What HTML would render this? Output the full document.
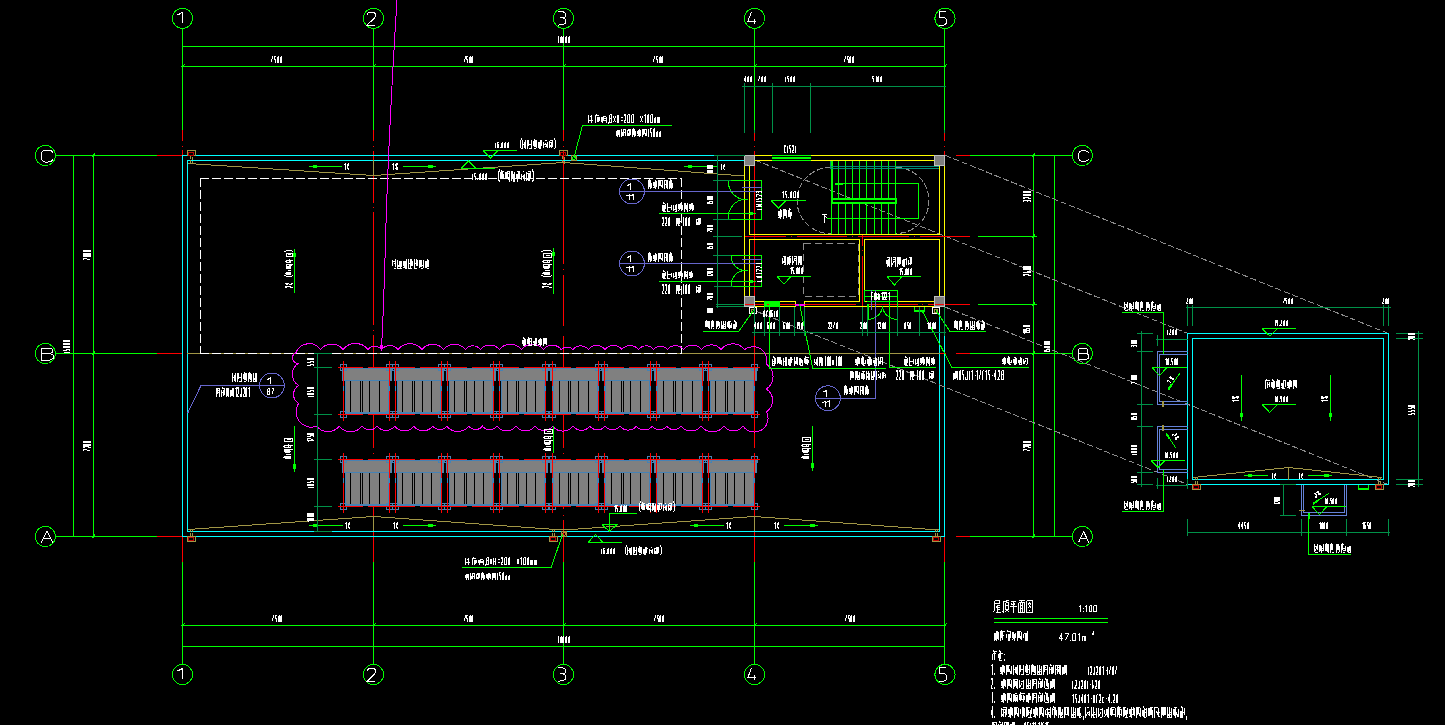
<!DOCTYPE html>
<html><head><meta charset="utf-8"><title>Roof plan</title>
<style>html,body{margin:0;padding:0;background:#000;overflow:hidden}body{width:1445px;height:725px;font-family:"Liberation Sans",sans-serif}svg{display:block}</style>
</head><body>
<svg width="1445" height="725" viewBox="0 0 1445 725" shape-rendering="crispEdges" role="img" aria-label="Roof plan CAD drawing">
<title>Roof plan 1:100</title>
<desc>屋顶平面图 1:100; 本层建筑面积 47.01m2; 轴线 1-5 / A-C; 7500 7500 7500 7500 30000; 7800 7200 15000; 太阳能光伏区域; 上人平屋面; 不上人平屋面; 电梯机房 15.000; 无机设备间 15.000; 屋面二 15.000; 女儿墙泛水; 出屋面详图 1/11; 砖砌踏步两步 220宽300高; 混凝土水簸箕; 钢筋混凝土雨篷 18.500; 溢流孔 BxH=200x100mm 孔底高出屋面150mm; 说明: 1.屋面女儿墙泛水做法详见12J201-1/B7 2.屋面外落水做法参见12J201-A20 3.屋面检修梯做法参见15J401-WT2c-4.28 4.高屋面向低屋面有组织排水时,在水落管下的低屋面上应加设水簸箕</desc>
<circle cx="182.5" cy="18.4" r="10.1" fill="none" stroke="#00ff00" stroke-width="1"/>
<circle cx="182.5" cy="674.5" r="10.1" fill="none" stroke="#00ff00" stroke-width="1"/>
<line x1="182.5" y1="29" x2="182.5" y2="130" stroke="#00ff00" stroke-width="1"/>
<line x1="182.5" y1="562" x2="182.5" y2="664.4" stroke="#00ff00" stroke-width="1"/>
<circle cx="373.5" cy="18.4" r="10.1" fill="none" stroke="#00ff00" stroke-width="1"/>
<circle cx="373.5" cy="674.5" r="10.1" fill="none" stroke="#00ff00" stroke-width="1"/>
<line x1="373.5" y1="29" x2="373.5" y2="130" stroke="#00ff00" stroke-width="1"/>
<line x1="373.5" y1="562" x2="373.5" y2="664.4" stroke="#00ff00" stroke-width="1"/>
<circle cx="563.5" cy="18.4" r="10.1" fill="none" stroke="#00ff00" stroke-width="1"/>
<circle cx="563.5" cy="674.5" r="10.1" fill="none" stroke="#00ff00" stroke-width="1"/>
<line x1="563.5" y1="29" x2="563.5" y2="130" stroke="#00ff00" stroke-width="1"/>
<line x1="563.5" y1="562" x2="563.5" y2="664.4" stroke="#00ff00" stroke-width="1"/>
<circle cx="754.5" cy="18.4" r="10.1" fill="none" stroke="#00ff00" stroke-width="1"/>
<circle cx="754.5" cy="674.5" r="10.1" fill="none" stroke="#00ff00" stroke-width="1"/>
<line x1="754.5" y1="29" x2="754.5" y2="130" stroke="#00ff00" stroke-width="1"/>
<line x1="754.5" y1="562" x2="754.5" y2="664.4" stroke="#00ff00" stroke-width="1"/>
<circle cx="945" cy="18.4" r="10.1" fill="none" stroke="#00ff00" stroke-width="1"/>
<circle cx="945" cy="674.5" r="10.1" fill="none" stroke="#00ff00" stroke-width="1"/>
<line x1="944.5" y1="29" x2="944.5" y2="130" stroke="#00ff00" stroke-width="1"/>
<line x1="944.5" y1="562" x2="944.5" y2="664.4" stroke="#00ff00" stroke-width="1"/>
<line x1="182" y1="46.5" x2="945" y2="46.5" stroke="#00ff00" stroke-width="1"/>
<line x1="181" y1="66.5" x2="946" y2="66.5" stroke="#00ff00" stroke-width="1"/>
<line x1="181" y1="625.5" x2="946" y2="625.5" stroke="#00ff00" stroke-width="1"/>
<line x1="182" y1="646.5" x2="945" y2="646.5" stroke="#00ff00" stroke-width="1"/>
<circle cx="45.4" cy="155.5" r="10.1" fill="none" stroke="#00ff00" stroke-width="1"/>
<circle cx="1082.4" cy="155.5" r="10.1" fill="none" stroke="#00ff00" stroke-width="1"/>
<line x1="56" y1="155.5" x2="157" y2="155.5" stroke="#00ff00" stroke-width="1"/>
<line x1="157" y1="155.5" x2="182" y2="155.5" stroke="#ff0000" stroke-width="1"/>
<line x1="970" y1="155.5" x2="1072" y2="155.5" stroke="#00ff00" stroke-width="1"/>
<line x1="956" y1="155.5" x2="970" y2="155.5" stroke="#ff0000" stroke-width="1"/>
<circle cx="45.4" cy="353.5" r="10.1" fill="none" stroke="#00ff00" stroke-width="1"/>
<circle cx="1082.4" cy="353.5" r="10.1" fill="none" stroke="#00ff00" stroke-width="1"/>
<line x1="56" y1="353.5" x2="157" y2="353.5" stroke="#00ff00" stroke-width="1"/>
<line x1="157" y1="353.5" x2="182" y2="353.5" stroke="#ff0000" stroke-width="1"/>
<line x1="970" y1="353.5" x2="1072" y2="353.5" stroke="#00ff00" stroke-width="1"/>
<line x1="956" y1="353.5" x2="970" y2="353.5" stroke="#ff0000" stroke-width="1"/>
<circle cx="45.4" cy="536.5" r="10.1" fill="none" stroke="#00ff00" stroke-width="1"/>
<circle cx="1082.4" cy="536.5" r="10.1" fill="none" stroke="#00ff00" stroke-width="1"/>
<line x1="56" y1="536.5" x2="157" y2="536.5" stroke="#00ff00" stroke-width="1"/>
<line x1="157" y1="536.5" x2="182" y2="536.5" stroke="#ff0000" stroke-width="1"/>
<line x1="970" y1="536.5" x2="1072" y2="536.5" stroke="#00ff00" stroke-width="1"/>
<line x1="956" y1="536.5" x2="970" y2="536.5" stroke="#ff0000" stroke-width="1"/>
<line x1="73.5" y1="155" x2="73.5" y2="537" stroke="#00ff00" stroke-width="1"/>
<line x1="93.5" y1="154" x2="93.5" y2="538" stroke="#00ff00" stroke-width="1"/>
<line x1="1033.5" y1="154" x2="1033.5" y2="538" stroke="#00ff00" stroke-width="1"/>
<line x1="1054.5" y1="155" x2="1054.5" y2="537" stroke="#00ff00" stroke-width="1"/>
<line x1="978" y1="236.5" x2="1037" y2="236.5" stroke="#00ff00" stroke-width="1"/>
<line x1="978" y1="304.5" x2="1037" y2="304.5" stroke="#00ff00" stroke-width="1"/>
<line x1="182.5" y1="130" x2="182.5" y2="140.5" stroke="#ff0000" stroke-width="1"/>
<line x1="182.5" y1="150" x2="182.5" y2="155" stroke="#ff0000" stroke-width="1"/>
<line x1="182.5" y1="537" x2="182.5" y2="562" stroke="#ff0000" stroke-width="1"/>
<line x1="182.5" y1="145.55" x2="182.5" y2="147.05" stroke="#ff0000" stroke-width="1"/>
<line x1="373.5" y1="130" x2="373.5" y2="140.5" stroke="#ff0000" stroke-width="1"/>
<line x1="373.5" y1="150.5" x2="373.5" y2="202.8" stroke="#ff0000" stroke-width="1"/>
<line x1="373.5" y1="212" x2="373.5" y2="325.3" stroke="#ff0000" stroke-width="1"/>
<line x1="373.5" y1="335.2" x2="373.5" y2="448" stroke="#ff0000" stroke-width="1"/>
<line x1="373.5" y1="459" x2="373.5" y2="562" stroke="#ff0000" stroke-width="1"/>
<line x1="373.5" y1="145.55" x2="373.5" y2="147.05" stroke="#ff0000" stroke-width="1"/>
<line x1="373.5" y1="206.55" x2="373.5" y2="208.05" stroke="#ff0000" stroke-width="1"/>
<line x1="373.5" y1="329.55" x2="373.5" y2="331.05" stroke="#ff0000" stroke-width="1"/>
<line x1="373.5" y1="452.85" x2="373.5" y2="454.35" stroke="#ff0000" stroke-width="1"/>
<line x1="563.5" y1="130" x2="563.5" y2="140.5" stroke="#ff0000" stroke-width="1"/>
<line x1="563.5" y1="150.5" x2="563.5" y2="263.5" stroke="#ff0000" stroke-width="1"/>
<line x1="563.5" y1="274.8" x2="563.5" y2="326" stroke="#ff0000" stroke-width="1"/>
<line x1="563.5" y1="335.7" x2="563.5" y2="448" stroke="#ff0000" stroke-width="1"/>
<line x1="563.5" y1="459" x2="563.5" y2="509" stroke="#ff0000" stroke-width="1"/>
<line x1="563.5" y1="520" x2="563.5" y2="562" stroke="#ff0000" stroke-width="1"/>
<line x1="563.5" y1="145.55" x2="563.5" y2="147.05" stroke="#ff0000" stroke-width="1"/>
<line x1="563.5" y1="268.75" x2="563.5" y2="270.25" stroke="#ff0000" stroke-width="1"/>
<line x1="563.5" y1="452.85" x2="563.5" y2="454.35" stroke="#ff0000" stroke-width="1"/>
<line x1="563.5" y1="514.65" x2="563.5" y2="516.15" stroke="#ff0000" stroke-width="1"/>
<line x1="754.5" y1="130" x2="754.5" y2="140.5" stroke="#ff0000" stroke-width="1"/>
<line x1="754.5" y1="150.5" x2="754.5" y2="306" stroke="#ff0000" stroke-width="1"/>
<line x1="754.5" y1="335.5" x2="754.5" y2="448" stroke="#ff0000" stroke-width="1"/>
<line x1="754.5" y1="459" x2="754.5" y2="562" stroke="#ff0000" stroke-width="1"/>
<line x1="754.5" y1="145.55" x2="754.5" y2="147.05" stroke="#ff0000" stroke-width="1"/>
<line x1="754.5" y1="452.85" x2="754.5" y2="454.35" stroke="#ff0000" stroke-width="1"/>
<line x1="944.5" y1="130" x2="944.5" y2="140.5" stroke="#ff0000" stroke-width="1"/>
<line x1="944.5" y1="151" x2="944.5" y2="155" stroke="#ff0000" stroke-width="1"/>
<line x1="944.5" y1="537" x2="944.5" y2="562" stroke="#ff0000" stroke-width="1"/>
<line x1="944.5" y1="145.55" x2="944.5" y2="147.05" stroke="#ff0000" stroke-width="1"/>
<line x1="182" y1="155.5" x2="744" y2="155.5" stroke="#00ffff" stroke-width="1"/>
<line x1="182.5" y1="155" x2="182.5" y2="537" stroke="#00ffff" stroke-width="1"/>
<line x1="182" y1="536.5" x2="945" y2="536.5" stroke="#00ffff" stroke-width="1"/>
<line x1="944.5" y1="307" x2="944.5" y2="537" stroke="#00ffff" stroke-width="1"/>
<line x1="187" y1="160.5" x2="744" y2="160.5" stroke="#00ffff" stroke-width="1"/>
<line x1="187.5" y1="160" x2="187.5" y2="532" stroke="#00ffff" stroke-width="1"/>
<line x1="187" y1="531.5" x2="940" y2="531.5" stroke="#00ffff" stroke-width="1"/>
<line x1="939.5" y1="307" x2="939.5" y2="532" stroke="#00ffff" stroke-width="1"/>
<path d="M188,163.5 L373.5,175.5 L563.5,162.5 L744.5,176" fill="none" stroke="#a09646" stroke-width="1"/>
<path d="M188,529.5 L373.5,516.5 L563.5,530 L754.5,516.5 L939,530" fill="none" stroke="#a09646" stroke-width="1"/>
<line x1="373.5" y1="516" x2="373.5" y2="531" stroke="#a09646" stroke-width="1"/>
<line x1="754.5" y1="516" x2="754.5" y2="531" stroke="#a09646" stroke-width="1"/>
<line x1="373.5" y1="160" x2="373.5" y2="176" stroke="#a09646" stroke-width="1"/>
<line x1="187" y1="353.5" x2="940" y2="353.5" stroke="#a09646" stroke-width="1"/>
<line x1="940" y1="353.5" x2="946" y2="353.5" stroke="#ff0000" stroke-width="1"/>
<line x1="200" y1="178.5" x2="682" y2="178.5" stroke="#ffffff" stroke-width="1" stroke-dasharray="9 3"/>
<line x1="200.5" y1="178" x2="200.5" y2="354" stroke="#ffffff" stroke-width="1" stroke-dasharray="9 3"/>
<line x1="681.5" y1="178" x2="681.5" y2="354" stroke="#ffffff" stroke-width="1" stroke-dasharray="9 3"/>
<line x1="200" y1="353.5" x2="682" y2="353.5" stroke="#ffffff" stroke-width="1" stroke-dasharray="9 3"/>
<rect x="344" y="368" width="47.5" height="12.5" fill="#808080" stroke="none" stroke-width="1"/>
<rect x="344.5" y="380.5" width="44.5" height="33" fill="#808080" stroke="none" stroke-width="1"/>
<rect x="342" y="368.5" width="49" height="12" fill="none" stroke="#4682b4" stroke-width="1"/>
<rect x="345" y="380.5" width="43.5" height="32" fill="none" stroke="#4682b4" stroke-width="1"/>
<line x1="350.5" y1="381" x2="350.5" y2="412" stroke="#000" stroke-width="1"/>
<line x1="360.5" y1="381" x2="360.5" y2="412" stroke="#000" stroke-width="1"/>
<line x1="362.5" y1="381" x2="362.5" y2="412" stroke="#000" stroke-width="1"/>
<line x1="369.5" y1="381" x2="369.5" y2="412" stroke="#000" stroke-width="1"/>
<line x1="379.5" y1="381" x2="379.5" y2="412" stroke="#000" stroke-width="1"/>
<rect x="393.64" y="368" width="50" height="12.5" fill="#808080" stroke="none" stroke-width="1"/>
<rect x="396.64" y="380.5" width="44.5" height="33" fill="#808080" stroke="none" stroke-width="1"/>
<rect x="394.14" y="368.5" width="49" height="12" fill="none" stroke="#4682b4" stroke-width="1"/>
<rect x="397.14" y="380.5" width="43.5" height="32" fill="none" stroke="#4682b4" stroke-width="1"/>
<line x1="402.5" y1="381" x2="402.5" y2="412" stroke="#000" stroke-width="1"/>
<line x1="412.5" y1="381" x2="412.5" y2="412" stroke="#000" stroke-width="1"/>
<line x1="414.5" y1="381" x2="414.5" y2="412" stroke="#000" stroke-width="1"/>
<line x1="422.5" y1="381" x2="422.5" y2="412" stroke="#000" stroke-width="1"/>
<line x1="431.5" y1="381" x2="431.5" y2="412" stroke="#000" stroke-width="1"/>
<rect x="445.79" y="368" width="50" height="12.5" fill="#808080" stroke="none" stroke-width="1"/>
<rect x="448.79" y="380.5" width="44.5" height="33" fill="#808080" stroke="none" stroke-width="1"/>
<rect x="446.29" y="368.5" width="49" height="12" fill="none" stroke="#4682b4" stroke-width="1"/>
<rect x="449.29" y="380.5" width="43.5" height="32" fill="none" stroke="#4682b4" stroke-width="1"/>
<line x1="454.5" y1="381" x2="454.5" y2="412" stroke="#000" stroke-width="1"/>
<line x1="464.5" y1="381" x2="464.5" y2="412" stroke="#000" stroke-width="1"/>
<line x1="466.5" y1="381" x2="466.5" y2="412" stroke="#000" stroke-width="1"/>
<line x1="474.5" y1="381" x2="474.5" y2="412" stroke="#000" stroke-width="1"/>
<line x1="483.5" y1="381" x2="483.5" y2="412" stroke="#000" stroke-width="1"/>
<rect x="497.93" y="368" width="50" height="12.5" fill="#808080" stroke="none" stroke-width="1"/>
<rect x="500.93" y="380.5" width="44.5" height="33" fill="#808080" stroke="none" stroke-width="1"/>
<rect x="498.43" y="368.5" width="49" height="12" fill="none" stroke="#4682b4" stroke-width="1"/>
<rect x="501.43" y="380.5" width="43.5" height="32" fill="none" stroke="#4682b4" stroke-width="1"/>
<line x1="507.5" y1="381" x2="507.5" y2="412" stroke="#000" stroke-width="1"/>
<line x1="516.5" y1="381" x2="516.5" y2="412" stroke="#000" stroke-width="1"/>
<line x1="518.5" y1="381" x2="518.5" y2="412" stroke="#000" stroke-width="1"/>
<line x1="526.5" y1="381" x2="526.5" y2="412" stroke="#000" stroke-width="1"/>
<line x1="535.5" y1="381" x2="535.5" y2="412" stroke="#000" stroke-width="1"/>
<rect x="550.07" y="368" width="50" height="12.5" fill="#808080" stroke="none" stroke-width="1"/>
<rect x="553.07" y="380.5" width="44.5" height="33" fill="#808080" stroke="none" stroke-width="1"/>
<rect x="550.57" y="368.5" width="49" height="12" fill="none" stroke="#4682b4" stroke-width="1"/>
<rect x="553.57" y="380.5" width="43.5" height="32" fill="none" stroke="#4682b4" stroke-width="1"/>
<line x1="559.5" y1="381" x2="559.5" y2="412" stroke="#000" stroke-width="1"/>
<line x1="568.5" y1="381" x2="568.5" y2="412" stroke="#000" stroke-width="1"/>
<line x1="570.5" y1="381" x2="570.5" y2="412" stroke="#000" stroke-width="1"/>
<line x1="578.5" y1="381" x2="578.5" y2="412" stroke="#000" stroke-width="1"/>
<line x1="588.5" y1="381" x2="588.5" y2="412" stroke="#000" stroke-width="1"/>
<rect x="602.21" y="368" width="50" height="12.5" fill="#808080" stroke="none" stroke-width="1"/>
<rect x="605.21" y="380.5" width="44.5" height="33" fill="#808080" stroke="none" stroke-width="1"/>
<rect x="602.71" y="368.5" width="49" height="12" fill="none" stroke="#4682b4" stroke-width="1"/>
<rect x="605.71" y="380.5" width="43.5" height="32" fill="none" stroke="#4682b4" stroke-width="1"/>
<line x1="611.5" y1="381" x2="611.5" y2="412" stroke="#000" stroke-width="1"/>
<line x1="621.5" y1="381" x2="621.5" y2="412" stroke="#000" stroke-width="1"/>
<line x1="623.5" y1="381" x2="623.5" y2="412" stroke="#000" stroke-width="1"/>
<line x1="630.5" y1="381" x2="630.5" y2="412" stroke="#000" stroke-width="1"/>
<line x1="640.5" y1="381" x2="640.5" y2="412" stroke="#000" stroke-width="1"/>
<rect x="654.36" y="368" width="50" height="12.5" fill="#808080" stroke="none" stroke-width="1"/>
<rect x="657.36" y="380.5" width="44.5" height="33" fill="#808080" stroke="none" stroke-width="1"/>
<rect x="654.86" y="368.5" width="49" height="12" fill="none" stroke="#4682b4" stroke-width="1"/>
<rect x="657.86" y="380.5" width="43.5" height="32" fill="none" stroke="#4682b4" stroke-width="1"/>
<line x1="663.5" y1="381" x2="663.5" y2="412" stroke="#000" stroke-width="1"/>
<line x1="673.5" y1="381" x2="673.5" y2="412" stroke="#000" stroke-width="1"/>
<line x1="675.5" y1="381" x2="675.5" y2="412" stroke="#000" stroke-width="1"/>
<line x1="682.5" y1="381" x2="682.5" y2="412" stroke="#000" stroke-width="1"/>
<line x1="692.5" y1="381" x2="692.5" y2="412" stroke="#000" stroke-width="1"/>
<rect x="706.5" y="368" width="50" height="12.5" fill="#808080" stroke="none" stroke-width="1"/>
<rect x="709.5" y="380.5" width="44.5" height="33" fill="#808080" stroke="none" stroke-width="1"/>
<rect x="707" y="368.5" width="49" height="12" fill="none" stroke="#4682b4" stroke-width="1"/>
<rect x="710" y="380.5" width="43.5" height="32" fill="none" stroke="#4682b4" stroke-width="1"/>
<line x1="715.5" y1="381" x2="715.5" y2="412" stroke="#000" stroke-width="1"/>
<line x1="725.5" y1="381" x2="725.5" y2="412" stroke="#000" stroke-width="1"/>
<line x1="727.5" y1="381" x2="727.5" y2="412" stroke="#000" stroke-width="1"/>
<line x1="734.5" y1="381" x2="734.5" y2="412" stroke="#000" stroke-width="1"/>
<line x1="744.5" y1="381" x2="744.5" y2="412" stroke="#000" stroke-width="1"/>
<rect x="340.5" y="364.5" width="6" height="6" fill="none" stroke="#4682b4" stroke-width="1"/>
<rect x="340.5" y="411.5" width="6" height="6" fill="none" stroke="#4682b4" stroke-width="1"/>
<rect x="386.5" y="364.5" width="6" height="6" fill="none" stroke="#4682b4" stroke-width="1"/>
<rect x="386.5" y="411.5" width="6" height="6" fill="none" stroke="#4682b4" stroke-width="1"/>
<rect x="392.5" y="364.5" width="6" height="6" fill="none" stroke="#4682b4" stroke-width="1"/>
<rect x="392.5" y="411.5" width="6" height="6" fill="none" stroke="#4682b4" stroke-width="1"/>
<rect x="438.5" y="364.5" width="6" height="6" fill="none" stroke="#4682b4" stroke-width="1"/>
<rect x="438.5" y="411.5" width="6" height="6" fill="none" stroke="#4682b4" stroke-width="1"/>
<rect x="444.5" y="364.5" width="6" height="6" fill="none" stroke="#4682b4" stroke-width="1"/>
<rect x="444.5" y="411.5" width="6" height="6" fill="none" stroke="#4682b4" stroke-width="1"/>
<rect x="490.5" y="364.5" width="6" height="6" fill="none" stroke="#4682b4" stroke-width="1"/>
<rect x="490.5" y="411.5" width="6" height="6" fill="none" stroke="#4682b4" stroke-width="1"/>
<rect x="496.5" y="364.5" width="6" height="6" fill="none" stroke="#4682b4" stroke-width="1"/>
<rect x="496.5" y="411.5" width="6" height="6" fill="none" stroke="#4682b4" stroke-width="1"/>
<rect x="542.5" y="364.5" width="6" height="6" fill="none" stroke="#4682b4" stroke-width="1"/>
<rect x="542.5" y="411.5" width="6" height="6" fill="none" stroke="#4682b4" stroke-width="1"/>
<rect x="549.5" y="364.5" width="6" height="6" fill="none" stroke="#4682b4" stroke-width="1"/>
<rect x="549.5" y="411.5" width="6" height="6" fill="none" stroke="#4682b4" stroke-width="1"/>
<rect x="595.5" y="364.5" width="6" height="6" fill="none" stroke="#4682b4" stroke-width="1"/>
<rect x="595.5" y="411.5" width="6" height="6" fill="none" stroke="#4682b4" stroke-width="1"/>
<rect x="601.5" y="364.5" width="6" height="6" fill="none" stroke="#4682b4" stroke-width="1"/>
<rect x="601.5" y="411.5" width="6" height="6" fill="none" stroke="#4682b4" stroke-width="1"/>
<rect x="647.5" y="364.5" width="6" height="6" fill="none" stroke="#4682b4" stroke-width="1"/>
<rect x="647.5" y="411.5" width="6" height="6" fill="none" stroke="#4682b4" stroke-width="1"/>
<rect x="653.5" y="364.5" width="6" height="6" fill="none" stroke="#4682b4" stroke-width="1"/>
<rect x="653.5" y="411.5" width="6" height="6" fill="none" stroke="#4682b4" stroke-width="1"/>
<rect x="699.5" y="364.5" width="6" height="6" fill="none" stroke="#4682b4" stroke-width="1"/>
<rect x="699.5" y="411.5" width="6" height="6" fill="none" stroke="#4682b4" stroke-width="1"/>
<rect x="705.5" y="364.5" width="6" height="6" fill="none" stroke="#4682b4" stroke-width="1"/>
<rect x="705.5" y="411.5" width="6" height="6" fill="none" stroke="#4682b4" stroke-width="1"/>
<rect x="751.5" y="364.5" width="6" height="6" fill="none" stroke="#4682b4" stroke-width="1"/>
<rect x="751.5" y="411.5" width="6" height="6" fill="none" stroke="#4682b4" stroke-width="1"/>
<line x1="345" y1="368.5" x2="754" y2="368.5" stroke="#4682b4" stroke-width="1"/>
<line x1="345" y1="413.5" x2="754" y2="413.5" stroke="#4682b4" stroke-width="1"/>
<line x1="338" y1="367.5" x2="760" y2="367.5" stroke="#ff0000" stroke-width="1" stroke-dasharray="47.14 5" stroke-dashoffset="22.3"/>
<line x1="338" y1="414.5" x2="760" y2="414.5" stroke="#ff0000" stroke-width="1" stroke-dasharray="47.14 5" stroke-dashoffset="22.3"/>
<line x1="343.5" y1="360.5" x2="343.5" y2="386" stroke="#ff0000" stroke-width="1"/>
<line x1="343.5" y1="391" x2="343.5" y2="420.5" stroke="#ff0000" stroke-width="1"/>
<line x1="343.5" y1="386" x2="343.5" y2="391" stroke="#4682b4" stroke-width="1"/>
<line x1="389.5" y1="360.5" x2="389.5" y2="386" stroke="#ff0000" stroke-width="1"/>
<line x1="389.5" y1="391" x2="389.5" y2="420.5" stroke="#ff0000" stroke-width="1"/>
<line x1="389.5" y1="386" x2="389.5" y2="391" stroke="#4682b4" stroke-width="1"/>
<line x1="395.5" y1="360.5" x2="395.5" y2="386" stroke="#ff0000" stroke-width="1"/>
<line x1="395.5" y1="391" x2="395.5" y2="420.5" stroke="#ff0000" stroke-width="1"/>
<line x1="395.5" y1="386" x2="395.5" y2="391" stroke="#4682b4" stroke-width="1"/>
<line x1="441.5" y1="360.5" x2="441.5" y2="386" stroke="#ff0000" stroke-width="1"/>
<line x1="441.5" y1="391" x2="441.5" y2="420.5" stroke="#ff0000" stroke-width="1"/>
<line x1="441.5" y1="386" x2="441.5" y2="391" stroke="#4682b4" stroke-width="1"/>
<line x1="447.5" y1="360.5" x2="447.5" y2="386" stroke="#ff0000" stroke-width="1"/>
<line x1="447.5" y1="391" x2="447.5" y2="420.5" stroke="#ff0000" stroke-width="1"/>
<line x1="447.5" y1="386" x2="447.5" y2="391" stroke="#4682b4" stroke-width="1"/>
<line x1="493.5" y1="360.5" x2="493.5" y2="386" stroke="#ff0000" stroke-width="1"/>
<line x1="493.5" y1="391" x2="493.5" y2="420.5" stroke="#ff0000" stroke-width="1"/>
<line x1="493.5" y1="386" x2="493.5" y2="391" stroke="#4682b4" stroke-width="1"/>
<line x1="499.5" y1="360.5" x2="499.5" y2="386" stroke="#ff0000" stroke-width="1"/>
<line x1="499.5" y1="391" x2="499.5" y2="420.5" stroke="#ff0000" stroke-width="1"/>
<line x1="499.5" y1="386" x2="499.5" y2="391" stroke="#4682b4" stroke-width="1"/>
<line x1="545.5" y1="360.5" x2="545.5" y2="386" stroke="#ff0000" stroke-width="1"/>
<line x1="545.5" y1="391" x2="545.5" y2="420.5" stroke="#ff0000" stroke-width="1"/>
<line x1="545.5" y1="386" x2="545.5" y2="391" stroke="#4682b4" stroke-width="1"/>
<line x1="552.5" y1="360.5" x2="552.5" y2="386" stroke="#ff0000" stroke-width="1"/>
<line x1="552.5" y1="391" x2="552.5" y2="420.5" stroke="#ff0000" stroke-width="1"/>
<line x1="552.5" y1="386" x2="552.5" y2="391" stroke="#4682b4" stroke-width="1"/>
<line x1="598.5" y1="360.5" x2="598.5" y2="386" stroke="#ff0000" stroke-width="1"/>
<line x1="598.5" y1="391" x2="598.5" y2="420.5" stroke="#ff0000" stroke-width="1"/>
<line x1="598.5" y1="386" x2="598.5" y2="391" stroke="#4682b4" stroke-width="1"/>
<line x1="604.5" y1="360.5" x2="604.5" y2="386" stroke="#ff0000" stroke-width="1"/>
<line x1="604.5" y1="391" x2="604.5" y2="420.5" stroke="#ff0000" stroke-width="1"/>
<line x1="604.5" y1="386" x2="604.5" y2="391" stroke="#4682b4" stroke-width="1"/>
<line x1="650.5" y1="360.5" x2="650.5" y2="386" stroke="#ff0000" stroke-width="1"/>
<line x1="650.5" y1="391" x2="650.5" y2="420.5" stroke="#ff0000" stroke-width="1"/>
<line x1="650.5" y1="386" x2="650.5" y2="391" stroke="#4682b4" stroke-width="1"/>
<line x1="656.5" y1="360.5" x2="656.5" y2="386" stroke="#ff0000" stroke-width="1"/>
<line x1="656.5" y1="391" x2="656.5" y2="420.5" stroke="#ff0000" stroke-width="1"/>
<line x1="656.5" y1="386" x2="656.5" y2="391" stroke="#4682b4" stroke-width="1"/>
<line x1="702.5" y1="360.5" x2="702.5" y2="386" stroke="#ff0000" stroke-width="1"/>
<line x1="702.5" y1="391" x2="702.5" y2="420.5" stroke="#ff0000" stroke-width="1"/>
<line x1="702.5" y1="386" x2="702.5" y2="391" stroke="#4682b4" stroke-width="1"/>
<line x1="708.5" y1="360.5" x2="708.5" y2="386" stroke="#ff0000" stroke-width="1"/>
<line x1="708.5" y1="391" x2="708.5" y2="420.5" stroke="#ff0000" stroke-width="1"/>
<line x1="708.5" y1="386" x2="708.5" y2="391" stroke="#4682b4" stroke-width="1"/>
<line x1="754.5" y1="360.5" x2="754.5" y2="386" stroke="#ff0000" stroke-width="1"/>
<line x1="754.5" y1="391" x2="754.5" y2="420.5" stroke="#ff0000" stroke-width="1"/>
<line x1="754.5" y1="386" x2="754.5" y2="391" stroke="#4682b4" stroke-width="1"/>
<rect x="344" y="460" width="47.5" height="12.5" fill="#808080" stroke="none" stroke-width="1"/>
<rect x="344.5" y="472.5" width="44.5" height="33" fill="#808080" stroke="none" stroke-width="1"/>
<rect x="342" y="460.5" width="49" height="12" fill="none" stroke="#4682b4" stroke-width="1"/>
<rect x="345" y="472.5" width="43.5" height="32" fill="none" stroke="#4682b4" stroke-width="1"/>
<line x1="350.5" y1="473" x2="350.5" y2="504" stroke="#000" stroke-width="1"/>
<line x1="360.5" y1="473" x2="360.5" y2="504" stroke="#000" stroke-width="1"/>
<line x1="362.5" y1="473" x2="362.5" y2="504" stroke="#000" stroke-width="1"/>
<line x1="369.5" y1="473" x2="369.5" y2="504" stroke="#000" stroke-width="1"/>
<line x1="379.5" y1="473" x2="379.5" y2="504" stroke="#000" stroke-width="1"/>
<rect x="393.64" y="460" width="50" height="12.5" fill="#808080" stroke="none" stroke-width="1"/>
<rect x="396.64" y="472.5" width="44.5" height="33" fill="#808080" stroke="none" stroke-width="1"/>
<rect x="394.14" y="460.5" width="49" height="12" fill="none" stroke="#4682b4" stroke-width="1"/>
<rect x="397.14" y="472.5" width="43.5" height="32" fill="none" stroke="#4682b4" stroke-width="1"/>
<line x1="402.5" y1="473" x2="402.5" y2="504" stroke="#000" stroke-width="1"/>
<line x1="412.5" y1="473" x2="412.5" y2="504" stroke="#000" stroke-width="1"/>
<line x1="414.5" y1="473" x2="414.5" y2="504" stroke="#000" stroke-width="1"/>
<line x1="422.5" y1="473" x2="422.5" y2="504" stroke="#000" stroke-width="1"/>
<line x1="431.5" y1="473" x2="431.5" y2="504" stroke="#000" stroke-width="1"/>
<rect x="445.79" y="460" width="50" height="12.5" fill="#808080" stroke="none" stroke-width="1"/>
<rect x="448.79" y="472.5" width="44.5" height="33" fill="#808080" stroke="none" stroke-width="1"/>
<rect x="446.29" y="460.5" width="49" height="12" fill="none" stroke="#4682b4" stroke-width="1"/>
<rect x="449.29" y="472.5" width="43.5" height="32" fill="none" stroke="#4682b4" stroke-width="1"/>
<line x1="454.5" y1="473" x2="454.5" y2="504" stroke="#000" stroke-width="1"/>
<line x1="464.5" y1="473" x2="464.5" y2="504" stroke="#000" stroke-width="1"/>
<line x1="466.5" y1="473" x2="466.5" y2="504" stroke="#000" stroke-width="1"/>
<line x1="474.5" y1="473" x2="474.5" y2="504" stroke="#000" stroke-width="1"/>
<line x1="483.5" y1="473" x2="483.5" y2="504" stroke="#000" stroke-width="1"/>
<rect x="497.93" y="460" width="50" height="12.5" fill="#808080" stroke="none" stroke-width="1"/>
<rect x="500.93" y="472.5" width="44.5" height="33" fill="#808080" stroke="none" stroke-width="1"/>
<rect x="498.43" y="460.5" width="49" height="12" fill="none" stroke="#4682b4" stroke-width="1"/>
<rect x="501.43" y="472.5" width="43.5" height="32" fill="none" stroke="#4682b4" stroke-width="1"/>
<line x1="507.5" y1="473" x2="507.5" y2="504" stroke="#000" stroke-width="1"/>
<line x1="516.5" y1="473" x2="516.5" y2="504" stroke="#000" stroke-width="1"/>
<line x1="518.5" y1="473" x2="518.5" y2="504" stroke="#000" stroke-width="1"/>
<line x1="526.5" y1="473" x2="526.5" y2="504" stroke="#000" stroke-width="1"/>
<line x1="535.5" y1="473" x2="535.5" y2="504" stroke="#000" stroke-width="1"/>
<rect x="550.07" y="460" width="50" height="12.5" fill="#808080" stroke="none" stroke-width="1"/>
<rect x="553.07" y="472.5" width="44.5" height="33" fill="#808080" stroke="none" stroke-width="1"/>
<rect x="550.57" y="460.5" width="49" height="12" fill="none" stroke="#4682b4" stroke-width="1"/>
<rect x="553.57" y="472.5" width="43.5" height="32" fill="none" stroke="#4682b4" stroke-width="1"/>
<line x1="559.5" y1="473" x2="559.5" y2="504" stroke="#000" stroke-width="1"/>
<line x1="568.5" y1="473" x2="568.5" y2="504" stroke="#000" stroke-width="1"/>
<line x1="570.5" y1="473" x2="570.5" y2="504" stroke="#000" stroke-width="1"/>
<line x1="578.5" y1="473" x2="578.5" y2="504" stroke="#000" stroke-width="1"/>
<line x1="588.5" y1="473" x2="588.5" y2="504" stroke="#000" stroke-width="1"/>
<rect x="602.21" y="460" width="50" height="12.5" fill="#808080" stroke="none" stroke-width="1"/>
<rect x="605.21" y="472.5" width="44.5" height="33" fill="#808080" stroke="none" stroke-width="1"/>
<rect x="602.71" y="460.5" width="49" height="12" fill="none" stroke="#4682b4" stroke-width="1"/>
<rect x="605.71" y="472.5" width="43.5" height="32" fill="none" stroke="#4682b4" stroke-width="1"/>
<line x1="611.5" y1="473" x2="611.5" y2="504" stroke="#000" stroke-width="1"/>
<line x1="621.5" y1="473" x2="621.5" y2="504" stroke="#000" stroke-width="1"/>
<line x1="623.5" y1="473" x2="623.5" y2="504" stroke="#000" stroke-width="1"/>
<line x1="630.5" y1="473" x2="630.5" y2="504" stroke="#000" stroke-width="1"/>
<line x1="640.5" y1="473" x2="640.5" y2="504" stroke="#000" stroke-width="1"/>
<rect x="654.36" y="460" width="50" height="12.5" fill="#808080" stroke="none" stroke-width="1"/>
<rect x="657.36" y="472.5" width="44.5" height="33" fill="#808080" stroke="none" stroke-width="1"/>
<rect x="654.86" y="460.5" width="49" height="12" fill="none" stroke="#4682b4" stroke-width="1"/>
<rect x="657.86" y="472.5" width="43.5" height="32" fill="none" stroke="#4682b4" stroke-width="1"/>
<line x1="663.5" y1="473" x2="663.5" y2="504" stroke="#000" stroke-width="1"/>
<line x1="673.5" y1="473" x2="673.5" y2="504" stroke="#000" stroke-width="1"/>
<line x1="675.5" y1="473" x2="675.5" y2="504" stroke="#000" stroke-width="1"/>
<line x1="682.5" y1="473" x2="682.5" y2="504" stroke="#000" stroke-width="1"/>
<line x1="692.5" y1="473" x2="692.5" y2="504" stroke="#000" stroke-width="1"/>
<rect x="706.5" y="460" width="50" height="12.5" fill="#808080" stroke="none" stroke-width="1"/>
<rect x="709.5" y="472.5" width="44.5" height="33" fill="#808080" stroke="none" stroke-width="1"/>
<rect x="707" y="460.5" width="49" height="12" fill="none" stroke="#4682b4" stroke-width="1"/>
<rect x="710" y="472.5" width="43.5" height="32" fill="none" stroke="#4682b4" stroke-width="1"/>
<line x1="715.5" y1="473" x2="715.5" y2="504" stroke="#000" stroke-width="1"/>
<line x1="725.5" y1="473" x2="725.5" y2="504" stroke="#000" stroke-width="1"/>
<line x1="727.5" y1="473" x2="727.5" y2="504" stroke="#000" stroke-width="1"/>
<line x1="734.5" y1="473" x2="734.5" y2="504" stroke="#000" stroke-width="1"/>
<line x1="744.5" y1="473" x2="744.5" y2="504" stroke="#000" stroke-width="1"/>
<rect x="340.5" y="456.5" width="6" height="6" fill="none" stroke="#4682b4" stroke-width="1"/>
<rect x="340.5" y="503.5" width="6" height="6" fill="none" stroke="#4682b4" stroke-width="1"/>
<rect x="386.5" y="456.5" width="6" height="6" fill="none" stroke="#4682b4" stroke-width="1"/>
<rect x="386.5" y="503.5" width="6" height="6" fill="none" stroke="#4682b4" stroke-width="1"/>
<rect x="392.5" y="456.5" width="6" height="6" fill="none" stroke="#4682b4" stroke-width="1"/>
<rect x="392.5" y="503.5" width="6" height="6" fill="none" stroke="#4682b4" stroke-width="1"/>
<rect x="438.5" y="456.5" width="6" height="6" fill="none" stroke="#4682b4" stroke-width="1"/>
<rect x="438.5" y="503.5" width="6" height="6" fill="none" stroke="#4682b4" stroke-width="1"/>
<rect x="444.5" y="456.5" width="6" height="6" fill="none" stroke="#4682b4" stroke-width="1"/>
<rect x="444.5" y="503.5" width="6" height="6" fill="none" stroke="#4682b4" stroke-width="1"/>
<rect x="490.5" y="456.5" width="6" height="6" fill="none" stroke="#4682b4" stroke-width="1"/>
<rect x="490.5" y="503.5" width="6" height="6" fill="none" stroke="#4682b4" stroke-width="1"/>
<rect x="496.5" y="456.5" width="6" height="6" fill="none" stroke="#4682b4" stroke-width="1"/>
<rect x="496.5" y="503.5" width="6" height="6" fill="none" stroke="#4682b4" stroke-width="1"/>
<rect x="542.5" y="456.5" width="6" height="6" fill="none" stroke="#4682b4" stroke-width="1"/>
<rect x="542.5" y="503.5" width="6" height="6" fill="none" stroke="#4682b4" stroke-width="1"/>
<rect x="549.5" y="456.5" width="6" height="6" fill="none" stroke="#4682b4" stroke-width="1"/>
<rect x="549.5" y="503.5" width="6" height="6" fill="none" stroke="#4682b4" stroke-width="1"/>
<rect x="595.5" y="456.5" width="6" height="6" fill="none" stroke="#4682b4" stroke-width="1"/>
<rect x="595.5" y="503.5" width="6" height="6" fill="none" stroke="#4682b4" stroke-width="1"/>
<rect x="601.5" y="456.5" width="6" height="6" fill="none" stroke="#4682b4" stroke-width="1"/>
<rect x="601.5" y="503.5" width="6" height="6" fill="none" stroke="#4682b4" stroke-width="1"/>
<rect x="647.5" y="456.5" width="6" height="6" fill="none" stroke="#4682b4" stroke-width="1"/>
<rect x="647.5" y="503.5" width="6" height="6" fill="none" stroke="#4682b4" stroke-width="1"/>
<rect x="653.5" y="456.5" width="6" height="6" fill="none" stroke="#4682b4" stroke-width="1"/>
<rect x="653.5" y="503.5" width="6" height="6" fill="none" stroke="#4682b4" stroke-width="1"/>
<rect x="699.5" y="456.5" width="6" height="6" fill="none" stroke="#4682b4" stroke-width="1"/>
<rect x="699.5" y="503.5" width="6" height="6" fill="none" stroke="#4682b4" stroke-width="1"/>
<rect x="705.5" y="456.5" width="6" height="6" fill="none" stroke="#4682b4" stroke-width="1"/>
<rect x="705.5" y="503.5" width="6" height="6" fill="none" stroke="#4682b4" stroke-width="1"/>
<rect x="751.5" y="456.5" width="6" height="6" fill="none" stroke="#4682b4" stroke-width="1"/>
<rect x="751.5" y="503.5" width="6" height="6" fill="none" stroke="#4682b4" stroke-width="1"/>
<line x1="345" y1="460.5" x2="754" y2="460.5" stroke="#4682b4" stroke-width="1"/>
<line x1="345" y1="505.5" x2="754" y2="505.5" stroke="#4682b4" stroke-width="1"/>
<line x1="338" y1="459.5" x2="760" y2="459.5" stroke="#ff0000" stroke-width="1" stroke-dasharray="47.14 5" stroke-dashoffset="22.3"/>
<line x1="338" y1="506.5" x2="760" y2="506.5" stroke="#ff0000" stroke-width="1" stroke-dasharray="47.14 5" stroke-dashoffset="22.3"/>
<line x1="343.5" y1="452.5" x2="343.5" y2="478" stroke="#ff0000" stroke-width="1"/>
<line x1="343.5" y1="483" x2="343.5" y2="512.5" stroke="#ff0000" stroke-width="1"/>
<line x1="343.5" y1="478" x2="343.5" y2="483" stroke="#4682b4" stroke-width="1"/>
<line x1="389.5" y1="452.5" x2="389.5" y2="478" stroke="#ff0000" stroke-width="1"/>
<line x1="389.5" y1="483" x2="389.5" y2="512.5" stroke="#ff0000" stroke-width="1"/>
<line x1="389.5" y1="478" x2="389.5" y2="483" stroke="#4682b4" stroke-width="1"/>
<line x1="395.5" y1="452.5" x2="395.5" y2="478" stroke="#ff0000" stroke-width="1"/>
<line x1="395.5" y1="483" x2="395.5" y2="512.5" stroke="#ff0000" stroke-width="1"/>
<line x1="395.5" y1="478" x2="395.5" y2="483" stroke="#4682b4" stroke-width="1"/>
<line x1="441.5" y1="452.5" x2="441.5" y2="478" stroke="#ff0000" stroke-width="1"/>
<line x1="441.5" y1="483" x2="441.5" y2="512.5" stroke="#ff0000" stroke-width="1"/>
<line x1="441.5" y1="478" x2="441.5" y2="483" stroke="#4682b4" stroke-width="1"/>
<line x1="447.5" y1="452.5" x2="447.5" y2="478" stroke="#ff0000" stroke-width="1"/>
<line x1="447.5" y1="483" x2="447.5" y2="512.5" stroke="#ff0000" stroke-width="1"/>
<line x1="447.5" y1="478" x2="447.5" y2="483" stroke="#4682b4" stroke-width="1"/>
<line x1="493.5" y1="452.5" x2="493.5" y2="478" stroke="#ff0000" stroke-width="1"/>
<line x1="493.5" y1="483" x2="493.5" y2="512.5" stroke="#ff0000" stroke-width="1"/>
<line x1="493.5" y1="478" x2="493.5" y2="483" stroke="#4682b4" stroke-width="1"/>
<line x1="499.5" y1="452.5" x2="499.5" y2="478" stroke="#ff0000" stroke-width="1"/>
<line x1="499.5" y1="483" x2="499.5" y2="512.5" stroke="#ff0000" stroke-width="1"/>
<line x1="499.5" y1="478" x2="499.5" y2="483" stroke="#4682b4" stroke-width="1"/>
<line x1="545.5" y1="452.5" x2="545.5" y2="478" stroke="#ff0000" stroke-width="1"/>
<line x1="545.5" y1="483" x2="545.5" y2="512.5" stroke="#ff0000" stroke-width="1"/>
<line x1="545.5" y1="478" x2="545.5" y2="483" stroke="#4682b4" stroke-width="1"/>
<line x1="552.5" y1="452.5" x2="552.5" y2="478" stroke="#ff0000" stroke-width="1"/>
<line x1="552.5" y1="483" x2="552.5" y2="512.5" stroke="#ff0000" stroke-width="1"/>
<line x1="552.5" y1="478" x2="552.5" y2="483" stroke="#4682b4" stroke-width="1"/>
<line x1="598.5" y1="452.5" x2="598.5" y2="478" stroke="#ff0000" stroke-width="1"/>
<line x1="598.5" y1="483" x2="598.5" y2="512.5" stroke="#ff0000" stroke-width="1"/>
<line x1="598.5" y1="478" x2="598.5" y2="483" stroke="#4682b4" stroke-width="1"/>
<line x1="604.5" y1="452.5" x2="604.5" y2="478" stroke="#ff0000" stroke-width="1"/>
<line x1="604.5" y1="483" x2="604.5" y2="512.5" stroke="#ff0000" stroke-width="1"/>
<line x1="604.5" y1="478" x2="604.5" y2="483" stroke="#4682b4" stroke-width="1"/>
<line x1="650.5" y1="452.5" x2="650.5" y2="478" stroke="#ff0000" stroke-width="1"/>
<line x1="650.5" y1="483" x2="650.5" y2="512.5" stroke="#ff0000" stroke-width="1"/>
<line x1="650.5" y1="478" x2="650.5" y2="483" stroke="#4682b4" stroke-width="1"/>
<line x1="656.5" y1="452.5" x2="656.5" y2="478" stroke="#ff0000" stroke-width="1"/>
<line x1="656.5" y1="483" x2="656.5" y2="512.5" stroke="#ff0000" stroke-width="1"/>
<line x1="656.5" y1="478" x2="656.5" y2="483" stroke="#4682b4" stroke-width="1"/>
<line x1="702.5" y1="452.5" x2="702.5" y2="478" stroke="#ff0000" stroke-width="1"/>
<line x1="702.5" y1="483" x2="702.5" y2="512.5" stroke="#ff0000" stroke-width="1"/>
<line x1="702.5" y1="478" x2="702.5" y2="483" stroke="#4682b4" stroke-width="1"/>
<line x1="708.5" y1="452.5" x2="708.5" y2="478" stroke="#ff0000" stroke-width="1"/>
<line x1="708.5" y1="483" x2="708.5" y2="512.5" stroke="#ff0000" stroke-width="1"/>
<line x1="708.5" y1="478" x2="708.5" y2="483" stroke="#4682b4" stroke-width="1"/>
<line x1="754.5" y1="452.5" x2="754.5" y2="478" stroke="#ff0000" stroke-width="1"/>
<line x1="754.5" y1="483" x2="754.5" y2="512.5" stroke="#ff0000" stroke-width="1"/>
<line x1="754.5" y1="478" x2="754.5" y2="483" stroke="#4682b4" stroke-width="1"/>
<line x1="755" y1="160" x2="1187.8" y2="333.4" stroke="#8c8c8c" stroke-width="1" stroke-dasharray="6.4 2.5"/>
<line x1="945" y1="155.3" x2="1388.3" y2="333.4" stroke="#8c8c8c" stroke-width="1" stroke-dasharray="6.4 2.5"/>
<line x1="757" y1="311.6" x2="1187.8" y2="484.5" stroke="#8c8c8c" stroke-width="1" stroke-dasharray="6.4 2.5"/>
<line x1="945" y1="307" x2="1388.3" y2="484.6" stroke="#8c8c8c" stroke-width="1" stroke-dasharray="6.4 2.5"/>
<path d="M831,167.5 L830,167.5 A33,33 0 0 0 830,233.5 L831,233.5" fill="none" stroke="#8c8c8c" stroke-width="1" stroke-dasharray="6 2.5"/>
<path d="M896,167.5 A33,33 0 0 1 896,233.5" fill="none" stroke="#8c8c8c" stroke-width="1" stroke-dasharray="6 2.5"/>
<line x1="831.5" y1="161" x2="831.5" y2="234" stroke="#00ff00" stroke-width="1"/>
<line x1="838.5" y1="161" x2="838.5" y2="234" stroke="#00ff00" stroke-width="1"/>
<line x1="845.5" y1="161" x2="845.5" y2="234" stroke="#00ff00" stroke-width="1"/>
<line x1="852.5" y1="161" x2="852.5" y2="234" stroke="#00ff00" stroke-width="1"/>
<line x1="859.5" y1="161" x2="859.5" y2="234" stroke="#00ff00" stroke-width="1"/>
<line x1="866.5" y1="161" x2="866.5" y2="234" stroke="#00ff00" stroke-width="1"/>
<line x1="874.5" y1="161" x2="874.5" y2="234" stroke="#00ff00" stroke-width="1"/>
<line x1="881.5" y1="161" x2="881.5" y2="234" stroke="#00ff00" stroke-width="1"/>
<line x1="888.5" y1="161" x2="888.5" y2="234" stroke="#00ff00" stroke-width="1"/>
<line x1="895.5" y1="161" x2="895.5" y2="234" stroke="#00ff00" stroke-width="1"/>
<line x1="832.5" y1="161" x2="832.5" y2="204" stroke="#00ff00" stroke-width="1"/>
<line x1="831" y1="166.5" x2="939" y2="166.5" stroke="#008c78" stroke-width="1"/>
<line x1="831" y1="168.5" x2="939" y2="168.5" stroke="#008c78" stroke-width="1"/>
<line x1="830.5" y1="161" x2="830.5" y2="169" stroke="#008c78" stroke-width="1"/>
<rect x="831.5" y="198.5" width="64.5" height="4.5" fill="#000" stroke="#00ff00" stroke-width="2"/>
<path d="M835.5,183 L918,183 L918,218.5 L827,218.5" fill="none" stroke="#00ff00" stroke-width="1"/>
<line x1="835" y1="183.5" x2="843" y2="183.5" stroke="#00ff00" stroke-width="2"/>
<line x1="755" y1="155.5" x2="934" y2="155.5" stroke="#ffff00" stroke-width="1"/>
<line x1="744.5" y1="166" x2="744.5" y2="296" stroke="#ffff00" stroke-width="1"/>
<line x1="944.5" y1="166" x2="944.5" y2="296" stroke="#ffff00" stroke-width="1"/>
<line x1="755" y1="306.5" x2="796" y2="306.5" stroke="#ffff00" stroke-width="1"/>
<line x1="804" y1="306.5" x2="934" y2="306.5" stroke="#ffff00" stroke-width="1"/>
<line x1="755" y1="160.5" x2="934" y2="160.5" stroke="#ffff00" stroke-width="1"/>
<line x1="749.5" y1="166" x2="749.5" y2="235" stroke="#ffff00" stroke-width="1"/>
<line x1="939.5" y1="166" x2="939.5" y2="235" stroke="#ffff00" stroke-width="1"/>
<line x1="749" y1="234.5" x2="940" y2="234.5" stroke="#ffff00" stroke-width="1"/>
<line x1="749" y1="239.5" x2="860" y2="239.5" stroke="#ffff00" stroke-width="1"/>
<line x1="749.5" y1="239" x2="749.5" y2="296" stroke="#ffff00" stroke-width="1"/>
<line x1="859.5" y1="239" x2="859.5" y2="302" stroke="#ffff00" stroke-width="1"/>
<line x1="755" y1="301.5" x2="796" y2="301.5" stroke="#ffff00" stroke-width="1"/>
<line x1="804" y1="301.5" x2="860" y2="301.5" stroke="#ffff00" stroke-width="1"/>
<line x1="795.5" y1="301" x2="795.5" y2="307" stroke="#ffff00" stroke-width="1"/>
<line x1="804.5" y1="301" x2="804.5" y2="307" stroke="#ffff00" stroke-width="1"/>
<line x1="864" y1="239.5" x2="940" y2="239.5" stroke="#ffff00" stroke-width="1"/>
<line x1="864.5" y1="239" x2="864.5" y2="302" stroke="#ffff00" stroke-width="1"/>
<line x1="939.5" y1="239" x2="939.5" y2="296" stroke="#ffff00" stroke-width="1"/>
<line x1="864" y1="301.5" x2="934" y2="301.5" stroke="#ffff00" stroke-width="1"/>
<line x1="744.8" y1="236.5" x2="785.9" y2="236.5" stroke="#ff0000" stroke-width="1"/>
<line x1="797" y1="236.5" x2="847" y2="236.5" stroke="#ff0000" stroke-width="1"/>
<line x1="858" y1="236.5" x2="909" y2="236.5" stroke="#ff0000" stroke-width="1"/>
<line x1="920.2" y1="236.5" x2="969.8" y2="236.5" stroke="#ff0000" stroke-width="1"/>
<line x1="790.75" y1="236.5" x2="792.25" y2="236.5" stroke="#ff0000" stroke-width="1"/>
<line x1="851.75" y1="236.5" x2="853.25" y2="236.5" stroke="#ff0000" stroke-width="1"/>
<line x1="913.65" y1="236.5" x2="915.15" y2="236.5" stroke="#ff0000" stroke-width="1"/>
<line x1="755" y1="304.5" x2="855.8" y2="304.5" stroke="#ff0000" stroke-width="1"/>
<line x1="867.3" y1="304.5" x2="917.7" y2="304.5" stroke="#ff0000" stroke-width="1"/>
<line x1="927.7" y1="304.5" x2="969.8" y2="304.5" stroke="#ff0000" stroke-width="1"/>
<line x1="921.95" y1="304.5" x2="923.45" y2="304.5" stroke="#ff0000" stroke-width="1"/>
<line x1="862.5" y1="235" x2="862.5" y2="245.5" stroke="#ff0000" stroke-width="1"/>
<line x1="862.5" y1="256" x2="862.5" y2="306" stroke="#ff0000" stroke-width="1"/>
<line x1="862.5" y1="249.95" x2="862.5" y2="251.45" stroke="#ff0000" stroke-width="1"/>
<rect x="744.5" y="155.5" width="10" height="10" fill="#808080" stroke="#c0c0c0" stroke-width="1"/>
<rect x="934.5" y="155.5" width="10" height="10" fill="#808080" stroke="#c0c0c0" stroke-width="1"/>
<rect x="744.5" y="296.5" width="10" height="10" fill="#808080" stroke="#c0c0c0" stroke-width="1"/>
<rect x="934.5" y="296.5" width="10" height="10" fill="#808080" stroke="#c0c0c0" stroke-width="1"/>
<line x1="745" y1="304.5" x2="754" y2="304.5" stroke="#ff0000" stroke-width="1"/>
<line x1="935" y1="304.5" x2="944" y2="304.5" stroke="#ff0000" stroke-width="1"/>
<line x1="772" y1="155.5" x2="811" y2="155.5" stroke="#00ff00" stroke-width="1"/>
<line x1="772" y1="157.5" x2="811" y2="157.5" stroke="#00ff00" stroke-width="1"/>
<line x1="772" y1="158.5" x2="811" y2="158.5" stroke="#00ff00" stroke-width="1"/>
<line x1="772" y1="160.5" x2="811" y2="160.5" stroke="#00ff00" stroke-width="1"/>
<rect x="764" y="301" width="16" height="6" fill="#00ff00" stroke="none" stroke-width="1"/>
<line x1="767.25" y1="304.5" x2="768.75" y2="304.5" stroke="#ff0000" stroke-width="1"/>
<line x1="795" y1="304.5" x2="805" y2="304.5" stroke="#ff00ff" stroke-width="2"/>
<rect x="803.5" y="243.5" width="54.5" height="53" fill="none" stroke="#8c8c8c" stroke-width="1" stroke-dasharray="7 4"/>
<line x1="728" y1="180.5" x2="762" y2="180.5" stroke="#00ff00" stroke-width="1"/>
<line x1="728" y1="219.5" x2="762" y2="219.5" stroke="#00ff00" stroke-width="1"/>
<line x1="761.5" y1="180" x2="761.5" y2="220" stroke="#00ff00" stroke-width="1"/>
<path d="M728,180.5 A17,19.5 0 0 0 745,199.5" fill="none" stroke="#00ff00" stroke-width="1"/>
<path d="M728,219.5 A17,19.5 0 0 1 745,199.5" fill="none" stroke="#00ff00" stroke-width="1"/>
<line x1="742" y1="199.5" x2="748" y2="199.5" stroke="#00ff00" stroke-width="1"/>
<line x1="731" y1="255.5" x2="762" y2="255.5" stroke="#00ff00" stroke-width="1"/>
<line x1="731" y1="286.5" x2="762" y2="286.5" stroke="#00ff00" stroke-width="1"/>
<line x1="761.5" y1="255" x2="761.5" y2="287" stroke="#00ff00" stroke-width="1"/>
<path d="M731,255.5 A14,15.5 0 0 0 745,270.5" fill="none" stroke="#00ff00" stroke-width="1"/>
<path d="M731,286.5 A14,15.5 0 0 1 745,270.5" fill="none" stroke="#00ff00" stroke-width="1"/>
<line x1="742" y1="270.5" x2="748" y2="270.5" stroke="#00ff00" stroke-width="1"/>
<line x1="865" y1="290.5" x2="898" y2="290.5" stroke="#00ff00" stroke-width="1"/>
<line x1="865" y1="296.5" x2="898" y2="296.5" stroke="#00ff00" stroke-width="1"/>
<line x1="864.5" y1="290" x2="864.5" y2="302" stroke="#00ff00" stroke-width="1"/>
<line x1="897.5" y1="290" x2="897.5" y2="320" stroke="#00ff00" stroke-width="1"/>
<line x1="867" y1="301.5" x2="898" y2="301.5" stroke="#00ff00" stroke-width="1"/>
<line x1="867.5" y1="304" x2="867.5" y2="320" stroke="#00ff00" stroke-width="2"/>
<path d="M867.5,319.5 A15,14 0 0 0 882.5,305.5" fill="none" stroke="#00ff00" stroke-width="1"/>
<path d="M882.5,305.5 A15,14 0 0 0 897.5,319.5" fill="none" stroke="#00ff00" stroke-width="1"/>
<line x1="889.5" y1="296" x2="889.5" y2="368" stroke="#00ff00" stroke-width="1"/>
<path d="M914.5,307 L914.5,311 L924.5,311 L924.5,307" fill="none" stroke="#00ff00" stroke-width="1"/>
<line x1="914" y1="311" x2="925" y2="311" stroke="#00ff00" stroke-width="2"/>
<rect x="749.5" y="307.5" width="7" height="6" fill="none" stroke="#ffffff" stroke-width="1"/>
<rect x="751.5" y="309.5" width="3" height="3" fill="none" stroke="#a09646" stroke-width="1"/>
<rect x="932.5" y="307.5" width="7" height="6" fill="none" stroke="#ffffff" stroke-width="1"/>
<rect x="934.5" y="309.5" width="3" height="3" fill="none" stroke="#a09646" stroke-width="1"/>
<line x1="1187" y1="333.5" x2="1389" y2="333.5" stroke="#00ffff" stroke-width="1"/>
<line x1="1187.5" y1="333" x2="1187.5" y2="479" stroke="#00ffff" stroke-width="1"/>
<line x1="1388.5" y1="333" x2="1388.5" y2="485" stroke="#00ffff" stroke-width="1"/>
<line x1="1188" y1="484.5" x2="1389" y2="484.5" stroke="#00ffff" stroke-width="1"/>
<line x1="1192" y1="338.5" x2="1384" y2="338.5" stroke="#00ffff" stroke-width="1"/>
<line x1="1192.5" y1="338" x2="1192.5" y2="480" stroke="#00ffff" stroke-width="1"/>
<line x1="1383.5" y1="338" x2="1383.5" y2="480" stroke="#00ffff" stroke-width="1"/>
<line x1="1192" y1="479.5" x2="1384" y2="479.5" stroke="#00ffff" stroke-width="1"/>
<path d="M1193,477.5 L1288.5,467.5 L1382,477.5" fill="none" stroke="#a09646" stroke-width="1"/>
<line x1="1288.5" y1="467" x2="1288.5" y2="480" stroke="#a09646" stroke-width="1"/>
<path d="M1187.5,351.5 L1157.5,351.5 L1157.5,404.5 L1187.5,404.5" fill="none" stroke="#6482d8" stroke-width="1"/>
<path d="M1187.5,354.5 L1159.5,354.5 L1159.5,401.5 L1187.5,401.5" fill="none" stroke="#6482d8" stroke-width="1"/>
<path d="M1187.5,426.5 L1157.5,426.5 L1157.5,472.5 L1187.5,472.5" fill="none" stroke="#6482d8" stroke-width="1"/>
<path d="M1187.5,429.5 L1159.5,429.5 L1159.5,469.5 L1187.5,469.5" fill="none" stroke="#6482d8" stroke-width="1"/>
<path d="M1301.5,485 L1301.5,515.5 L1346.5,515.5 L1346.5,485" fill="none" stroke="#6482d8" stroke-width="1"/>
<path d="M1303.5,485 L1303.5,512.5 L1344.5,512.5 L1344.5,485" fill="none" stroke="#6482d8" stroke-width="1"/>
<rect x="1162" y="401" width="2" height="6" fill="#a09646" stroke="none" stroke-width="1"/>
<rect x="1162" y="425" width="2" height="6" fill="#a09646" stroke="none" stroke-width="1"/>
<rect x="1299" y="509.5" width="6" height="1.5" fill="#a09646" stroke="none" stroke-width="1"/>
<line x1="1186" y1="307.5" x2="1391" y2="307.5" stroke="#009148" stroke-width="1"/>
<line x1="1187.5" y1="305" x2="1187.5" y2="326" stroke="#009148" stroke-width="1"/>
<line x1="1192.5" y1="305" x2="1192.5" y2="326" stroke="#009148" stroke-width="1"/>
<line x1="1383.5" y1="305" x2="1383.5" y2="326" stroke="#009148" stroke-width="1"/>
<line x1="1388.5" y1="305" x2="1388.5" y2="326" stroke="#009148" stroke-width="1"/>
<line x1="1141.5" y1="331" x2="1141.5" y2="487" stroke="#009148" stroke-width="1"/>
<line x1="1137" y1="333.5" x2="1153" y2="333.5" stroke="#009148" stroke-width="1"/>
<line x1="1137" y1="351.5" x2="1153" y2="351.5" stroke="#009148" stroke-width="1"/>
<line x1="1137" y1="404.5" x2="1153" y2="404.5" stroke="#009148" stroke-width="1"/>
<line x1="1137" y1="426.5" x2="1153" y2="426.5" stroke="#009148" stroke-width="1"/>
<line x1="1137" y1="472.5" x2="1153" y2="472.5" stroke="#009148" stroke-width="1"/>
<line x1="1137" y1="484.5" x2="1153" y2="484.5" stroke="#009148" stroke-width="1"/>
<line x1="1156" y1="339.5" x2="1188" y2="339.5" stroke="#009148" stroke-width="1"/>
<line x1="1157.5" y1="335" x2="1157.5" y2="346" stroke="#009148" stroke-width="1"/>
<line x1="1156" y1="485.5" x2="1188" y2="485.5" stroke="#009148" stroke-width="1"/>
<line x1="1157.5" y1="478" x2="1157.5" y2="489" stroke="#009148" stroke-width="1"/>
<line x1="1187.5" y1="479" x2="1187.5" y2="489" stroke="#009148" stroke-width="1"/>
<line x1="1418.5" y1="331" x2="1418.5" y2="487" stroke="#009148" stroke-width="1"/>
<line x1="1396" y1="333.5" x2="1423" y2="333.5" stroke="#009148" stroke-width="1"/>
<line x1="1396" y1="338.5" x2="1423" y2="338.5" stroke="#009148" stroke-width="1"/>
<line x1="1396" y1="479.5" x2="1423" y2="479.5" stroke="#009148" stroke-width="1"/>
<line x1="1396" y1="484.5" x2="1423" y2="484.5" stroke="#009148" stroke-width="1"/>
<line x1="1187" y1="532.5" x2="1390" y2="532.5" stroke="#009148" stroke-width="1"/>
<line x1="1187.5" y1="519" x2="1187.5" y2="536" stroke="#009148" stroke-width="1"/>
<line x1="1301.5" y1="519" x2="1301.5" y2="536" stroke="#009148" stroke-width="1"/>
<line x1="1346.5" y1="519" x2="1346.5" y2="536" stroke="#009148" stroke-width="1"/>
<line x1="1388.5" y1="519" x2="1388.5" y2="536" stroke="#009148" stroke-width="1"/>
<line x1="1283.5" y1="485" x2="1283.5" y2="516" stroke="#009148" stroke-width="1"/>
<line x1="1280" y1="484.5" x2="1296" y2="484.5" stroke="#009148" stroke-width="1"/>
<line x1="1280" y1="515.5" x2="1296" y2="515.5" stroke="#009148" stroke-width="1"/>
<path d="M1122,312.5 L1163.5,312.5 L1163.5,354" fill="none" stroke="#00ff00" stroke-width="1"/>
<path d="M1122,511.5 L1163.5,511.5 L1163.5,470" fill="none" stroke="#00ff00" stroke-width="1"/>
<path d="M1308.5,513.5 L1308.5,554.5 L1351,554.5" fill="none" stroke="#00ff00" stroke-width="1"/>
<line x1="1308.5" y1="513" x2="1308.5" y2="519" stroke="#00ff00" stroke-width="2"/>
<line x1="1262" y1="328.5" x2="1296" y2="328.5" stroke="#00ff00" stroke-width="1"/>
<path d="M1262,328.5 L1269.75,336 L1277.5,328.5" fill="none" stroke="#00ff00" stroke-width="1"/>
<line x1="1262" y1="404.5" x2="1296" y2="404.5" stroke="#00ff00" stroke-width="1"/>
<path d="M1262,404.5 L1269.75,412.5 L1277.5,404.5" fill="none" stroke="#00ff00" stroke-width="1"/>
<line x1="1152" y1="367.5" x2="1187" y2="367.5" stroke="#00ff00" stroke-width="1"/>
<path d="M1152,367.5 L1159.5,375.5 L1167,367.5" fill="none" stroke="#00ff00" stroke-width="1"/>
<line x1="1151" y1="460.5" x2="1185" y2="460.5" stroke="#00ff00" stroke-width="1"/>
<path d="M1151,460.5 L1158,467.5 L1165,460.5" fill="none" stroke="#00ff00" stroke-width="1"/>
<line x1="1312" y1="506.5" x2="1346" y2="506.5" stroke="#00ff00" stroke-width="1"/>
<path d="M1312,506.5 L1319.5,514.5 L1327,506.5" fill="none" stroke="#00ff00" stroke-width="1"/>
<line x1="1241.5" y1="375" x2="1241.5" y2="420.5" stroke="#00ff00" stroke-width="1"/>
<rect x="1240" y="412.5" width="3" height="4.5" fill="#00ff00" stroke="none" stroke-width="1"/>
<line x1="1330.5" y1="375" x2="1330.5" y2="420.5" stroke="#00ff00" stroke-width="1"/>
<rect x="1329" y="412.5" width="3" height="4.5" fill="#00ff00" stroke="none" stroke-width="1"/>
<line x1="1244" y1="475.5" x2="1267.5" y2="475.5" stroke="#00ff00" stroke-width="1"/>
<rect x="1247.5" y="474" width="4.5" height="3" fill="#00ff00" stroke="none" stroke-width="1"/>
<line x1="1308" y1="475.5" x2="1332" y2="475.5" stroke="#00ff00" stroke-width="1"/>
<rect x="1324" y="474" width="4.5" height="3" fill="#00ff00" stroke="none" stroke-width="1"/>
<line x1="1179.7" y1="373.5" x2="1168.2" y2="389.7" stroke="#00ff00" stroke-width="1"/>
<line x1="1172" y1="384" x2="1168.2" y2="389.7" stroke="#00ff00" stroke-width="2"/>
<line x1="1175.7" y1="447.8" x2="1166" y2="433.3" stroke="#00ff00" stroke-width="1"/>
<line x1="1169.5" y1="438.5" x2="1166" y2="433.3" stroke="#00ff00" stroke-width="2"/>
<line x1="1328.9" y1="493.3" x2="1313" y2="503.8" stroke="#00ff00" stroke-width="1"/>
<line x1="1319" y1="499.8" x2="1313" y2="503.8" stroke="#00ff00" stroke-width="2"/>
<path d="M1358.5,485 L1358.5,489.5 L1368.5,489.5 L1368.5,485" fill="none" stroke="#00ff00" stroke-width="1"/>
<line x1="1358" y1="489" x2="1369" y2="489" stroke="#00ff00" stroke-width="2"/>
<path d="M298.4,363.3A5.39,5.39 0 0 1 295.8,353A14.14,14.14 0 0 1 320.5,349.5A14.42,14.42 0 0 1 343,349.5A16.02,16.02 0 0 1 368,349.5A8.65,8.65 0 0 1 381.5,349.5A10.57,10.57 0 0 1 398,349.5A15.38,15.38 0 0 1 422,349.5A13.91,13.91 0 0 1 443.7,349.5A13.84,13.84 0 0 1 465.3,349.5A9.74,9.74 0 0 1 480.5,349.5A12.05,12.05 0 0 1 499.3,349.5A14.16,14.16 0 0 1 521.4,349.5A14.1,14.1 0 0 1 543.4,349.5A11.41,11.41 0 0 1 561.2,349.5A8.63,8.63 0 0 1 573.1,349.5A9.74,9.74 0 0 1 588.3,349.5A10.77,10.77 0 0 1 605.1,349.5A10.7,10.7 0 0 1 621.8,349.5A10.7,10.7 0 0 1 638.5,349.5A9.74,9.74 0 0 1 653.7,349.5A8.78,8.78 0 0 1 667.4,349.5A10.32,10.32 0 0 1 683.5,349.5A11.6,11.6 0 0 1 701.6,349.5A12.43,12.43 0 0 1 721,349.5A15.12,15.12 0 0 1 744.6,349.5A13.86,13.86 0 0 1 766.4,364.2A14.83,14.83 0 0 1 766.4,389A13.63,13.63 0 0 1 766.4,411.8A13.72,13.72 0 0 1 743.1,426.2A12.24,12.24 0 0 1 724,426.2A14.74,14.74 0 0 1 701,426.2A12.82,12.82 0 0 1 681,426.2A9.16,9.16 0 0 1 666.7,426.2A9.29,9.29 0 0 1 652.2,426.2A10.19,10.19 0 0 1 636.3,426.2A10.45,10.45 0 0 1 620,426.2A9.55,9.55 0 0 1 605.1,426.2A9.74,9.74 0 0 1 589.9,426.2A10.77,10.77 0 0 1 573.1,426.2A13.14,13.14 0 0 1 552.6,426.2A11.28,11.28 0 0 1 535,426.2A12.18,12.18 0 0 1 516,426.2A12.18,12.18 0 0 1 497,426.2A9.29,9.29 0 0 1 482.5,426.2A8.78,8.78 0 0 1 468.8,426.2A14.03,14.03 0 0 1 446.9,426.2A8.97,8.97 0 0 1 432.9,426.2A12.18,12.18 0 0 1 413.9,426.2A12.37,12.37 0 0 1 394.6,426.2A11.21,11.21 0 0 1 377.1,426.2A9.68,9.68 0 0 1 362,426.2A14.61,14.61 0 0 1 339.2,426.2A14.42,14.42 0 0 1 316.7,426.2A15.34,15.34 0 0 1 298.5,403.5A10.76,10.76 0 0 1 298.5,385.5A13.27,13.27 0 0 1 298.4,363.3" fill="none" stroke="#ff00ff" stroke-width="1"/>
<path d="M397,0 C392,80 388,150 385.5,240 C384,300 382.5,330 381.5,349" fill="none" stroke="#ff00ff" stroke-width="1"/>
<path d="M381.5,349.5 L380,345 L383,345 Z" fill="#ff00ff" stroke="#ff00ff" stroke-width="1"/>
<rect x="187.5" y="150.5" width="8" height="5" fill="none" stroke="#a09646" stroke-width="1"/>
<rect x="188.5" y="152.5" width="5" height="3" fill="none" stroke="#c00000" stroke-width="1"/>
<line x1="190.5" y1="156" x2="190.5" y2="164" stroke="#a09646" stroke-width="1" stroke-dasharray="3 1"/>
<line x1="192.5" y1="157" x2="192.5" y2="164" stroke="#a09646" stroke-width="1" stroke-dasharray="3 1"/>
<rect x="559.5" y="150.5" width="8" height="5" fill="none" stroke="#a09646" stroke-width="1"/>
<rect x="560.5" y="152.5" width="5" height="3" fill="none" stroke="#c00000" stroke-width="1"/>
<line x1="562.5" y1="156" x2="562.5" y2="164" stroke="#a09646" stroke-width="1" stroke-dasharray="3 1"/>
<line x1="564.5" y1="157" x2="564.5" y2="164" stroke="#a09646" stroke-width="1" stroke-dasharray="3 1"/>
<rect x="187.5" y="536.5" width="8" height="5" fill="none" stroke="#a09646" stroke-width="1"/>
<rect x="188.5" y="537.5" width="5" height="3" fill="none" stroke="#c00000" stroke-width="1"/>
<line x1="190.5" y1="529" x2="190.5" y2="536" stroke="#a09646" stroke-width="1" stroke-dasharray="3 1"/>
<line x1="192.5" y1="529" x2="192.5" y2="536" stroke="#a09646" stroke-width="1" stroke-dasharray="3 1"/>
<rect x="549.5" y="536.5" width="8" height="5" fill="none" stroke="#a09646" stroke-width="1"/>
<rect x="550.5" y="537.5" width="5" height="3" fill="none" stroke="#c00000" stroke-width="1"/>
<line x1="552.5" y1="529" x2="552.5" y2="536" stroke="#a09646" stroke-width="1" stroke-dasharray="3 1"/>
<line x1="554.5" y1="529" x2="554.5" y2="536" stroke="#a09646" stroke-width="1" stroke-dasharray="3 1"/>
<rect x="932.5" y="536.5" width="8" height="5" fill="none" stroke="#a09646" stroke-width="1"/>
<rect x="933.5" y="537.5" width="5" height="3" fill="none" stroke="#c00000" stroke-width="1"/>
<line x1="935.5" y1="529" x2="935.5" y2="536" stroke="#a09646" stroke-width="1" stroke-dasharray="3 1"/>
<line x1="937.5" y1="529" x2="937.5" y2="536" stroke="#a09646" stroke-width="1" stroke-dasharray="3 1"/>
<rect x="1192.5" y="484.5" width="8" height="5" fill="none" stroke="#a09646" stroke-width="1"/>
<rect x="1193.5" y="485.5" width="5" height="3" fill="none" stroke="#c00000" stroke-width="1"/>
<line x1="1195.5" y1="477" x2="1195.5" y2="484" stroke="#a09646" stroke-width="1" stroke-dasharray="3 1"/>
<line x1="1197.5" y1="477" x2="1197.5" y2="484" stroke="#a09646" stroke-width="1" stroke-dasharray="3 1"/>
<rect x="1375.5" y="484.5" width="8" height="5" fill="none" stroke="#a09646" stroke-width="1"/>
<rect x="1376.5" y="485.5" width="5" height="3" fill="none" stroke="#c00000" stroke-width="1"/>
<line x1="1378.5" y1="477" x2="1378.5" y2="484" stroke="#a09646" stroke-width="1" stroke-dasharray="3 1"/>
<line x1="1380.5" y1="477" x2="1380.5" y2="484" stroke="#a09646" stroke-width="1" stroke-dasharray="3 1"/>
<rect x="571.5" y="155.5" width="5" height="5" fill="none" stroke="#a09646" stroke-width="1"/>
<circle cx="574" cy="158" r="1.5" fill="none" stroke="#00ff00" stroke-width="1"/>
<rect x="561.5" y="531.5" width="5" height="5" fill="none" stroke="#a09646" stroke-width="1"/>
<circle cx="564" cy="534" r="1.5" fill="none" stroke="#c87830" stroke-width="1"/>
<path d="M574,157.5 L582.5,125.5 L672,125.5" fill="none" stroke="#00ff00" stroke-width="1"/>
<path d="M562.8,534 L551,567.5 L461.5,567.5" fill="none" stroke="#00ff00" stroke-width="1"/>
<line x1="309" y1="166.5" x2="342" y2="166.5" stroke="#00ff00" stroke-width="1"/>
<rect x="312.5" y="165" width="4.5" height="3" fill="#00ff00" stroke="none" stroke-width="1"/>
<line x1="403" y1="166.5" x2="436" y2="166.5" stroke="#00ff00" stroke-width="1"/>
<rect x="428" y="165" width="4.5" height="3" fill="#00ff00" stroke="none" stroke-width="1"/>
<line x1="309" y1="525.5" x2="343" y2="525.5" stroke="#00ff00" stroke-width="1"/>
<rect x="312.5" y="524" width="4.5" height="3" fill="#00ff00" stroke="none" stroke-width="1"/>
<line x1="403" y1="525.5" x2="436" y2="525.5" stroke="#00ff00" stroke-width="1"/>
<rect x="428" y="524" width="4.5" height="3" fill="#00ff00" stroke="none" stroke-width="1"/>
<line x1="690" y1="525.5" x2="724" y2="525.5" stroke="#00ff00" stroke-width="1"/>
<rect x="693.5" y="524" width="4.5" height="3" fill="#00ff00" stroke="none" stroke-width="1"/>
<line x1="784" y1="525.5" x2="818" y2="525.5" stroke="#00ff00" stroke-width="1"/>
<rect x="810" y="524" width="4.5" height="3" fill="#00ff00" stroke="none" stroke-width="1"/>
<line x1="684" y1="166.5" x2="717" y2="166.5" stroke="#00ff00" stroke-width="1"/>
<rect x="687.5" y="165" width="4.5" height="3" fill="#00ff00" stroke="none" stroke-width="1"/>
<line x1="294.5" y1="249" x2="294.5" y2="293" stroke="#00ff00" stroke-width="1"/>
<rect x="293" y="252.5" width="3" height="4.5" fill="#00ff00" stroke="none" stroke-width="1"/>
<line x1="553.5" y1="248" x2="553.5" y2="294" stroke="#00ff00" stroke-width="1"/>
<rect x="552" y="251.5" width="3" height="4.5" fill="#00ff00" stroke="none" stroke-width="1"/>
<line x1="294.5" y1="426" x2="294.5" y2="472" stroke="#00ff00" stroke-width="1"/>
<rect x="293" y="464" width="3" height="4.5" fill="#00ff00" stroke="none" stroke-width="1"/>
<line x1="812.5" y1="426" x2="812.5" y2="471" stroke="#00ff00" stroke-width="1"/>
<rect x="811" y="463" width="3" height="4.5" fill="#00ff00" stroke="none" stroke-width="1"/>
<line x1="553.5" y1="426" x2="553.5" y2="453" stroke="#00ff00" stroke-width="1"/>
<line x1="483" y1="150.5" x2="517" y2="150.5" stroke="#00ff00" stroke-width="1"/>
<path d="M483,150.5 L490.5,158 L498,150.5" fill="none" stroke="#00ff00" stroke-width="1"/>
<line x1="461" y1="168.5" x2="495" y2="168.5" stroke="#00ff00" stroke-width="1"/>
<path d="M461,168.5 L468.5,161 L476,168.5" fill="none" stroke="#00ff00" stroke-width="1"/>
<line x1="588" y1="542.5" x2="621.5" y2="542.5" stroke="#00ff00" stroke-width="1"/>
<path d="M588,542.5 L595.5,534.5 L603,542.5" fill="none" stroke="#00ff00" stroke-width="1"/>
<line x1="609" y1="513.5" x2="637" y2="513.5" stroke="#00ff00" stroke-width="1"/>
<line x1="609.5" y1="513" x2="609.5" y2="531" stroke="#00ff00" stroke-width="1"/>
<path d="M601.7,524.5 L609.5,531.5 L617,524.5 L601.7,524.5" fill="none" stroke="#00ff00" stroke-width="1"/>
<line x1="771" y1="200.5" x2="806" y2="200.5" stroke="#00ff00" stroke-width="1"/>
<path d="M771,200.5 L778.5,208 L786,200.5" fill="none" stroke="#00ff00" stroke-width="1"/>
<line x1="777" y1="276.5" x2="811" y2="276.5" stroke="#00ff00" stroke-width="1"/>
<path d="M777,276.5 L784,284 L791,276.5" fill="none" stroke="#00ff00" stroke-width="1"/>
<line x1="887" y1="276.5" x2="921" y2="276.5" stroke="#00ff00" stroke-width="1"/>
<path d="M887,276.5 L894.5,285 L902,276.5" fill="none" stroke="#00ff00" stroke-width="1"/>
<circle cx="632" cy="191.5" r="12.4" fill="none" stroke="#6666cc" stroke-width="1"/>
<line x1="619" y1="191.5" x2="762" y2="191.5" stroke="#6666cc" stroke-width="1"/>
<line x1="742" y1="187.5" x2="762" y2="187.5" stroke="#6666cc" stroke-width="1"/>
<circle cx="632" cy="263.5" r="12.4" fill="none" stroke="#6666cc" stroke-width="1"/>
<line x1="619" y1="263.5" x2="762" y2="263.5" stroke="#6666cc" stroke-width="1"/>
<line x1="742" y1="259.5" x2="762" y2="259.5" stroke="#6666cc" stroke-width="1"/>
<circle cx="271.9" cy="385.5" r="12.4" fill="none" stroke="#6666cc" stroke-width="1"/>
<path d="M284.5,385.5 L201,385.5 L187.5,413.5" fill="none" stroke="#6666cc" stroke-width="1"/>
<circle cx="827.9" cy="398.2" r="12.4" fill="none" stroke="#6666cc" stroke-width="1"/>
<path d="M815.5,398.5 L875.5,398.5 L875.5,290" fill="none" stroke="#6666cc" stroke-width="1"/>
<line x1="871.5" y1="290" x2="871.5" y2="310" stroke="#6666cc" stroke-width="1"/>
<line x1="659" y1="213.5" x2="756" y2="213.5" stroke="#00ff00" stroke-width="1"/>
<line x1="659" y1="281.5" x2="756" y2="281.5" stroke="#00ff00" stroke-width="1"/>
<path d="M754,213.5 L750,212 L750,215 Z" fill="#00ff00" stroke="#00ff00" stroke-width="1"/>
<path d="M754,281.5 L750,280 L750,283 Z" fill="#00ff00" stroke="#00ff00" stroke-width="1"/>
<path d="M703,331.5 L738.6,331.5 L753.5,310.5" fill="none" stroke="#00ff00" stroke-width="1"/>
<path d="M769.5,304 L769.5,368.5 L809,368.5" fill="none" stroke="#00ff00" stroke-width="1"/>
<path d="M799.6,304 L812.7,368.5 L886,368.5" fill="none" stroke="#00ff00" stroke-width="1"/>
<path d="M889.5,367.5 L936,367.5" fill="none" stroke="#00ff00" stroke-width="1"/>
<path d="M922.7,311.8 L952,367.5 L1029,367.5" fill="none" stroke="#00ff00" stroke-width="1"/>
<path d="M935.8,310 L950,331.5 L986,331.5" fill="none" stroke="#00ff00" stroke-width="1"/>
<line x1="742" y1="86.5" x2="946" y2="86.5" stroke="#009148" stroke-width="1"/>
<line x1="744.5" y1="83" x2="744.5" y2="133" stroke="#009148" stroke-width="1"/>
<line x1="772.5" y1="83" x2="772.5" y2="133" stroke="#009148" stroke-width="1"/>
<line x1="810.5" y1="83" x2="810.5" y2="133" stroke="#009148" stroke-width="1"/>
<line x1="754.5" y1="130" x2="754.5" y2="133" stroke="#009148" stroke-width="1"/>
<line x1="944.5" y1="130" x2="944.5" y2="133" stroke="#009148" stroke-width="1"/>
<line x1="717.5" y1="155" x2="717.5" y2="308" stroke="#009148" stroke-width="1"/>
<line x1="714" y1="155.5" x2="745" y2="155.5" stroke="#009148" stroke-width="1"/>
<line x1="713" y1="180.5" x2="731" y2="180.5" stroke="#009148" stroke-width="1"/>
<line x1="713" y1="219.5" x2="731" y2="219.5" stroke="#009148" stroke-width="1"/>
<line x1="713" y1="236.5" x2="742" y2="236.5" stroke="#009148" stroke-width="1"/>
<line x1="713" y1="255.5" x2="731" y2="255.5" stroke="#009148" stroke-width="1"/>
<line x1="714" y1="286.5" x2="733" y2="286.5" stroke="#009148" stroke-width="1"/>
<line x1="716" y1="304.5" x2="744" y2="304.5" stroke="#009148" stroke-width="1"/>
<line x1="716" y1="306.5" x2="744" y2="306.5" stroke="#009148" stroke-width="1"/>
<line x1="752" y1="332.5" x2="946" y2="332.5" stroke="#009148" stroke-width="1"/>
<line x1="764.5" y1="307" x2="764.5" y2="336" stroke="#009148" stroke-width="1"/>
<line x1="779.5" y1="307" x2="779.5" y2="336" stroke="#009148" stroke-width="1"/>
<line x1="794.5" y1="307" x2="794.5" y2="336" stroke="#009148" stroke-width="1"/>
<line x1="804.5" y1="307" x2="804.5" y2="336" stroke="#009148" stroke-width="1"/>
<line x1="862.5" y1="307" x2="862.5" y2="336" stroke="#009148" stroke-width="1"/>
<line x1="867.5" y1="307" x2="867.5" y2="336" stroke="#009148" stroke-width="1"/>
<line x1="897.5" y1="307" x2="897.5" y2="336" stroke="#009148" stroke-width="1"/>
<line x1="919.5" y1="307" x2="919.5" y2="336" stroke="#009148" stroke-width="1"/>
<line x1="944.5" y1="307" x2="944.5" y2="336" stroke="#009148" stroke-width="1"/>
<line x1="754.5" y1="307" x2="754.5" y2="336" stroke="#009148" stroke-width="1"/>
<line x1="317.5" y1="353" x2="317.5" y2="532" stroke="#009148" stroke-width="1"/>
<line x1="314" y1="353.5" x2="332" y2="353.5" stroke="#009148" stroke-width="1"/>
<line x1="314" y1="367.5" x2="332" y2="367.5" stroke="#009148" stroke-width="1"/>
<line x1="314" y1="414.5" x2="332" y2="414.5" stroke="#009148" stroke-width="1"/>
<line x1="314" y1="459.5" x2="332" y2="459.5" stroke="#009148" stroke-width="1"/>
<line x1="314" y1="506.5" x2="332" y2="506.5" stroke="#009148" stroke-width="1"/>
<line x1="314" y1="531.5" x2="332" y2="531.5" stroke="#009148" stroke-width="1"/>
<line x1="994" y1="618.5" x2="1108" y2="618.5" stroke="#00ff00" stroke-width="1"/>
<line x1="994" y1="622.5" x2="1108" y2="622.5" stroke="#00ff00" stroke-width="1"/>
<path d="M181.5,67.5 L184.5,64.5" fill="none" stroke="#00ff00" stroke-width="1"/>
<path d="M181.5,626.5 L184.5,623.5" fill="none" stroke="#00ff00" stroke-width="1"/>
<path d="M372.5,67.5 L375.5,64.5" fill="none" stroke="#00ff00" stroke-width="1"/>
<path d="M372.5,626.5 L375.5,623.5" fill="none" stroke="#00ff00" stroke-width="1"/>
<path d="M562.5,67.5 L565.5,64.5" fill="none" stroke="#00ff00" stroke-width="1"/>
<path d="M562.5,626.5 L565.5,623.5" fill="none" stroke="#00ff00" stroke-width="1"/>
<path d="M753.5,67.5 L756.5,64.5" fill="none" stroke="#00ff00" stroke-width="1"/>
<path d="M753.5,626.5 L756.5,623.5" fill="none" stroke="#00ff00" stroke-width="1"/>
<path d="M943.5,67.5 L946.5,64.5" fill="none" stroke="#00ff00" stroke-width="1"/>
<path d="M943.5,626.5 L946.5,623.5" fill="none" stroke="#00ff00" stroke-width="1"/>
<path d="M92,156.5 L95,153.5" fill="none" stroke="#00ff00" stroke-width="1"/>
<path d="M1032,156.5 L1035,153.5" fill="none" stroke="#00ff00" stroke-width="1"/>
<path d="M92,354.5 L95,351.5" fill="none" stroke="#00ff00" stroke-width="1"/>
<path d="M1032,354.5 L1035,351.5" fill="none" stroke="#00ff00" stroke-width="1"/>
<path d="M92,537.5 L95,534.5" fill="none" stroke="#00ff00" stroke-width="1"/>
<path d="M1032,537.5 L1035,534.5" fill="none" stroke="#00ff00" stroke-width="1"/>
<path d="M1032,237.5 L1035,234.5" fill="none" stroke="#00ff00" stroke-width="1"/>
<path d="M1032,305.5 L1035,302.5" fill="none" stroke="#00ff00" stroke-width="1"/>
<path d="M176.8,14.49L178.94,14.26L181.07,13.13L182.9,12L182.9,23.3" fill="none" stroke="#ffffff" stroke-width="1" shape-rendering="crispEdges"/>
<path d="M176.8,670.59L178.94,670.36L181.07,669.23L182.9,668.1L182.9,679.4" fill="none" stroke="#ffffff" stroke-width="1" shape-rendering="crispEdges"/>
<path d="M367.2,14.6L368.43,12.65L370.48,12L373.35,12L374.99,13.3L375.4,15.9L374.58,17.85L367.2,25L375.4,25" fill="none" stroke="#ffffff" stroke-width="1" shape-rendering="crispEdges"/>
<path d="M367.2,670.7L368.43,668.75L370.48,668.1L373.35,668.1L374.99,669.4L375.4,672L374.58,673.95L367.2,681.1L375.4,681.1" fill="none" stroke="#ffffff" stroke-width="1" shape-rendering="crispEdges"/>
<path d="M557.9,11.8L563.16,11.8L565.19,13.13L566,15.12L565.19,16.85L563.16,17.78L560.33,17.78M563.16,17.78L565.6,19.38L566,21.77L564.78,23.77L561.95,24.7L557.9,25.1" fill="none" stroke="#ffffff" stroke-width="1" shape-rendering="crispEdges"/>
<path d="M557.9,667.9L563.16,667.9L565.19,669.23L566,671.23L565.19,672.95L563.16,673.88L560.33,673.88M563.16,673.88L565.6,675.48L566,677.88L564.78,679.87L561.95,680.8L557.9,681.2" fill="none" stroke="#ffffff" stroke-width="1" shape-rendering="crispEdges"/>
<path d="M751.54,11.8L747.9,21.27L756,21.27M754.38,18.93L754.38,24.1" fill="none" stroke="#ffffff" stroke-width="1" shape-rendering="crispEdges"/>
<path d="M751.54,667.9L747.9,677.37L756,677.37M754.38,675.03L754.38,680.2" fill="none" stroke="#ffffff" stroke-width="1" shape-rendering="crispEdges"/>
<path d="M946.37,11.8L939.31,11.8L939.31,17.52L944.3,17.52L946.37,19.11L946.95,21.11L946.95,23.1L944.88,24.43L943.47,25.1L938.9,25.1" fill="none" stroke="#ffffff" stroke-width="1" shape-rendering="crispEdges"/>
<path d="M946.37,667.9L939.31,667.9L939.31,673.62L944.3,673.62L946.37,675.22L946.95,677.21L946.95,679.21L944.88,680.54L943.47,681.2L938.9,681.2" fill="none" stroke="#ffffff" stroke-width="1" shape-rendering="crispEdges"/>
<path d="M53,152.64L51.2,150.84L48.2,150L45.2,150L42.44,151.44L41,154.2L41,157.8L42.44,160.56L45.2,162L48.2,162L51.2,161.16L53,159.36" fill="none" stroke="#ffffff" stroke-width="1" shape-rendering="crispEdges"/>
<path d="M1088.8,152.92L1087.25,151.27L1084.68,150.5L1082.11,150.5L1079.74,151.82L1078.5,154.35L1078.5,157.65L1079.74,160.18L1082.11,161.5L1084.68,161.5L1087.25,160.73L1088.8,159.08" fill="none" stroke="#ffffff" stroke-width="1" shape-rendering="crispEdges"/>
<path d="M41,348L41,360L50,360L53,358.56L53,355.2L50.6,353.64L41,353.64M41,348L49.4,348L52.04,349.2L52.04,352.32L50.6,353.64" fill="none" stroke="#ffffff" stroke-width="1" shape-rendering="crispEdges"/>
<path d="M1078.5,348.5L1078.5,359.5L1086.22,359.5L1088.8,358.18L1088.8,355.1L1086.74,353.67L1078.5,353.67M1078.5,348.5L1085.71,348.5L1087.98,349.6L1087.98,352.46L1086.74,353.67" fill="none" stroke="#ffffff" stroke-width="1" shape-rendering="crispEdges"/>
<path d="M41,543L47,531L53,543M43.16,538.8L50.84,538.8" fill="none" stroke="#ffffff" stroke-width="1" shape-rendering="crispEdges"/>
<path d="M1078.5,542.5L1083.65,531.5L1088.8,542.5M1080.35,538.65L1086.95,538.65" fill="none" stroke="#ffffff" stroke-width="1" shape-rendering="crispEdges"/>
<path transform="translate(557,36)" d="M0.5,0.5L1.5,0.5L1.5,6.5L0.5,6.5M0.5,3.5L1.5,3.5M3.5,0.5L4.5,0.5L4.5,6.5L3.5,6.5L3.5,0.5M5.5,0.5L6.5,0.5L6.5,6.5L5.5,6.5L5.5,0.5M8.5,0.5L9.5,0.5L9.5,6.5L8.5,6.5L8.5,0.5M11.5,0.5L12.5,0.5L12.5,6.5L11.5,6.5L11.5,0.5" fill="none" stroke="#ffffff" stroke-width="1" stroke-linecap="butt"/>
<path transform="translate(271,56)" d="M0.5,0.5L1.5,0.5L0.5,6.5M4.5,0.5L3.5,0.5L3.5,3.5L4.5,3.5L4.5,6.5L3.5,6.5M6.5,0.5L7.5,0.5L7.5,6.5L6.5,6.5L6.5,0.5M9.5,0.5L10.5,0.5L10.5,6.5L9.5,6.5L9.5,0.5" fill="none" stroke="#ffffff" stroke-width="1" stroke-linecap="butt"/>
<path transform="translate(272,615)" d="M0.5,0.5L1.5,0.5L0.5,6.5M4.5,0.5L3.5,0.5L3.5,3.5L4.5,3.5L4.5,6.5L3.5,6.5M6.5,0.5L7.5,0.5L7.5,6.5L6.5,6.5L6.5,0.5M8.5,0.5L9.5,0.5L9.5,6.5L8.5,6.5L8.5,0.5" fill="none" stroke="#ffffff" stroke-width="1" stroke-linecap="butt"/>
<path transform="translate(464,56)" d="M0.5,0.5L1.5,0.5L0.5,6.5M3.5,0.5L2.5,0.5L2.5,3.5L3.5,3.5L3.5,6.5L2.5,6.5M5.5,0.5L6.5,0.5L6.5,6.5L5.5,6.5L5.5,0.5M7.5,0.5L8.5,0.5L8.5,6.5L7.5,6.5L7.5,0.5" fill="none" stroke="#ffffff" stroke-width="1" stroke-linecap="butt"/>
<path transform="translate(464,615)" d="M0.5,0.5L1.5,0.5L0.5,6.5M3.5,0.5L2.5,0.5L2.5,3.5L3.5,3.5L3.5,6.5L2.5,6.5M5.5,0.5L6.5,0.5L6.5,6.5L5.5,6.5L5.5,0.5M7.5,0.5L8.5,0.5L8.5,6.5L7.5,6.5L7.5,0.5" fill="none" stroke="#ffffff" stroke-width="1" stroke-linecap="butt"/>
<path transform="translate(653,56)" d="M0.5,0.5L1.5,0.5L0.5,6.5M4.5,0.5L3.5,0.5L3.5,3.5L4.5,3.5L4.5,6.5L3.5,6.5M6.5,0.5L7.5,0.5L7.5,6.5L6.5,6.5L6.5,0.5M8.5,0.5L9.5,0.5L9.5,6.5L8.5,6.5L8.5,0.5" fill="none" stroke="#ffffff" stroke-width="1" stroke-linecap="butt"/>
<path transform="translate(654,615)" d="M0.5,0.5L1.5,0.5L0.5,6.5M4.5,0.5L3.5,0.5L3.5,3.5L4.5,3.5L4.5,6.5L3.5,6.5M5.5,0.5L6.5,0.5L6.5,6.5L5.5,6.5L5.5,0.5M8.5,0.5L9.5,0.5L9.5,6.5L8.5,6.5L8.5,0.5" fill="none" stroke="#ffffff" stroke-width="1" stroke-linecap="butt"/>
<path transform="translate(844,56)" d="M0.5,0.5L1.5,0.5L0.5,6.5M4.5,0.5L3.5,0.5L3.5,3.5L4.5,3.5L4.5,6.5L3.5,6.5M5.5,0.5L6.5,0.5L6.5,6.5L5.5,6.5L5.5,0.5M8.5,0.5L9.5,0.5L9.5,6.5L8.5,6.5L8.5,0.5" fill="none" stroke="#ffffff" stroke-width="1" stroke-linecap="butt"/>
<path transform="translate(845,615)" d="M0.5,0.5L1.5,0.5L0.5,6.5M4.5,0.5L3.5,0.5L3.5,3.5L4.5,3.5L4.5,6.5L3.5,6.5M5.5,0.5L6.5,0.5L6.5,6.5L5.5,6.5L5.5,0.5M8.5,0.5L9.5,0.5L9.5,6.5L8.5,6.5L8.5,0.5" fill="none" stroke="#ffffff" stroke-width="1" stroke-linecap="butt"/>
<path transform="translate(557,636)" d="M0.5,0.5L1.5,0.5L1.5,6.5L0.5,6.5M0.5,3.5L1.5,3.5M3.5,0.5L4.5,0.5L4.5,6.5L3.5,6.5L3.5,0.5M5.5,0.5L6.5,0.5L6.5,6.5L5.5,6.5L5.5,0.5M8.5,0.5L9.5,0.5L9.5,6.5L8.5,6.5L8.5,0.5M11.5,0.5L12.5,0.5L12.5,6.5L11.5,6.5L11.5,0.5" fill="none" stroke="#ffffff" stroke-width="1" stroke-linecap="butt"/>
<path transform="translate(744,76)" d="M1.5,5.5L1.5,0.5L0.5,4.5L1.5,4.5M3.5,0.5L4.5,0.5L4.5,5.5L3.5,5.5L3.5,0.5M6.5,0.5L7.5,0.5L7.5,5.5L6.5,5.5L6.5,0.5" fill="none" stroke="#ffffff" stroke-width="1" stroke-linecap="butt"/>
<path transform="translate(758,76)" d="M0.5,0.5L1.5,0.5L0.5,5.5M3.5,0.5L4.5,0.5L4.5,5.5L3.5,5.5L3.5,0.5M6.5,0.5L7.5,0.5L7.5,5.5L6.5,5.5L6.5,0.5" fill="none" stroke="#ffffff" stroke-width="1" stroke-linecap="butt"/>
<path transform="translate(785,76)" d="M0.5,0.5L0.5,5.5M0.5,1.5L0.5,0.5M3.5,0.5L2.5,0.5L2.5,2.5L3.5,2.5L3.5,5.5L2.5,5.5M5.5,0.5L6.5,0.5L6.5,5.5L5.5,5.5L5.5,0.5M8.5,0.5L9.5,0.5L9.5,5.5L8.5,5.5L8.5,0.5" fill="none" stroke="#ffffff" stroke-width="1" stroke-linecap="butt"/>
<path transform="translate(872,76)" d="M1.5,0.5L0.5,0.5L0.5,2.5L1.5,2.5L1.5,5.5L0.5,5.5M3.5,0.5L4.5,0.5L4.5,5.5L3.5,5.5M3.5,2.5L4.5,2.5M5.5,0.5L6.5,0.5L6.5,5.5L5.5,5.5L5.5,0.5M8.5,0.5L9.5,0.5L9.5,5.5L8.5,5.5L8.5,0.5" fill="none" stroke="#ffffff" stroke-width="1" stroke-linecap="butt"/>
<path transform="translate(83,260) rotate(-90)" d="M0.5,0.5L1.5,0.5L0.5,7.5M3.5,0.5L4.5,0.5L4.5,7.5L3.5,7.5L3.5,0.5M3.5,4.5L4.5,4.5M5.5,0.5L6.5,0.5L6.5,7.5L5.5,7.5L5.5,0.5M8.5,0.5L9.5,0.5L9.5,7.5L8.5,7.5L8.5,0.5" fill="none" stroke="#ffffff" stroke-width="1" stroke-linecap="butt"/>
<path transform="translate(63,353) rotate(-90)" d="M0.5,0.5L0.5,6.5M0.5,2.5L0.5,0.5M3.5,0.5L2.5,0.5L2.5,3.5L3.5,3.5L3.5,6.5L2.5,6.5M5.5,0.5L6.5,0.5L6.5,6.5L5.5,6.5L5.5,0.5M8.5,0.5L9.5,0.5L9.5,6.5L8.5,6.5L8.5,0.5M11.5,0.5L12.5,0.5L12.5,6.5L11.5,6.5L11.5,0.5" fill="none" stroke="#ffffff" stroke-width="1" stroke-linecap="butt"/>
<path transform="translate(83,451) rotate(-90)" d="M0.5,0.5L1.5,0.5L0.5,7.5M3.5,1.5L3.5,0.5L4.5,0.5L4.5,3.5L3.5,7.5L4.5,7.5M5.5,0.5L6.5,0.5L6.5,7.5L5.5,7.5L5.5,0.5M8.5,0.5L9.5,0.5L9.5,7.5L8.5,7.5L8.5,0.5" fill="none" stroke="#ffffff" stroke-width="1" stroke-linecap="butt"/>
<path transform="translate(1023,202) rotate(-90)" d="M0.5,0.5L1.5,0.5L1.5,7.5L0.5,7.5M0.5,4.5L1.5,4.5M3.5,1.5L3.5,0.5L4.5,0.5L4.5,3.5L3.5,7.5L4.5,7.5M6.5,0.5L7.5,0.5L7.5,7.5L6.5,7.5L6.5,0.5M9.5,0.5L10.5,0.5L10.5,7.5L9.5,7.5L9.5,0.5" fill="none" stroke="#ffffff" stroke-width="1" stroke-linecap="butt"/>
<path transform="translate(1023,276) rotate(-90)" d="M0.5,1.5L0.5,0.5L1.5,0.5L1.5,3.5L0.5,7.5L1.5,7.5M4.5,0.5L3.5,0.5L3.5,7.5L4.5,7.5L4.5,4.5L3.5,4.5M6.5,0.5L7.5,0.5L7.5,7.5L6.5,7.5L6.5,0.5M8.5,0.5L9.5,0.5L9.5,7.5L8.5,7.5L8.5,0.5" fill="none" stroke="#ffffff" stroke-width="1" stroke-linecap="butt"/>
<path transform="translate(1023,334) rotate(-90)" d="M1.5,0.5L1.5,6.5M0.5,2.5L1.5,0.5M3.5,3.5L2.5,3.5L2.5,0.5L3.5,0.5L3.5,6.5L2.5,6.5M5.5,0.5L4.5,0.5L4.5,3.5L5.5,3.5L5.5,6.5L4.5,6.5M7.5,0.5L8.5,0.5L8.5,6.5L7.5,6.5L7.5,0.5" fill="none" stroke="#ffffff" stroke-width="1" stroke-linecap="butt"/>
<path transform="translate(1023,451) rotate(-90)" d="M0.5,0.5L1.5,0.5L0.5,7.5M3.5,1.5L3.5,0.5L4.5,0.5L4.5,3.5L3.5,7.5L4.5,7.5M5.5,0.5L6.5,0.5L6.5,7.5L5.5,7.5L5.5,0.5M8.5,0.5L9.5,0.5L9.5,7.5L8.5,7.5L8.5,0.5" fill="none" stroke="#ffffff" stroke-width="1" stroke-linecap="butt"/>
<path transform="translate(1044,353) rotate(-90)" d="M1.5,0.5L1.5,5.5M0.5,1.5L1.5,0.5M3.5,0.5L2.5,0.5L2.5,2.5L3.5,2.5L3.5,5.5L2.5,5.5M5.5,0.5L6.5,0.5L6.5,5.5L5.5,5.5L5.5,0.5M8.5,0.5L9.5,0.5L9.5,5.5L8.5,5.5L8.5,0.5M10.5,0.5L11.5,0.5L11.5,5.5L10.5,5.5L10.5,0.5" fill="none" stroke="#ffffff" stroke-width="1" stroke-linecap="butt"/>
<path transform="translate(707,174) rotate(-90)" d="M1.5,0.5L1.5,5.5M0.5,1.5L1.5,0.5M2.5,0.5L3.5,0.5L3.5,5.5L2.5,5.5L2.5,0.5M5.5,0.5L6.5,0.5L6.5,5.5L5.5,5.5L5.5,0.5M7.5,0.5L8.5,0.5L8.5,5.5L7.5,5.5L7.5,0.5" fill="none" stroke="#ffffff" stroke-width="1" stroke-linecap="butt"/>
<path transform="translate(707,205) rotate(-90)" d="M1.5,0.5L1.5,5.5M0.5,1.5L1.5,0.5M3.5,0.5L2.5,0.5L2.5,2.5L3.5,2.5L3.5,5.5L2.5,5.5M5.5,0.5L6.5,0.5L6.5,5.5L5.5,5.5L5.5,0.5M7.5,0.5L8.5,0.5L8.5,5.5L7.5,5.5L7.5,0.5" fill="none" stroke="#ffffff" stroke-width="1" stroke-linecap="butt"/>
<path transform="translate(707,232) rotate(-90)" d="M0.5,0.5L1.5,0.5L0.5,5.5M2.5,0.5L3.5,0.5L3.5,5.5L2.5,5.5L2.5,0.5M5.5,0.5L6.5,0.5L6.5,5.5L5.5,5.5L5.5,0.5" fill="none" stroke="#ffffff" stroke-width="1" stroke-linecap="butt"/>
<path transform="translate(707,250) rotate(-90)" d="M1.5,0.5L1.5,5.5M0.5,1.5L1.5,0.5M3.5,0.5L2.5,0.5L2.5,2.5L3.5,2.5L3.5,5.5L2.5,5.5M5.5,0.5L6.5,0.5L6.5,5.5L5.5,5.5L5.5,0.5" fill="none" stroke="#ffffff" stroke-width="1" stroke-linecap="butt"/>
<path transform="translate(707,277) rotate(-90)" d="M1.5,0.5L1.5,5.5M0.5,1.5L1.5,0.5M2.5,0.5L3.5,0.5L3.5,2.5L2.5,5.5L3.5,5.5M4.5,0.5L5.5,0.5L5.5,5.5L4.5,5.5L4.5,0.5M7.5,0.5L8.5,0.5L8.5,5.5L7.5,5.5L7.5,0.5" fill="none" stroke="#ffffff" stroke-width="1" stroke-linecap="butt"/>
<path transform="translate(707,300) rotate(-90)" d="M0.5,0.5L1.5,0.5L0.5,5.5M2.5,0.5L3.5,0.5L3.5,5.5L2.5,5.5L2.5,0.5M5.5,0.5L6.5,0.5L6.5,5.5L5.5,5.5L5.5,0.5" fill="none" stroke="#ffffff" stroke-width="1" stroke-linecap="butt"/>
<path transform="translate(707,314) rotate(-90)" d="M1.5,0.5L1.5,5.5M0.5,1.5L1.5,0.5M2.5,0.5L3.5,0.5L3.5,5.5L2.5,5.5L2.5,0.5M4.5,0.5L5.5,0.5L5.5,5.5L4.5,5.5L4.5,0.5" fill="none" stroke="#ffffff" stroke-width="1" stroke-linecap="butt"/>
<path transform="translate(754,322)" d="M1.5,6.5L1.5,0.5L0.5,4.5L1.5,4.5M3.5,0.5L4.5,0.5L4.5,6.5L3.5,6.5L3.5,0.5M6.5,0.5L7.5,0.5L7.5,6.5L6.5,6.5L6.5,0.5" fill="none" stroke="#ffffff" stroke-width="1" stroke-linecap="butt"/>
<path transform="translate(767,322)" d="M1.5,0.5L0.5,0.5L0.5,6.5L1.5,6.5L1.5,3.5L0.5,3.5M3.5,0.5L4.5,0.5L4.5,6.5L3.5,6.5L3.5,0.5M6.5,0.5L7.5,0.5L7.5,6.5L6.5,6.5L6.5,0.5" fill="none" stroke="#ffffff" stroke-width="1" stroke-linecap="butt"/>
<path transform="translate(783,322)" d="M1.5,0.5L0.5,0.5L0.5,6.5L1.5,6.5L1.5,3.5L0.5,3.5M3.5,0.5L4.5,0.5L4.5,6.5L3.5,6.5L3.5,0.5M5.5,0.5L6.5,0.5L6.5,6.5L5.5,6.5L5.5,0.5" fill="none" stroke="#ffffff" stroke-width="1" stroke-linecap="butt"/>
<path transform="translate(796,322)" d="M0.5,0.5L1.5,0.5L1.5,6.5L0.5,6.5M0.5,3.5L1.5,3.5M3.5,3.5L2.5,3.5L2.5,0.5L3.5,0.5L3.5,6.5L2.5,6.5M5.5,0.5L6.5,0.5L6.5,6.5L5.5,6.5L5.5,0.5" fill="none" stroke="#ffffff" stroke-width="1" stroke-linecap="butt"/>
<path transform="translate(828,322)" d="M0.5,1.5L0.5,0.5L1.5,0.5L1.5,3.5L0.5,6.5L1.5,6.5M2.5,1.5L2.5,0.5L3.5,0.5L3.5,3.5L2.5,6.5L3.5,6.5M5.5,0.5L6.5,0.5L5.5,6.5M8.5,0.5L9.5,0.5L9.5,6.5L8.5,6.5L8.5,0.5" fill="none" stroke="#ffffff" stroke-width="1" stroke-linecap="butt"/>
<path transform="translate(860,322)" d="M0.5,1.5L0.5,0.5L1.5,0.5L1.5,3.5L0.5,6.5L1.5,6.5M3.5,0.5L4.5,0.5L4.5,6.5L3.5,6.5L3.5,0.5M5.5,0.5L6.5,0.5L6.5,6.5L5.5,6.5L5.5,0.5" fill="none" stroke="#ffffff" stroke-width="1" stroke-linecap="butt"/>
<path transform="translate(877,322)" d="M1.5,0.5L1.5,6.5M0.5,2.5L1.5,0.5M2.5,1.5L2.5,0.5L3.5,0.5L3.5,3.5L2.5,6.5L3.5,6.5M5.5,0.5L6.5,0.5L6.5,6.5L5.5,6.5L5.5,0.5M7.5,0.5L8.5,0.5L8.5,6.5L7.5,6.5L7.5,0.5" fill="none" stroke="#ffffff" stroke-width="1" stroke-linecap="butt"/>
<path transform="translate(904,322)" d="M0.5,0.5L1.5,0.5L1.5,6.5L0.5,6.5L0.5,0.5M0.5,3.5L1.5,3.5M4.5,0.5L3.5,0.5L3.5,3.5L4.5,3.5L4.5,6.5L3.5,6.5M5.5,0.5L6.5,0.5L6.5,6.5L5.5,6.5L5.5,0.5" fill="none" stroke="#ffffff" stroke-width="1" stroke-linecap="butt"/>
<path transform="translate(927,322)" d="M1.5,0.5L1.5,6.5M0.5,2.5L1.5,0.5M2.5,0.5L3.5,0.5L3.5,6.5L2.5,6.5L2.5,0.5M5.5,0.5L6.5,0.5L6.5,6.5L5.5,6.5L5.5,0.5M7.5,0.5L8.5,0.5L8.5,6.5L7.5,6.5L7.5,0.5" fill="none" stroke="#ffffff" stroke-width="1" stroke-linecap="butt"/>
<path transform="translate(307,366) rotate(-90)" d="M1.5,0.5L0.5,0.5L0.5,3.5L1.5,3.5L1.5,6.5L0.5,6.5M4.5,0.5L3.5,0.5L3.5,3.5L4.5,3.5L4.5,6.5L3.5,6.5M6.5,0.5L7.5,0.5L7.5,6.5L6.5,6.5L6.5,0.5" fill="none" stroke="#ffffff" stroke-width="1" stroke-linecap="butt"/>
<path transform="translate(307,397) rotate(-90)" d="M0.5,0.5L0.5,6.5M0.5,2.5L0.5,0.5M2.5,0.5L3.5,0.5L3.5,6.5L2.5,6.5L2.5,0.5M2.5,3.5L3.5,3.5M6.5,0.5L5.5,0.5L5.5,3.5L6.5,3.5L6.5,6.5L5.5,6.5M8.5,0.5L9.5,0.5L9.5,6.5L8.5,6.5L8.5,0.5" fill="none" stroke="#ffffff" stroke-width="1" stroke-linecap="butt"/>
<path transform="translate(307,442) rotate(-90)" d="M1.5,0.5L1.5,6.5M0.5,2.5L1.5,0.5M2.5,0.5L3.5,0.5L2.5,6.5M6.5,0.5L5.5,0.5L5.5,3.5L6.5,3.5L6.5,6.5L5.5,6.5M7.5,0.5L8.5,0.5L8.5,6.5L7.5,6.5L7.5,0.5" fill="none" stroke="#ffffff" stroke-width="1" stroke-linecap="butt"/>
<path transform="translate(307,488) rotate(-90)" d="M0.5,0.5L0.5,6.5M0.5,2.5L0.5,0.5M2.5,0.5L3.5,0.5L3.5,6.5L2.5,6.5L2.5,0.5M2.5,3.5L3.5,3.5M6.5,0.5L5.5,0.5L5.5,3.5L6.5,3.5L6.5,6.5L5.5,6.5M8.5,0.5L9.5,0.5L9.5,6.5L8.5,6.5L8.5,0.5" fill="none" stroke="#ffffff" stroke-width="1" stroke-linecap="butt"/>
<path transform="translate(307,522) rotate(-90)" d="M1.5,0.5L1.5,6.5M0.5,2.5L1.5,0.5M2.5,0.5L3.5,0.5L3.5,6.5L2.5,6.5L2.5,0.5M5.5,0.5L6.5,0.5L6.5,6.5L5.5,6.5L5.5,0.5M7.5,0.5L8.5,0.5L8.5,6.5L7.5,6.5L7.5,0.5" fill="none" stroke="#ffffff" stroke-width="1" stroke-linecap="butt"/>
<path transform="translate(1186,298)" d="M0.5,0.5L1.5,0.5L1.5,2.5L0.5,5.5L1.5,5.5M3.5,0.5L4.5,0.5L4.5,5.5L3.5,5.5L3.5,0.5M5.5,0.5L6.5,0.5L6.5,5.5L5.5,5.5L5.5,0.5" fill="none" stroke="#ffffff" stroke-width="1" stroke-linecap="butt"/>
<path transform="translate(1283,298)" d="M0.5,0.5L1.5,0.5L0.5,5.5M3.5,0.5L2.5,0.5L2.5,2.5L3.5,2.5L3.5,5.5L2.5,5.5M5.5,0.5L6.5,0.5L6.5,5.5L5.5,5.5L5.5,0.5M8.5,0.5L9.5,0.5L9.5,5.5L8.5,5.5L8.5,0.5" fill="none" stroke="#ffffff" stroke-width="1" stroke-linecap="butt"/>
<path transform="translate(1382,298)" d="M0.5,0.5L1.5,0.5L1.5,2.5L0.5,5.5L1.5,5.5M3.5,0.5L4.5,0.5L4.5,5.5L3.5,5.5L3.5,0.5M5.5,0.5L6.5,0.5L6.5,5.5L5.5,5.5L5.5,0.5" fill="none" stroke="#ffffff" stroke-width="1" stroke-linecap="butt"/>
<path transform="translate(1167,329)" d="M0.5,0.5L0.5,5.5M0.5,1.5L0.5,0.5M2.5,0.5L3.5,0.5L3.5,2.5L2.5,5.5L3.5,5.5M5.5,0.5L6.5,0.5L6.5,5.5L5.5,5.5L5.5,0.5M8.5,0.5L9.5,0.5L9.5,5.5L8.5,5.5L8.5,0.5" fill="none" stroke="#ffffff" stroke-width="1" stroke-linecap="butt"/>
<path transform="translate(1167,476)" d="M0.5,0.5L0.5,5.5M0.5,1.5L0.5,0.5M2.5,0.5L3.5,0.5L3.5,2.5L2.5,5.5L3.5,5.5M5.5,0.5L6.5,0.5L6.5,5.5L5.5,5.5L5.5,0.5M8.5,0.5L9.5,0.5L9.5,5.5L8.5,5.5L8.5,0.5" fill="none" stroke="#ffffff" stroke-width="1" stroke-linecap="butt"/>
<path transform="translate(1131,347) rotate(-90)" d="M0.5,0.5L1.5,0.5L1.5,5.5L0.5,5.5M0.5,2.5L1.5,2.5M3.5,0.5L4.5,0.5L4.5,5.5L3.5,5.5L3.5,0.5M5.5,0.5L6.5,0.5L6.5,5.5L5.5,5.5L5.5,0.5" fill="none" stroke="#ffffff" stroke-width="1" stroke-linecap="butt"/>
<path transform="translate(1131,384) rotate(-90)" d="M0.5,0.5L1.5,0.5L1.5,2.5L0.5,5.5L1.5,5.5M4.5,0.5L4.5,5.5M3.5,1.5L4.5,0.5M5.5,0.5L6.5,0.5L6.5,5.5L5.5,5.5L5.5,0.5M7.5,0.5L8.5,0.5L8.5,5.5L7.5,5.5L7.5,0.5" fill="none" stroke="#ffffff" stroke-width="1" stroke-linecap="butt"/>
<path transform="translate(1131,420) rotate(-90)" d="M0.5,0.5L1.5,0.5L1.5,5.5L0.5,5.5L0.5,0.5M0.5,2.5L1.5,2.5M3.5,0.5L2.5,0.5L2.5,2.5L3.5,2.5L3.5,5.5L2.5,5.5M5.5,0.5L6.5,0.5L6.5,5.5L5.5,5.5L5.5,0.5" fill="none" stroke="#ffffff" stroke-width="1" stroke-linecap="butt"/>
<path transform="translate(1131,455) rotate(-90)" d="M0.5,0.5L0.5,5.5M0.5,1.5L0.5,0.5M2.5,0.5L3.5,0.5L3.5,5.5L2.5,5.5L2.5,0.5M2.5,2.5L3.5,2.5M5.5,0.5L6.5,0.5L6.5,5.5L5.5,5.5L5.5,0.5M8.5,0.5L9.5,0.5L9.5,5.5L8.5,5.5L8.5,0.5" fill="none" stroke="#ffffff" stroke-width="1" stroke-linecap="butt"/>
<path transform="translate(1131,483) rotate(-90)" d="M1.5,0.5L0.5,0.5L0.5,2.5L1.5,2.5L1.5,5.5L0.5,5.5M2.5,0.5L3.5,0.5L3.5,5.5L2.5,5.5L2.5,0.5M5.5,0.5L6.5,0.5L6.5,5.5L5.5,5.5L5.5,0.5" fill="none" stroke="#ffffff" stroke-width="1" stroke-linecap="butt"/>
<path transform="translate(1408,340) rotate(-90)" d="M0.5,1.5L0.5,0.5L1.5,0.5L1.5,3.5L0.5,6.5L1.5,6.5M2.5,0.5L3.5,0.5L3.5,6.5L2.5,6.5L2.5,0.5M5.5,0.5L6.5,0.5L6.5,6.5L5.5,6.5L5.5,0.5" fill="none" stroke="#ffffff" stroke-width="1" stroke-linecap="butt"/>
<path transform="translate(1408,487) rotate(-90)" d="M0.5,1.5L0.5,0.5L1.5,0.5L1.5,3.5L0.5,6.5L1.5,6.5M2.5,0.5L3.5,0.5L3.5,6.5L2.5,6.5L2.5,0.5M5.5,0.5L6.5,0.5L6.5,6.5L5.5,6.5L5.5,0.5" fill="none" stroke="#ffffff" stroke-width="1" stroke-linecap="butt"/>
<path transform="translate(1408,415) rotate(-90)" d="M1.5,0.5L0.5,0.5L0.5,3.5L1.5,3.5L1.5,6.5L0.5,6.5M4.5,0.5L3.5,0.5L3.5,3.5L4.5,3.5L4.5,6.5L3.5,6.5M7.5,0.5L6.5,0.5L6.5,3.5L7.5,3.5L7.5,6.5L6.5,6.5M8.5,0.5L9.5,0.5L9.5,6.5L8.5,6.5L8.5,0.5" fill="none" stroke="#ffffff" stroke-width="1" stroke-linecap="butt"/>
<path transform="translate(1274,505) rotate(-90)" d="M1.5,0.5L1.5,5.5M0.5,1.5L1.5,0.5M2.5,0.5L3.5,0.5L3.5,2.5L2.5,5.5L3.5,5.5M4.5,0.5L5.5,0.5L5.5,5.5L4.5,5.5L4.5,0.5M6.5,0.5L7.5,0.5L7.5,5.5L6.5,5.5L6.5,0.5" fill="none" stroke="#ffffff" stroke-width="1" stroke-linecap="butt"/>
<path transform="translate(1238,522)" d="M1.5,6.5L1.5,0.5L0.5,4.5L1.5,4.5M4.5,6.5L4.5,0.5L3.5,4.5L4.5,4.5M7.5,0.5L6.5,0.5L6.5,3.5L7.5,3.5L7.5,6.5L6.5,6.5M9.5,0.5L10.5,0.5L10.5,6.5L9.5,6.5L9.5,0.5" fill="none" stroke="#ffffff" stroke-width="1" stroke-linecap="butt"/>
<path transform="translate(1319,522)" d="M1.5,0.5L1.5,6.5M0.5,2.5L1.5,0.5M2.5,0.5L3.5,0.5L3.5,6.5L2.5,6.5L2.5,0.5M2.5,3.5L3.5,3.5M4.5,0.5L5.5,0.5L5.5,6.5L4.5,6.5L4.5,0.5M7.5,0.5L8.5,0.5L8.5,6.5L7.5,6.5L7.5,0.5" fill="none" stroke="#ffffff" stroke-width="1" stroke-linecap="butt"/>
<path transform="translate(1362,522)" d="M1.5,0.5L1.5,6.5M0.5,2.5L1.5,0.5M3.5,0.5L2.5,0.5L2.5,6.5L3.5,6.5L3.5,3.5L2.5,3.5M6.5,0.5L5.5,0.5L5.5,3.5L6.5,3.5L6.5,6.5L5.5,6.5M7.5,0.5L8.5,0.5L8.5,6.5L7.5,6.5L7.5,0.5" fill="none" stroke="#ffffff" stroke-width="1" stroke-linecap="butt"/>
<path transform="translate(495,142)" d="M0.5,0.5L0.5,5.5M0.5,1.5L0.5,0.5M3.5,0.5L2.5,0.5L2.5,5.5L3.5,5.5L3.5,2.5L2.5,2.5M5.5,4.5L5.5,5.5M6.5,0.5L7.5,0.5L7.5,5.5L6.5,5.5L6.5,0.5M9.5,0.5L10.5,0.5L10.5,5.5L9.5,5.5L9.5,0.5M12.5,0.5L13.5,0.5L13.5,5.5L12.5,5.5L12.5,0.5" fill="none" stroke="#ffffff" stroke-width="1" stroke-linecap="butt"/>
<path transform="translate(472,173)" d="M0.5,0.5L0.5,6.5M0.5,2.5L0.5,0.5M3.5,0.5L2.5,0.5L2.5,3.5L3.5,3.5L3.5,6.5L2.5,6.5M5.5,5.5L5.5,6.5M7.5,0.5L8.5,0.5L8.5,6.5L7.5,6.5L7.5,0.5M10.5,0.5L11.5,0.5L11.5,6.5L10.5,6.5L10.5,0.5M13.5,0.5L14.5,0.5L14.5,6.5L13.5,6.5L13.5,0.5" fill="none" stroke="#ffffff" stroke-width="1" stroke-linecap="butt"/>
<path transform="translate(614,505)" d="M1.5,0.5L1.5,6.5M0.5,2.5L1.5,0.5M3.5,0.5L2.5,0.5L2.5,3.5L3.5,3.5L3.5,6.5L2.5,6.5M5.5,5.5L5.5,6.5M6.5,0.5L7.5,0.5L7.5,6.5L6.5,6.5L6.5,0.5M9.5,0.5L10.5,0.5L10.5,6.5L9.5,6.5L9.5,0.5M11.5,0.5L12.5,0.5L12.5,6.5L11.5,6.5L11.5,0.5" fill="none" stroke="#ffffff" stroke-width="1" stroke-linecap="butt"/>
<path transform="translate(601,548)" d="M0.5,0.5L0.5,5.5M0.5,1.5L0.5,0.5M3.5,0.5L2.5,0.5L2.5,5.5L3.5,5.5L3.5,2.5L2.5,2.5M5.5,4.5L5.5,5.5M6.5,0.5L7.5,0.5L7.5,5.5L6.5,5.5L6.5,0.5M9.5,0.5L10.5,0.5L10.5,5.5L9.5,5.5L9.5,0.5M12.5,0.5L13.5,0.5L13.5,5.5L12.5,5.5L12.5,0.5" fill="none" stroke="#ffffff" stroke-width="1" stroke-linecap="butt"/>
<path transform="translate(782,191)" d="M1.5,0.5L1.5,6.5M0.5,2.5L1.5,0.5M4.5,0.5L3.5,0.5L3.5,3.5L4.5,3.5L4.5,6.5L3.5,6.5M6.5,5.5L6.5,6.5M8.5,0.5L9.5,0.5L9.5,6.5L8.5,6.5L8.5,0.5M11.5,0.5L13.5,0.5L13.5,6.5L11.5,6.5L11.5,0.5M15.5,0.5L16.5,0.5L16.5,6.5L15.5,6.5L15.5,0.5" fill="none" stroke="#ffffff" stroke-width="1" stroke-linecap="butt"/>
<path transform="translate(790,267)" d="M1.5,0.5L1.5,6.5M0.5,2.5L1.5,0.5M3.5,0.5L2.5,0.5L2.5,3.5L3.5,3.5L3.5,6.5L2.5,6.5M4.5,5.5L4.5,6.5M6.5,0.5L7.5,0.5L7.5,6.5L6.5,6.5L6.5,0.5M8.5,0.5L9.5,0.5L9.5,6.5L8.5,6.5L8.5,0.5M11.5,0.5L12.5,0.5L12.5,6.5L11.5,6.5L11.5,0.5" fill="none" stroke="#ffffff" stroke-width="1" stroke-linecap="butt"/>
<path transform="translate(899,268)" d="M1.5,0.5L1.5,6.5M0.5,2.5L1.5,0.5M3.5,0.5L2.5,0.5L2.5,3.5L3.5,3.5L3.5,6.5L2.5,6.5M5.5,5.5L5.5,6.5M6.5,0.5L7.5,0.5L7.5,6.5L6.5,6.5L6.5,0.5M8.5,0.5L9.5,0.5L9.5,6.5L8.5,6.5L8.5,0.5M11.5,0.5L12.5,0.5L12.5,6.5L11.5,6.5L11.5,0.5" fill="none" stroke="#ffffff" stroke-width="1" stroke-linecap="butt"/>
<path transform="translate(1274,320)" d="M1.5,0.5L1.5,5.5M0.5,1.5L1.5,0.5M3.5,2.5L2.5,2.5L2.5,0.5L3.5,0.5L3.5,5.5L2.5,5.5M5.5,4.5L5.5,5.5M6.5,0.5L7.5,0.5L7.5,2.5L6.5,5.5L7.5,5.5M9.5,0.5L10.5,0.5L10.5,5.5L9.5,5.5L9.5,0.5M12.5,0.5L13.5,0.5L13.5,5.5L12.5,5.5L12.5,0.5" fill="none" stroke="#ffffff" stroke-width="1" stroke-linecap="butt"/>
<path transform="translate(1274,396)" d="M1.5,0.5L1.5,5.5M0.5,1.5L1.5,0.5M2.5,0.5L3.5,0.5L3.5,5.5L2.5,5.5L2.5,0.5M2.5,2.5L3.5,2.5M5.5,4.5L5.5,5.5M7.5,2.5L6.5,2.5L6.5,0.5L7.5,0.5L7.5,5.5L6.5,5.5M9.5,0.5L10.5,0.5L10.5,5.5L9.5,5.5L9.5,0.5M12.5,0.5L13.5,0.5L13.5,5.5L12.5,5.5L12.5,0.5" fill="none" stroke="#ffffff" stroke-width="1" stroke-linecap="butt"/>
<path transform="translate(1165,358)" d="M1.5,0.5L1.5,6.5M0.5,2.5L1.5,0.5M2.5,0.5L3.5,0.5L3.5,6.5L2.5,6.5L2.5,0.5M2.5,3.5L3.5,3.5M5.5,5.5L5.5,6.5M7.5,0.5L6.5,0.5L6.5,3.5L7.5,3.5L7.5,6.5L6.5,6.5M9.5,0.5L10.5,0.5L10.5,6.5L9.5,6.5L9.5,0.5M11.5,0.5L12.5,0.5L12.5,6.5L11.5,6.5L11.5,0.5" fill="none" stroke="#ffffff" stroke-width="1" stroke-linecap="butt"/>
<path transform="translate(1164,452)" d="M1.5,0.5L1.5,5.5M0.5,1.5L1.5,0.5M2.5,0.5L3.5,0.5L3.5,5.5L2.5,5.5L2.5,0.5M2.5,2.5L3.5,2.5M5.5,4.5L5.5,5.5M7.5,0.5L6.5,0.5L6.5,2.5L7.5,2.5L7.5,5.5L6.5,5.5M9.5,0.5L10.5,0.5L10.5,5.5L9.5,5.5L9.5,0.5M12.5,0.5L13.5,0.5L13.5,5.5L12.5,5.5L12.5,0.5" fill="none" stroke="#ffffff" stroke-width="1" stroke-linecap="butt"/>
<path transform="translate(1324,498)" d="M1.5,0.5L1.5,5.5M0.5,1.5L1.5,0.5M2.5,0.5L3.5,0.5L3.5,5.5L2.5,5.5L2.5,0.5M2.5,2.5L3.5,2.5M5.5,4.5L5.5,5.5M7.5,0.5L6.5,0.5L6.5,2.5L7.5,2.5L7.5,5.5L6.5,5.5M8.5,0.5L9.5,0.5L9.5,5.5L8.5,5.5L8.5,0.5M11.5,0.5L12.5,0.5L12.5,5.5L11.5,5.5L11.5,0.5" fill="none" stroke="#ffffff" stroke-width="1" stroke-linecap="butt"/>
<path transform="translate(344,163)" d="M1.5,0.5L1.5,6.5M0.5,2.5L1.5,0.5M4.5,0.5L3.5,6.5M3.5,0.5L3.5,2.5L3.5,0.5M4.5,4.5L4.5,6.5L4.5,4.5" fill="none" stroke="#ffffff" stroke-width="1" stroke-linecap="butt"/>
<path transform="translate(392,163)" d="M1.5,0.5L1.5,6.5M0.5,2.5L1.5,0.5M5.5,0.5L3.5,6.5M3.5,0.5L4.5,0.5L4.5,2.5L3.5,2.5L3.5,0.5M4.5,4.5L5.5,4.5L5.5,6.5L4.5,6.5L4.5,4.5" fill="none" stroke="#ffffff" stroke-width="1" stroke-linecap="butt"/>
<path transform="translate(720,164)" d="M1.5,0.5L1.5,5.5M0.5,1.5L1.5,0.5M4.5,0.5L3.5,5.5M3.5,0.5L3.5,2.5L3.5,0.5M4.5,4.5L4.5,5.5L4.5,4.5" fill="none" stroke="#ffffff" stroke-width="1" stroke-linecap="butt"/>
<path transform="translate(345,522)" d="M1.5,0.5L1.5,6.5M0.5,2.5L1.5,0.5M4.5,0.5L3.5,6.5M3.5,0.5L3.5,2.5L3.5,0.5M4.5,4.5L4.5,6.5L4.5,4.5" fill="none" stroke="#ffffff" stroke-width="1" stroke-linecap="butt"/>
<path transform="translate(393,522)" d="M1.5,0.5L1.5,6.5M0.5,2.5L1.5,0.5M4.5,0.5L3.5,6.5M3.5,0.5L3.5,2.5L3.5,0.5M4.5,4.5L4.5,6.5L4.5,4.5" fill="none" stroke="#ffffff" stroke-width="1" stroke-linecap="butt"/>
<path transform="translate(726,522)" d="M1.5,0.5L1.5,6.5M0.5,2.5L1.5,0.5M4.5,0.5L3.5,6.5M3.5,0.5L3.5,2.5L3.5,0.5M4.5,4.5L4.5,6.5L4.5,4.5" fill="none" stroke="#ffffff" stroke-width="1" stroke-linecap="butt"/>
<path transform="translate(774,522)" d="M1.5,0.5L1.5,6.5M0.5,2.5L1.5,0.5M4.5,0.5L3.5,6.5M3.5,0.5L3.5,2.5L3.5,0.5M4.5,4.5L4.5,6.5L4.5,4.5" fill="none" stroke="#ffffff" stroke-width="1" stroke-linecap="butt"/>
<path transform="translate(1271,473)" d="M1.5,0.5L1.5,5.5M0.5,1.5L1.5,0.5M4.5,0.5L3.5,5.5M3.5,0.5L3.5,2.5L3.5,0.5M4.5,4.5L4.5,5.5L4.5,4.5" fill="none" stroke="#ffffff" stroke-width="1" stroke-linecap="butt"/>
<path transform="translate(1298,473)" d="M1.5,0.5L1.5,5.5M0.5,1.5L1.5,0.5M4.5,0.5L3.5,5.5M3.5,0.5L3.5,2.5L3.5,0.5M4.5,4.5L4.5,5.5L4.5,4.5" fill="none" stroke="#ffffff" stroke-width="1" stroke-linecap="butt"/>
<path transform="translate(1232,402) rotate(-90)" d="M1.5,0.5L1.5,6.5M0.5,2.5L1.5,0.5M5.5,0.5L3.5,6.5M3.5,0.5L4.5,0.5L4.5,2.5L3.5,2.5L3.5,0.5M4.5,4.5L5.5,4.5L5.5,6.5L4.5,6.5L4.5,4.5" fill="none" stroke="#ffffff" stroke-width="1" stroke-linecap="butt"/>
<path transform="translate(1321,402) rotate(-90)" d="M1.5,0.5L1.5,6.5M0.5,2.5L1.5,0.5M5.5,0.5L3.5,6.5M3.5,0.5L4.5,0.5L4.5,2.5L3.5,2.5L3.5,0.5M4.5,4.5L5.5,4.5L5.5,6.5L4.5,6.5L4.5,4.5" fill="none" stroke="#ffffff" stroke-width="1" stroke-linecap="butt"/>
<path transform="translate(520,139)" d="M1.5,-0.5L0.5,2.5L0.5,7.5L1.5,10.5M2.5,0.5L2.5,9.5M4.5,2.5L4.5,7.5M4.5,2.5L4.5,8.5M5.5,0.5L5.5,9.5M3.5,3.5L5.5,3.5M2.5,5.5L4.5,5.5M7.5,0.5L7.5,9.5M8.5,0.5L8.5,6.5M11.5,0.5L11.5,9.5M7.5,5.5L10.5,5.5M8.5,9.5L10.5,9.5M13.5,1.5L13.5,6.5M14.5,1.5L14.5,7.5M15.5,1.5L15.5,7.5M16.5,0.5L16.5,8.5M13.5,9.5L15.5,9.5M14.5,5.5L15.5,5.5M14.5,7.5L15.5,7.5M14.5,0.5L15.5,2.5M18.5,2.5L18.5,8.5M19.5,2.5L19.5,9.5M20.5,0.5L20.5,9.5M21.5,0.5L21.5,6.5M19.5,1.5L20.5,1.5M19.5,3.5L21.5,3.5M20.5,4.5L18.5,9.5M23.5,2.5L23.5,8.5M27.5,2.5L27.5,7.5M24.5,1.5L26.5,1.5M24.5,7.5L27.5,7.5M23.5,5.5L26.5,5.5M25.5,4.5L27.5,9.5M29.5,1.5L29.5,8.5M31.5,2.5L31.5,8.5M31.5,2.5L31.5,8.5M32.5,0.5L32.5,7.5M29.5,3.5L31.5,3.5M30.5,5.5L31.5,5.5M29.5,1.5L31.5,1.5M31.5,4.5L29.5,9.5M34.5,-0.5L35.5,2.5L35.5,7.5L34.5,10.5" fill="none" stroke="#ffffff" stroke-width="1" stroke-linecap="butt"/>
<path transform="translate(498,170)" d="M1.5,-0.5L0.5,3.5L0.5,8.5L1.5,12.5M2.5,1.5L2.5,8.5M3.5,1.5L3.5,8.5M4.5,2.5L4.5,8.5M5.5,3.5L5.5,8.5M2.5,8.5L4.5,8.5M3.5,1.5L5.5,1.5M3.5,0.5L4.5,3.5M7.5,1.5L7.5,7.5M8.5,1.5L8.5,8.5M9.5,1.5L9.5,7.5M11.5,0.5L11.5,11.5M8.5,3.5L10.5,3.5M8.5,8.5L10.5,8.5M8.5,1.5L11.5,1.5M9.5,5.5L11.5,11.5M13.5,0.5L13.5,10.5M14.5,0.5L14.5,8.5M15.5,3.5L15.5,9.5M15.5,3.5L15.5,11.5M16.5,1.5L16.5,11.5M13.5,6.5L16.5,6.5M14.5,11.5L15.5,11.5M13.5,8.5L15.5,8.5M15.5,5.5L16.5,11.5M18.5,3.5L18.5,8.5M19.5,3.5L19.5,11.5M20.5,1.5L20.5,8.5M21.5,0.5L21.5,8.5M19.5,1.5L20.5,1.5M18.5,8.5L20.5,8.5M18.5,1.5L21.5,1.5M23.5,3.5L23.5,9.5M26.5,3.5L26.5,9.5M24.5,1.5L25.5,1.5M24.5,8.5L26.5,8.5M23.5,6.5L25.5,6.5M25.5,5.5L26.5,11.5M28.5,1.5L28.5,9.5M30.5,2.5L30.5,10.5M31.5,2.5L31.5,10.5M32.5,0.5L32.5,8.5M28.5,3.5L31.5,3.5M29.5,6.5L31.5,6.5M29.5,1.5L31.5,1.5M30.5,6.5L28.5,11.5M34.5,-0.5L35.5,3.5L35.5,8.5L34.5,12.5" fill="none" stroke="#ffffff" stroke-width="1" stroke-linecap="butt"/>
<path transform="translate(639,502)" d="M1.5,-0.5L0.5,2.5L0.5,7.5L1.5,10.5M2.5,1.5L2.5,6.5M3.5,1.5L3.5,7.5M4.5,1.5L4.5,7.5M5.5,2.5L5.5,7.5M2.5,7.5L4.5,7.5M3.5,1.5L5.5,1.5M3.5,0.5L4.5,2.5M7.5,1.5L7.5,6.5M8.5,1.5L8.5,7.5M9.5,1.5L9.5,6.5M11.5,0.5L11.5,9.5M8.5,3.5L10.5,3.5M8.5,7.5L10.5,7.5M8.5,1.5L11.5,1.5M9.5,4.5L11.5,9.5M13.5,0.5L13.5,8.5M14.5,0.5L14.5,7.5M15.5,3.5L15.5,7.5M15.5,3.5L15.5,9.5M16.5,1.5L16.5,9.5M13.5,5.5L16.5,5.5M14.5,9.5L15.5,9.5M13.5,7.5L15.5,7.5M15.5,4.5L16.5,9.5M18.5,2.5L18.5,7.5M19.5,2.5L19.5,9.5M20.5,1.5L20.5,7.5M22.5,0.5L22.5,6.5M19.5,1.5L21.5,1.5M18.5,7.5L21.5,7.5M18.5,1.5L22.5,1.5M24.5,2.5L24.5,8.5M27.5,2.5L27.5,7.5M25.5,1.5L26.5,1.5M25.5,7.5L27.5,7.5M24.5,5.5L26.5,5.5M26.5,4.5L27.5,9.5M29.5,1.5L29.5,8.5M31.5,2.5L31.5,8.5M31.5,2.5L31.5,8.5M32.5,0.5L32.5,7.5M29.5,3.5L31.5,3.5M30.5,5.5L31.5,5.5M29.5,1.5L31.5,1.5M31.5,4.5L29.5,9.5M34.5,-0.5L35.5,2.5L35.5,7.5L34.5,10.5" fill="none" stroke="#ffffff" stroke-width="1" stroke-linecap="butt"/>
<path transform="translate(625,546)" d="M1.5,-0.5L0.5,2.5L0.5,6.5L1.5,9.5M2.5,0.5L2.5,8.5M4.5,2.5L4.5,6.5M5.5,2.5L5.5,8.5M6.5,0.5L6.5,8.5M3.5,2.5L6.5,2.5M2.5,4.5L5.5,4.5M8.5,0.5L8.5,8.5M9.5,0.5L9.5,6.5M11.5,0.5L11.5,8.5M8.5,4.5L10.5,4.5M8.5,8.5L10.5,8.5M13.5,1.5L13.5,5.5M14.5,1.5L14.5,6.5M15.5,1.5L15.5,6.5M16.5,0.5L16.5,7.5M13.5,8.5L15.5,8.5M14.5,4.5L15.5,4.5M14.5,6.5L15.5,6.5M14.5,0.5L15.5,2.5M18.5,2.5L18.5,7.5M19.5,2.5L19.5,8.5M20.5,0.5L20.5,8.5M21.5,0.5L21.5,6.5M19.5,1.5L21.5,1.5M19.5,2.5L22.5,2.5M20.5,4.5L18.5,8.5M24.5,2.5L24.5,7.5M27.5,2.5L27.5,6.5M25.5,1.5L26.5,1.5M25.5,6.5L27.5,6.5M24.5,4.5L26.5,4.5M26.5,4.5L27.5,8.5M29.5,1.5L29.5,7.5M31.5,2.5L31.5,7.5M32.5,2.5L32.5,7.5M33.5,0.5L33.5,6.5M29.5,2.5L32.5,2.5M30.5,4.5L32.5,4.5M30.5,1.5L32.5,1.5M31.5,4.5L29.5,8.5M35.5,-0.5L36.5,2.5L36.5,6.5L35.5,9.5" fill="none" stroke="#ffffff" stroke-width="1" stroke-linecap="butt"/>
<path transform="translate(588,114)" d="M0.5,0.5L0.5,8.5M3.5,0.5L3.5,8.5M1.5,2.5L3.5,2.5M0.5,6.5L4.5,6.5M7.5,0.5L7.5,8.5M9.5,2.5L9.5,7.5M10.5,2.5L10.5,7.5M11.5,2.5L11.5,6.5M8.5,1.5L10.5,1.5M8.5,4.5L11.5,4.5M8.5,4.5L11.5,4.5M8.5,0.5L9.5,2.5M13.5,2.5L13.5,6.5M14.5,2.5L14.5,8.5M15.5,1.5L15.5,6.5M18.5,2.5L18.5,8.5M14.5,6.5L17.5,6.5M15.5,4.5L18.5,4.5M14.5,2.5L17.5,2.5M15.5,4.5L13.5,8.5M20.5,7.5L20.5,9.5M21.5,0.5L21.5,8.5L23.5,8.5L23.5,7.5L23.5,5.5L23.5,4.5L21.5,4.5M21.5,0.5L23.5,0.5L23.5,1.5L23.5,3.5L23.5,4.5M25.5,2.5L27.5,8.5M27.5,2.5L25.5,8.5M29.5,0.5L29.5,8.5M30.5,0.5L30.5,8.5M29.5,4.5L30.5,4.5M32.5,3.5L34.5,3.5M32.5,6.5L34.5,6.5M36.5,1.5L36.5,0.5L37.5,0.5L37.5,4.5L36.5,8.5L37.5,8.5M39.5,0.5L41.5,0.5L41.5,8.5L39.5,8.5L39.5,0.5M43.5,0.5L45.5,0.5L45.5,8.5L43.5,8.5L43.5,0.5M52.5,2.5L54.5,8.5M54.5,2.5L52.5,8.5M57.5,0.5L57.5,8.5M56.5,2.5L57.5,0.5M59.5,0.5L60.5,0.5L60.5,8.5L59.5,8.5L59.5,0.5M62.5,0.5L64.5,0.5L64.5,8.5L62.5,8.5L62.5,0.5M66.5,8.5L66.5,3.5L66.5,8.5M66.5,3.5L67.5,3.5L67.5,8.5M69.5,8.5L69.5,3.5L70.5,3.5L70.5,8.5M70.5,3.5L71.5,3.5L71.5,8.5" fill="none" stroke="#ffffff" stroke-width="1" stroke-linecap="butt"/>
<path transform="translate(616,128)" d="M0.5,2.5L0.5,6.5M1.5,2.5L1.5,8.5M2.5,1.5L2.5,6.5M3.5,2.5L3.5,8.5M1.5,6.5L3.5,6.5M1.5,4.5L3.5,4.5M0.5,2.5L3.5,2.5M2.5,4.5L0.5,8.5M5.5,0.5L5.5,8.5M7.5,0.5L7.5,7.5M9.5,0.5L9.5,7.5M6.5,1.5L8.5,1.5M5.5,4.5L8.5,4.5M7.5,4.5L5.5,8.5M11.5,1.5L11.5,7.5M13.5,2.5L13.5,7.5M13.5,2.5L13.5,7.5M14.5,0.5L14.5,6.5M11.5,2.5L13.5,2.5M12.5,4.5L13.5,4.5M11.5,1.5L13.5,1.5M13.5,4.5L11.5,8.5M16.5,0.5L16.5,8.5M17.5,0.5L17.5,6.5M18.5,0.5L18.5,8.5M18.5,0.5L18.5,6.5M19.5,2.5L19.5,7.5M17.5,8.5L18.5,8.5M16.5,6.5L18.5,6.5M17.5,1.5L18.5,1.5M17.5,0.5L18.5,2.5M21.5,2.5L21.5,5.5M22.5,2.5L22.5,7.5M23.5,0.5L23.5,8.5M23.5,0.5L23.5,6.5M24.5,1.5L24.5,7.5M22.5,6.5L24.5,6.5M21.5,2.5L23.5,2.5M22.5,6.5L23.5,6.5M23.5,4.5L21.5,8.5M26.5,0.5L26.5,8.5M27.5,0.5L27.5,6.5M28.5,1.5L28.5,5.5M30.5,0.5L30.5,7.5M27.5,1.5L29.5,1.5M28.5,6.5L30.5,6.5M26.5,4.5L28.5,4.5M28.5,4.5L30.5,8.5M32.5,0.5L32.5,8.5M32.5,2.5L32.5,0.5M35.5,0.5L34.5,0.5L34.5,4.5L35.5,4.5L35.5,8.5L34.5,8.5M37.5,0.5L38.5,0.5L38.5,8.5L37.5,8.5L37.5,0.5M40.5,8.5L40.5,3.5L40.5,8.5M40.5,3.5L41.5,3.5L41.5,8.5M43.5,8.5L43.5,3.5L43.5,8.5M43.5,3.5L44.5,3.5L44.5,8.5" fill="none" stroke="#ffffff" stroke-width="1" stroke-linecap="butt"/>
<path transform="translate(465,557)" d="M0.5,0.5L0.5,7.5M3.5,0.5L3.5,7.5M1.5,2.5L3.5,2.5M0.5,5.5L4.5,5.5M7.5,0.5L7.5,7.5M9.5,2.5L9.5,7.5M10.5,2.5L10.5,6.5M11.5,2.5L11.5,5.5M8.5,1.5L10.5,1.5M8.5,4.5L11.5,4.5M8.5,4.5L11.5,4.5M8.5,0.5L9.5,2.5M13.5,2.5L13.5,5.5M14.5,2.5L14.5,7.5M15.5,1.5L15.5,5.5M18.5,2.5L18.5,7.5M14.5,5.5L17.5,5.5M15.5,4.5L18.5,4.5M14.5,2.5L17.5,2.5M15.5,4.5L13.5,7.5M20.5,6.5L20.5,8.5M21.5,0.5L21.5,7.5L23.5,7.5L23.5,6.5L23.5,4.5L23.5,3.5L21.5,3.5M21.5,0.5L23.5,0.5L23.5,1.5L23.5,3.5M25.5,2.5L26.5,7.5M26.5,2.5L25.5,7.5M28.5,0.5L28.5,7.5M30.5,0.5L30.5,7.5M28.5,4.5L30.5,4.5M32.5,2.5L34.5,2.5M32.5,5.5L34.5,5.5M36.5,1.5L36.5,0.5L37.5,0.5L37.5,3.5L36.5,7.5L37.5,7.5M39.5,0.5L41.5,0.5L41.5,7.5L39.5,7.5L39.5,0.5M43.5,0.5L44.5,0.5L44.5,7.5L43.5,7.5L43.5,0.5M52.5,2.5L53.5,7.5M53.5,2.5L52.5,7.5M56.5,0.5L56.5,7.5M55.5,2.5L56.5,0.5M58.5,0.5L60.5,0.5L60.5,7.5L58.5,7.5L58.5,0.5M62.5,0.5L63.5,0.5L63.5,7.5L62.5,7.5L62.5,0.5M65.5,7.5L65.5,3.5L66.5,3.5L66.5,7.5M66.5,3.5L67.5,3.5L67.5,7.5M69.5,7.5L69.5,3.5L70.5,3.5L70.5,7.5M70.5,3.5L71.5,3.5L71.5,7.5" fill="none" stroke="#ffffff" stroke-width="1" stroke-linecap="butt"/>
<path transform="translate(465,572)" d="M0.5,2.5L0.5,5.5M1.5,2.5L1.5,7.5M2.5,1.5L2.5,5.5M3.5,2.5L3.5,7.5M1.5,5.5L3.5,5.5M1.5,4.5L3.5,4.5M0.5,2.5L3.5,2.5M2.5,4.5L0.5,7.5M5.5,0.5L5.5,7.5M7.5,0.5L7.5,6.5M9.5,0.5L9.5,6.5M6.5,1.5L8.5,1.5M5.5,4.5L8.5,4.5M7.5,4.5L5.5,7.5M11.5,1.5L11.5,6.5M13.5,1.5L13.5,6.5M13.5,1.5L13.5,6.5M14.5,0.5L14.5,5.5M11.5,2.5L13.5,2.5M12.5,4.5L13.5,4.5M11.5,1.5L13.5,1.5M13.5,4.5L11.5,7.5M16.5,0.5L16.5,7.5M17.5,0.5L17.5,5.5M18.5,0.5L18.5,7.5M18.5,0.5L18.5,5.5M19.5,2.5L19.5,6.5M17.5,7.5L18.5,7.5M16.5,5.5L18.5,5.5M17.5,1.5L18.5,1.5M17.5,0.5L18.5,2.5M21.5,1.5L21.5,5.5M22.5,1.5L22.5,6.5M23.5,0.5L23.5,7.5M24.5,0.5L24.5,5.5M25.5,1.5L25.5,6.5M23.5,5.5L25.5,5.5M21.5,2.5L24.5,2.5M22.5,5.5L24.5,5.5M23.5,4.5L21.5,7.5M27.5,0.5L27.5,7.5M28.5,0.5L28.5,5.5M29.5,1.5L29.5,5.5M30.5,0.5L30.5,7.5M28.5,1.5L29.5,1.5M28.5,5.5L30.5,5.5M27.5,4.5L29.5,4.5M29.5,3.5L30.5,7.5M32.5,0.5L32.5,7.5M32.5,2.5L32.5,0.5M35.5,0.5L34.5,0.5L34.5,3.5L35.5,3.5L35.5,7.5L34.5,7.5M37.5,0.5L38.5,0.5L38.5,7.5L37.5,7.5L37.5,0.5M40.5,7.5L40.5,3.5L40.5,7.5M40.5,3.5L41.5,3.5L41.5,7.5M43.5,7.5L43.5,3.5L43.5,7.5M43.5,3.5L44.5,3.5L44.5,7.5" fill="none" stroke="#ffffff" stroke-width="1" stroke-linecap="butt"/>
<path transform="translate(392,258)" d="M0.5,1.5L0.5,7.5M3.5,0.5L3.5,8.5M1.5,10.5L3.5,10.5M1.5,5.5L2.5,5.5M0.5,3.5L3.5,3.5M5.5,1.5L5.5,10.5M7.5,2.5L7.5,8.5M8.5,2.5L8.5,9.5M9.5,2.5L9.5,8.5M6.5,5.5L8.5,5.5M5.5,10.5L9.5,10.5M7.5,5.5L5.5,10.5M11.5,2.5L11.5,7.5M12.5,2.5L12.5,9.5M13.5,2.5L13.5,10.5M13.5,2.5L13.5,9.5M14.5,0.5L14.5,10.5M12.5,3.5L14.5,3.5M11.5,7.5L14.5,7.5M13.5,5.5L11.5,10.5M16.5,0.5L16.5,10.5M18.5,0.5L18.5,10.5M19.5,0.5L19.5,7.5M20.5,2.5L20.5,7.5M17.5,7.5L19.5,7.5M16.5,10.5L19.5,10.5M16.5,5.5L18.5,5.5M22.5,0.5L22.5,10.5M24.5,0.5L24.5,7.5M25.5,1.5L25.5,7.5M22.5,5.5L24.5,5.5M22.5,10.5L24.5,10.5M23.5,3.5L24.5,3.5M27.5,1.5L27.5,9.5M28.5,1.5L28.5,8.5M29.5,1.5L29.5,8.5M31.5,1.5L31.5,9.5M28.5,7.5L30.5,7.5M28.5,10.5L30.5,10.5M29.5,5.5L27.5,10.5M33.5,2.5L33.5,8.5M34.5,2.5L34.5,9.5M35.5,1.5L35.5,8.5M36.5,1.5L36.5,8.5M34.5,7.5L35.5,7.5M34.5,1.5L35.5,1.5M34.5,10.5L36.5,10.5M35.5,5.5L33.5,10.5" fill="none" stroke="#ffffff" stroke-width="1" stroke-linecap="butt"/>
<path transform="translate(285,288) rotate(-90)" d="M0.5,1.5L0.5,0.5L1.5,0.5L1.5,3.5L0.5,7.5L1.5,7.5M4.5,0.5L3.5,7.5M3.5,0.5L3.5,2.5L3.5,0.5M4.5,5.5L4.5,7.5L4.5,5.5M12.5,-0.5L11.5,2.5L11.5,5.5L12.5,8.5M13.5,0.5L13.5,5.5M14.5,0.5L14.5,5.5M15.5,1.5L15.5,5.5M17.5,2.5L17.5,5.5M13.5,5.5L16.5,5.5M14.5,1.5L16.5,1.5M14.5,0.5L15.5,2.5M19.5,0.5L19.5,5.5M20.5,0.5L20.5,5.5M21.5,0.5L21.5,5.5M23.5,0.5L23.5,7.5M20.5,2.5L22.5,2.5M20.5,5.5L22.5,5.5M20.5,1.5L23.5,1.5M21.5,3.5L23.5,7.5M25.5,0.5L25.5,5.5M27.5,0.5L27.5,7.5M25.5,5.5L27.5,5.5M26.5,4.5L29.5,4.5M26.5,0.5L27.5,2.5M31.5,0.5L31.5,7.5M33.5,2.5L33.5,5.5M34.5,0.5L34.5,7.5M32.5,1.5L34.5,1.5M32.5,7.5L34.5,7.5M36.5,-0.5L37.5,2.5L37.5,5.5L36.5,8.5" fill="none" stroke="#ffffff" stroke-width="1" stroke-linecap="butt"/>
<path transform="translate(542,288) rotate(-90)" d="M0.5,1.5L0.5,0.5L1.5,0.5L1.5,4.5L0.5,9.5L1.5,9.5M4.5,0.5L3.5,9.5M3.5,0.5L3.5,3.5L3.5,0.5M4.5,6.5L4.5,9.5L4.5,6.5M12.5,-0.5L11.5,2.5L11.5,7.5L12.5,10.5M13.5,1.5L13.5,6.5M14.5,1.5L14.5,7.5M15.5,1.5L15.5,7.5M17.5,2.5L17.5,7.5M13.5,7.5L16.5,7.5M14.5,1.5L16.5,1.5M14.5,0.5L15.5,2.5M19.5,1.5L19.5,6.5M20.5,1.5L20.5,7.5M21.5,1.5L21.5,6.5M23.5,0.5L23.5,9.5M20.5,3.5L22.5,3.5M20.5,7.5L22.5,7.5M20.5,1.5L23.5,1.5M21.5,4.5L23.5,9.5M25.5,0.5L25.5,7.5M27.5,0.5L27.5,9.5M25.5,7.5L27.5,7.5M26.5,5.5L28.5,5.5M26.5,0.5L27.5,2.5M30.5,0.5L30.5,9.5M32.5,3.5L32.5,7.5M34.5,0.5L34.5,9.5M31.5,1.5L34.5,1.5M31.5,9.5L34.5,9.5M36.5,-0.5L37.5,2.5L37.5,7.5L36.5,10.5" fill="none" stroke="#ffffff" stroke-width="1" stroke-linecap="butt"/>
<path transform="translate(283,459) rotate(-90)" d="M0.5,1.5L0.5,6.5M1.5,1.5L1.5,7.5M2.5,1.5L2.5,7.5M4.5,2.5L4.5,7.5M0.5,7.5L3.5,7.5M1.5,1.5L3.5,1.5M1.5,0.5L2.5,2.5M6.5,1.5L6.5,6.5M7.5,1.5L7.5,7.5M8.5,1.5L8.5,6.5M9.5,0.5L9.5,9.5M7.5,3.5L8.5,3.5M7.5,7.5L8.5,7.5M7.5,1.5L9.5,1.5M8.5,4.5L9.5,9.5M11.5,0.5L11.5,7.5M13.5,0.5L13.5,9.5M11.5,7.5L13.5,7.5M12.5,5.5L15.5,5.5M12.5,0.5L13.5,2.5M17.5,0.5L17.5,9.5M19.5,3.5L19.5,7.5M20.5,0.5L20.5,9.5M18.5,1.5L20.5,1.5M18.5,9.5L20.5,9.5" fill="none" stroke="#ffffff" stroke-width="1" stroke-linecap="butt"/>
<path transform="translate(543,451) rotate(-90)" d="M0.5,1.5L0.5,6.5M1.5,1.5L1.5,7.5M2.5,1.5L2.5,7.5M4.5,2.5L4.5,7.5M0.5,7.5L3.5,7.5M1.5,1.5L3.5,1.5M1.5,0.5L2.5,2.5M6.5,1.5L6.5,6.5M7.5,1.5L7.5,7.5M8.5,1.5L8.5,6.5M10.5,0.5L10.5,9.5M7.5,3.5L9.5,3.5M7.5,7.5L9.5,7.5M7.5,1.5L10.5,1.5M8.5,4.5L10.5,9.5M12.5,0.5L12.5,7.5M14.5,0.5L14.5,9.5M12.5,7.5L14.5,7.5M13.5,5.5L15.5,5.5M13.5,0.5L14.5,2.5M17.5,0.5L17.5,9.5M19.5,3.5L19.5,7.5M21.5,0.5L21.5,9.5M18.5,1.5L21.5,1.5M18.5,9.5L21.5,9.5" fill="none" stroke="#ffffff" stroke-width="1" stroke-linecap="butt"/>
<path transform="translate(801,459) rotate(-90)" d="M0.5,1.5L0.5,6.5M1.5,1.5L1.5,7.5M2.5,1.5L2.5,7.5M4.5,2.5L4.5,7.5M0.5,7.5L3.5,7.5M1.5,1.5L3.5,1.5M1.5,0.5L2.5,2.5M6.5,1.5L6.5,6.5M7.5,1.5L7.5,7.5M8.5,1.5L8.5,6.5M10.5,0.5L10.5,9.5M7.5,3.5L9.5,3.5M7.5,7.5L9.5,7.5M7.5,1.5L10.5,1.5M8.5,4.5L10.5,9.5M12.5,0.5L12.5,7.5M14.5,0.5L14.5,9.5M12.5,7.5L14.5,7.5M13.5,5.5L15.5,5.5M13.5,0.5L14.5,2.5M17.5,0.5L17.5,9.5M19.5,3.5L19.5,7.5M21.5,0.5L21.5,9.5M18.5,1.5L21.5,1.5M18.5,9.5L21.5,9.5" fill="none" stroke="#ffffff" stroke-width="1" stroke-linecap="butt"/>
<path transform="translate(522,337)" d="M0.5,2.5L0.5,6.5M1.5,2.5L1.5,8.5M2.5,1.5L2.5,8.5M3.5,1.5L3.5,7.5M1.5,4.5L2.5,4.5M1.5,8.5L2.5,8.5M1.5,2.5L2.5,2.5M1.5,0.5L2.5,2.5M5.5,1.5L5.5,6.5M6.5,1.5L6.5,6.5M7.5,0.5L7.5,7.5M9.5,0.5L9.5,8.5M6.5,1.5L8.5,1.5M5.5,4.5L9.5,4.5M5.5,8.5L9.5,8.5M6.5,0.5L7.5,2.5M11.5,3.5L11.5,5.5M12.5,3.5L12.5,8.5M13.5,0.5L13.5,8.5M14.5,0.5L14.5,6.5M12.5,1.5L13.5,1.5M12.5,8.5L14.5,8.5M13.5,4.5L11.5,8.5M16.5,2.5L16.5,5.5M17.5,2.5L17.5,7.5M18.5,0.5L18.5,8.5M18.5,0.5L18.5,6.5M19.5,1.5L19.5,7.5M17.5,6.5L19.5,6.5M16.5,2.5L18.5,2.5M17.5,6.5L18.5,6.5M18.5,4.5L16.5,8.5M21.5,0.5L21.5,8.5M22.5,0.5L22.5,6.5M23.5,1.5L23.5,5.5M24.5,0.5L24.5,7.5M22.5,1.5L23.5,1.5M22.5,6.5L24.5,6.5M21.5,4.5L23.5,4.5M23.5,4.5L24.5,8.5" fill="none" stroke="#ffffff" stroke-width="1" stroke-linecap="butt"/>
<path transform="translate(232,372)" d="M0.5,0.5L0.5,9.5M2.5,2.5L2.5,7.5M2.5,2.5L2.5,8.5M3.5,0.5L3.5,9.5M1.5,3.5L3.5,3.5M0.5,5.5L2.5,5.5M5.5,0.5L5.5,9.5M6.5,0.5L6.5,6.5M9.5,0.5L9.5,9.5M5.5,5.5L8.5,5.5M6.5,9.5L8.5,9.5M11.5,1.5L11.5,6.5M12.5,1.5L12.5,7.5M13.5,1.5L13.5,7.5M14.5,0.5L14.5,8.5M11.5,9.5L13.5,9.5M12.5,5.5L13.5,5.5M12.5,7.5L13.5,7.5M12.5,0.5L13.5,2.5M16.5,0.5L16.5,9.5M17.5,0.5L17.5,6.5M18.5,1.5L18.5,7.5M18.5,1.5L18.5,7.5M19.5,1.5L19.5,8.5M17.5,9.5L19.5,9.5M16.5,5.5L18.5,5.5M17.5,9.5L19.5,9.5M17.5,0.5L18.5,2.5M21.5,0.5L21.5,9.5M23.5,0.5L23.5,9.5M24.5,0.5L24.5,9.5M21.5,9.5L23.5,9.5M22.5,5.5L23.5,5.5M22.5,7.5L24.5,7.5M23.5,4.5L21.5,9.5" fill="none" stroke="#ffffff" stroke-width="1" stroke-linecap="butt"/>
<path transform="translate(216,387)" d="M0.5,0.5L0.5,9.5M1.5,0.5L1.5,6.5M3.5,0.5L3.5,9.5M1.5,3.5L2.5,3.5M1.5,5.5L3.5,5.5M1.5,1.5L2.5,1.5M5.5,2.5L5.5,9.5M7.5,2.5L7.5,8.5M7.5,2.5L7.5,8.5M8.5,0.5L8.5,7.5M5.5,5.5L7.5,5.5M6.5,7.5L7.5,7.5M6.5,3.5L8.5,3.5M6.5,0.5L7.5,2.5M10.5,0.5L10.5,9.5M11.5,1.5L11.5,8.5M12.5,1.5L12.5,7.5M12.5,0.5L12.5,9.5M10.5,5.5L12.5,5.5M11.5,3.5L12.5,3.5M10.5,1.5L12.5,1.5M11.5,4.5L12.5,9.5M14.5,2.5L14.5,9.5M15.5,2.5L15.5,8.5M16.5,1.5L16.5,8.5M16.5,1.5L16.5,7.5M17.5,0.5L17.5,9.5M15.5,7.5L16.5,7.5M15.5,1.5L17.5,1.5M16.5,4.5L17.5,9.5M20.5,0.5L20.5,9.5M19.5,2.5L20.5,0.5M21.5,1.5L21.5,0.5L22.5,0.5L22.5,4.5L21.5,9.5L22.5,9.5M25.5,0.5L25.5,9.5L24.5,9.5L24.5,6.5M27.5,1.5L27.5,0.5L28.5,0.5L28.5,4.5L27.5,9.5L28.5,9.5M29.5,0.5L30.5,0.5L30.5,9.5L29.5,9.5L29.5,0.5M33.5,0.5L33.5,9.5M32.5,2.5L33.5,0.5" fill="none" stroke="#ffffff" stroke-width="1" stroke-linecap="butt"/>
<path transform="translate(648,179)" d="M0.5,0.5L0.5,9.5M1.5,0.5L1.5,6.5M2.5,0.5L2.5,9.5M2.5,0.5L2.5,6.5M3.5,3.5L3.5,8.5M1.5,9.5L2.5,9.5M0.5,7.5L2.5,7.5M1.5,1.5L2.5,1.5M1.5,0.5L2.5,2.5M5.5,2.5L5.5,6.5M6.5,2.5L6.5,8.5M7.5,0.5L7.5,9.5M7.5,0.5L7.5,6.5M8.5,1.5L8.5,7.5M6.5,7.5L8.5,7.5M5.5,3.5L7.5,3.5M6.5,7.5L7.5,7.5M7.5,4.5L5.5,9.5M10.5,0.5L10.5,9.5M11.5,0.5L11.5,6.5M12.5,1.5L12.5,6.5M14.5,0.5L14.5,8.5M11.5,1.5L13.5,1.5M12.5,7.5L14.5,7.5M10.5,5.5L12.5,5.5M12.5,4.5L14.5,9.5M16.5,0.5L16.5,9.5M18.5,1.5L18.5,8.5M18.5,1.5L18.5,7.5M19.5,0.5L19.5,9.5M16.5,5.5L19.5,5.5M17.5,3.5L19.5,3.5M16.5,1.5L18.5,1.5M18.5,4.5L19.5,9.5M21.5,1.5L21.5,9.5M22.5,1.5L22.5,8.5M23.5,0.5L23.5,9.5M23.5,0.5L23.5,6.5M24.5,3.5L24.5,8.5M21.5,7.5L23.5,7.5M21.5,1.5L23.5,1.5M22.5,5.5L23.5,5.5M22.5,0.5L23.5,2.5" fill="none" stroke="#ffffff" stroke-width="1" stroke-linecap="butt"/>
<path transform="translate(648,252)" d="M0.5,0.5L0.5,9.5M1.5,0.5L1.5,6.5M2.5,0.5L2.5,9.5M2.5,0.5L2.5,6.5M3.5,3.5L3.5,8.5M1.5,9.5L2.5,9.5M0.5,7.5L2.5,7.5M1.5,1.5L2.5,1.5M1.5,0.5L2.5,2.5M5.5,2.5L5.5,6.5M6.5,2.5L6.5,8.5M7.5,0.5L7.5,9.5M7.5,0.5L7.5,6.5M8.5,1.5L8.5,7.5M6.5,7.5L8.5,7.5M5.5,3.5L7.5,3.5M6.5,7.5L7.5,7.5M7.5,4.5L5.5,9.5M10.5,0.5L10.5,9.5M11.5,0.5L11.5,6.5M12.5,1.5L12.5,6.5M14.5,0.5L14.5,8.5M11.5,1.5L13.5,1.5M12.5,7.5L14.5,7.5M10.5,5.5L12.5,5.5M12.5,4.5L14.5,9.5M16.5,0.5L16.5,9.5M18.5,1.5L18.5,8.5M18.5,1.5L18.5,7.5M19.5,0.5L19.5,9.5M16.5,5.5L19.5,5.5M17.5,3.5L19.5,3.5M16.5,1.5L18.5,1.5M18.5,4.5L19.5,9.5M21.5,1.5L21.5,9.5M22.5,1.5L22.5,8.5M23.5,0.5L23.5,9.5M23.5,0.5L23.5,6.5M24.5,3.5L24.5,8.5M21.5,7.5L23.5,7.5M21.5,1.5L23.5,1.5M22.5,5.5L23.5,5.5M22.5,0.5L23.5,2.5" fill="none" stroke="#ffffff" stroke-width="1" stroke-linecap="butt"/>
<path transform="translate(662,202)" d="M0.5,2.5L0.5,8.5M1.5,2.5L1.5,8.5M2.5,2.5L2.5,8.5M3.5,1.5L3.5,6.5M0.5,9.5L3.5,9.5M1.5,5.5L3.5,5.5M0.5,9.5L2.5,9.5M1.5,0.5L2.5,2.5M5.5,0.5L5.5,9.5M9.5,2.5L9.5,7.5M5.5,9.5L7.5,9.5M5.5,5.5L8.5,5.5M11.5,2.5L11.5,8.5M13.5,2.5L13.5,6.5M14.5,1.5L14.5,9.5M12.5,9.5L13.5,9.5M12.5,3.5L14.5,3.5M11.5,7.5L13.5,7.5M13.5,4.5L14.5,9.5M16.5,1.5L16.5,6.5M17.5,1.5L17.5,7.5M18.5,1.5L18.5,6.5M19.5,1.5L19.5,8.5M20.5,2.5L20.5,7.5M17.5,1.5L19.5,1.5M18.5,3.5L19.5,3.5M18.5,4.5L16.5,9.5M22.5,0.5L22.5,9.5M23.5,0.5L23.5,6.5M25.5,0.5L25.5,9.5M23.5,3.5L25.5,3.5M23.5,7.5L24.5,7.5M23.5,5.5L24.5,5.5M24.5,4.5L25.5,9.5M27.5,1.5L27.5,6.5M28.5,1.5L28.5,7.5M29.5,1.5L29.5,6.5M30.5,1.5L30.5,8.5M31.5,2.5L31.5,7.5M28.5,1.5L30.5,1.5M29.5,3.5L30.5,3.5M29.5,4.5L27.5,9.5" fill="none" stroke="#ffffff" stroke-width="1" stroke-linecap="butt"/>
<path transform="translate(662,270)" d="M0.5,2.5L0.5,7.5M1.5,2.5L1.5,7.5M2.5,2.5L2.5,7.5M3.5,1.5L3.5,5.5M0.5,8.5L3.5,8.5M1.5,4.5L3.5,4.5M0.5,8.5L2.5,8.5M1.5,0.5L2.5,2.5M5.5,0.5L5.5,8.5M9.5,2.5L9.5,6.5M5.5,8.5L7.5,8.5M5.5,4.5L8.5,4.5M11.5,2.5L11.5,7.5M13.5,2.5L13.5,5.5M14.5,1.5L14.5,8.5M12.5,8.5L13.5,8.5M12.5,2.5L14.5,2.5M11.5,6.5L13.5,6.5M13.5,4.5L14.5,8.5M16.5,1.5L16.5,5.5M17.5,1.5L17.5,6.5M18.5,1.5L18.5,5.5M19.5,1.5L19.5,7.5M20.5,2.5L20.5,6.5M17.5,1.5L19.5,1.5M18.5,2.5L19.5,2.5M18.5,4.5L16.5,8.5M22.5,0.5L22.5,8.5M23.5,0.5L23.5,6.5M25.5,0.5L25.5,8.5M23.5,2.5L25.5,2.5M23.5,6.5L24.5,6.5M23.5,4.5L24.5,4.5M24.5,4.5L25.5,8.5M27.5,1.5L27.5,5.5M28.5,1.5L28.5,6.5M29.5,1.5L29.5,5.5M29.5,1.5L29.5,7.5M30.5,2.5L30.5,6.5M28.5,1.5L29.5,1.5M28.5,2.5L29.5,2.5M29.5,4.5L27.5,8.5" fill="none" stroke="#ffffff" stroke-width="1" stroke-linecap="butt"/>
<path transform="translate(662,217)" d="M0.5,1.5L0.5,0.5L1.5,0.5L1.5,4.5L0.5,8.5L1.5,8.5M3.5,1.5L3.5,0.5L4.5,0.5L4.5,4.5L3.5,8.5L4.5,8.5M6.5,0.5L7.5,0.5L7.5,8.5L6.5,8.5L6.5,0.5M14.5,0.5L14.5,8.5M15.5,0.5L15.5,6.5M16.5,0.5L16.5,8.5M17.5,0.5L17.5,6.5M15.5,8.5L17.5,8.5M14.5,2.5L17.5,2.5M15.5,4.5L18.5,4.5M20.5,0.5L21.5,0.5L21.5,8.5L20.5,8.5M20.5,4.5L21.5,4.5M23.5,0.5L24.5,0.5L24.5,8.5L23.5,8.5L23.5,0.5M26.5,0.5L27.5,0.5L27.5,8.5L26.5,8.5L26.5,0.5M34.5,1.5L34.5,7.5M36.5,2.5L36.5,7.5M37.5,2.5L37.5,7.5M38.5,0.5L38.5,6.5M34.5,2.5L37.5,2.5M35.5,4.5L37.5,4.5M35.5,1.5L37.5,1.5M36.5,4.5L34.5,8.5" fill="none" stroke="#ffffff" stroke-width="1" stroke-linecap="butt"/>
<path transform="translate(662,284)" d="M0.5,1.5L0.5,0.5L1.5,0.5L1.5,4.5L0.5,9.5L1.5,9.5M3.5,1.5L3.5,0.5L4.5,0.5L4.5,4.5L3.5,9.5L4.5,9.5M6.5,0.5L7.5,0.5L7.5,9.5L6.5,9.5L6.5,0.5M14.5,0.5L14.5,9.5M15.5,0.5L15.5,6.5M16.5,0.5L16.5,9.5M17.5,0.5L17.5,6.5M15.5,9.5L17.5,9.5M14.5,3.5L17.5,3.5M15.5,5.5L18.5,5.5M20.5,0.5L21.5,0.5L21.5,9.5L20.5,9.5M20.5,4.5L21.5,4.5M23.5,0.5L24.5,0.5L24.5,9.5L23.5,9.5L23.5,0.5M26.5,0.5L27.5,0.5L27.5,9.5L26.5,9.5L26.5,0.5M34.5,1.5L34.5,8.5M36.5,2.5L36.5,8.5M37.5,2.5L37.5,8.5M38.5,0.5L38.5,7.5M34.5,3.5L37.5,3.5M35.5,5.5L37.5,5.5M35.5,1.5L37.5,1.5M36.5,4.5L34.5,9.5" fill="none" stroke="#ffffff" stroke-width="1" stroke-linecap="butt"/>
<path transform="translate(778,208)" d="M0.5,2.5L0.5,7.5M1.5,2.5L1.5,9.5M2.5,0.5L2.5,10.5M2.5,0.5L2.5,7.5M3.5,1.5L3.5,8.5M1.5,7.5L3.5,7.5M0.5,3.5L2.5,3.5M1.5,7.5L2.5,7.5M2.5,5.5L0.5,10.5M5.5,0.5L5.5,10.5M6.5,0.5L6.5,7.5M7.5,1.5L7.5,7.5M8.5,1.5L8.5,9.5M6.5,1.5L7.5,1.5M6.5,7.5L8.5,7.5M5.5,5.5L7.5,5.5M7.5,4.5L8.5,10.5M10.5,1.5L10.5,8.5M11.5,1.5L11.5,8.5M12.5,3.5L12.5,10.5M12.5,3.5L12.5,10.5M13.5,3.5L13.5,7.5M10.5,1.5L12.5,1.5M11.5,7.5L13.5,7.5M10.5,5.5L13.5,5.5M11.5,0.5L12.5,2.5" fill="none" stroke="#ffffff" stroke-width="1" stroke-linecap="butt"/>
<path d="M821.5,214.5L827,214.5M824.5,214.5L824.5,223M825.5,216.5L827.5,218.5" fill="none" stroke="#fff" stroke-width="1"/>
<path transform="translate(782,255)" d="M0.5,2.5L0.5,7.5M2.5,0.5L2.5,7.5M3.5,0.5L3.5,9.5M1.5,5.5L3.5,5.5M0.5,1.5L3.5,1.5M1.5,9.5L3.5,9.5M2.5,4.5L0.5,9.5M5.5,1.5L5.5,9.5M6.5,1.5L6.5,8.5M7.5,0.5L7.5,9.5M7.5,0.5L7.5,6.5M8.5,2.5L8.5,6.5M5.5,7.5L8.5,7.5M6.5,1.5L8.5,1.5M10.5,0.5L10.5,9.5M14.5,0.5L14.5,9.5M11.5,1.5L13.5,1.5M11.5,3.5L14.5,3.5M11.5,5.5L14.5,5.5M12.5,4.5L10.5,9.5M16.5,0.5L16.5,9.5M17.5,0.5L17.5,6.5M18.5,0.5L18.5,9.5M19.5,0.5L19.5,9.5M16.5,3.5L18.5,3.5M17.5,9.5L18.5,9.5M18.5,4.5L16.5,9.5" fill="none" stroke="#ffffff" stroke-width="1" stroke-linecap="butt"/>
<path transform="translate(886,256)" d="M0.5,3.5L0.5,7.5M1.5,3.5L1.5,10.5M2.5,2.5L2.5,8.5M2.5,2.5L2.5,9.5M3.5,0.5L3.5,10.5M1.5,5.5L3.5,5.5M0.5,1.5L2.5,1.5M1.5,5.5L3.5,5.5M2.5,4.5L3.5,10.5M5.5,0.5L5.5,10.5M9.5,0.5L9.5,10.5M6.5,1.5L8.5,1.5M6.5,3.5L9.5,3.5M6.5,5.5L9.5,5.5M7.5,5.5L5.5,10.5M11.5,0.5L11.5,10.5M12.5,0.5L12.5,7.5M13.5,0.5L13.5,8.5M13.5,0.5L13.5,7.5M14.5,0.5L14.5,7.5M12.5,5.5L13.5,5.5M11.5,7.5L13.5,7.5M16.5,3.5L16.5,9.5M17.5,3.5L17.5,10.5M18.5,3.5L18.5,9.5M20.5,1.5L20.5,8.5M17.5,10.5L18.5,10.5M16.5,3.5L19.5,3.5M18.5,5.5L16.5,10.5M22.5,3.5L22.5,8.5M24.5,1.5L24.5,8.5M24.5,1.5L24.5,8.5M25.5,0.5L25.5,7.5M22.5,7.5L25.5,7.5M23.5,5.5L25.5,5.5M22.5,1.5L24.5,1.5" fill="none" stroke="#ffffff" stroke-width="1" stroke-linecap="butt"/>
<path transform="translate(756,210) rotate(-90)" d="M0.5,0.5L0.5,5.5L1.5,5.5M3.5,5.5L3.5,0.5L4.5,3.5L5.5,0.5L5.5,5.5M8.5,0.5L8.5,5.5M7.5,1.5L8.5,0.5M11.5,0.5L10.5,0.5L10.5,2.5L11.5,2.5L11.5,5.5L10.5,5.5M13.5,0.5L14.5,0.5L15.5,0.5L15.5,2.5L13.5,5.5L15.5,5.5M17.5,0.5L18.5,0.5L18.5,5.5L17.5,5.5M17.5,2.5L18.5,2.5" fill="none" stroke="#ffffff" stroke-width="1" stroke-linecap="butt"/>
<path transform="translate(756,282) rotate(-90)" d="M0.5,0.5L0.5,5.5L2.5,5.5M4.5,5.5L4.5,0.5L4.5,3.5L5.5,0.5L5.5,5.5M8.5,0.5L8.5,5.5M7.5,1.5L8.5,0.5M10.5,0.5L11.5,0.5L12.5,0.5L12.5,2.5L10.5,5.5L12.5,5.5M14.5,0.5L15.5,0.5L15.5,2.5L14.5,5.5L15.5,5.5M18.5,0.5L18.5,5.5M17.5,1.5L18.5,0.5" fill="none" stroke="#ffffff" stroke-width="1" stroke-linecap="butt"/>
<path transform="translate(871,292)" d="M1.5,0.5L0.5,0.5L0.5,7.5M0.5,4.5L1.5,4.5M3.5,7.5L3.5,0.5L3.5,4.5L4.5,0.5L4.5,7.5M5.5,0.5L5.5,7.5M7.5,0.5L7.5,7.5M8.5,2.5L8.5,6.5M5.5,5.5L7.5,5.5M6.5,7.5L8.5,7.5M5.5,2.5L8.5,2.5M7.5,4.5L5.5,7.5M11.5,0.5L11.5,7.5M10.5,2.5L11.5,0.5M12.5,1.5L12.5,0.5L13.5,0.5L13.5,3.5L12.5,7.5L13.5,7.5M14.5,1.5L14.5,0.5L15.5,0.5L15.5,3.5L14.5,7.5L15.5,7.5M18.5,0.5L18.5,7.5M17.5,2.5L18.5,0.5" fill="none" stroke="#ffffff" stroke-width="1" stroke-linecap="butt"/>
<path transform="translate(763,310)" d="M0.5,0.5L0.5,6.5L1.5,6.5L1.5,5.5L1.5,4.5L1.5,3.5L0.5,3.5M0.5,0.5L1.5,0.5L1.5,1.5L1.5,2.5L1.5,3.5M3.5,0.5L3.5,3.5L4.5,0.5M3.5,3.5L3.5,6.5M6.5,0.5L7.5,0.5L7.5,6.5L6.5,6.5L6.5,0.5M9.5,0.5L8.5,0.5L8.5,6.5L9.5,6.5L9.5,3.5L8.5,3.5M11.5,0.5L11.5,6.5M11.5,2.5L11.5,0.5M13.5,0.5L14.5,0.5L14.5,6.5L13.5,6.5L13.5,0.5" fill="none" stroke="#ffffff" stroke-width="1" stroke-linecap="butt"/>
<path transform="translate(784,145)" d="M1.5,1.5L1.5,0.5L0.5,0.5L0.5,2.5L0.5,5.5L0.5,7.5L1.5,7.5L1.5,6.5M3.5,0.5L3.5,7.5M3.5,2.5L3.5,0.5M6.5,0.5L5.5,0.5L5.5,3.5L6.5,3.5L6.5,7.5L5.5,7.5M8.5,1.5L8.5,0.5L9.5,0.5L9.5,3.5L8.5,7.5L9.5,7.5M11.5,0.5L11.5,7.5M11.5,2.5L11.5,0.5" fill="none" stroke="#ffffff" stroke-width="1" stroke-linecap="butt"/>
<path transform="translate(705,320)" d="M0.5,0.5L0.5,6.5M1.5,0.5L1.5,6.5M2.5,1.5L2.5,6.5M3.5,1.5L3.5,7.5M4.5,0.5L4.5,8.5M0.5,2.5L3.5,2.5M0.5,1.5L3.5,1.5M1.5,6.5L3.5,6.5M1.5,0.5L2.5,2.5M6.5,0.5L6.5,8.5M7.5,0.5L7.5,6.5M8.5,0.5L8.5,6.5M7.5,8.5L8.5,8.5M7.5,2.5L8.5,2.5M7.5,0.5L8.5,2.5M11.5,0.5L11.5,8.5M12.5,0.5L12.5,6.5M13.5,1.5L13.5,5.5M14.5,1.5L14.5,7.5M12.5,4.5L13.5,4.5M12.5,8.5L13.5,8.5M11.5,1.5L13.5,1.5M16.5,0.5L16.5,8.5M18.5,0.5L18.5,8.5M20.5,0.5L20.5,8.5M16.5,8.5L19.5,8.5M17.5,4.5L19.5,4.5M17.5,6.5L19.5,6.5M18.5,4.5L16.5,8.5M22.5,1.5L22.5,6.5M23.5,1.5L23.5,7.5M24.5,0.5L24.5,8.5M26.5,2.5L26.5,7.5M23.5,6.5L26.5,6.5M22.5,1.5L25.5,1.5M24.5,4.5L26.5,8.5M28.5,3.5L28.5,8.5M29.5,3.5L29.5,8.5M30.5,0.5L30.5,8.5M31.5,1.5L31.5,6.5M29.5,8.5L30.5,8.5M29.5,4.5L30.5,4.5M29.5,0.5L30.5,2.5" fill="none" stroke="#ffffff" stroke-width="1" stroke-linecap="butt"/>
<path transform="translate(954,320)" d="M0.5,0.5L0.5,7.5M1.5,0.5L1.5,7.5M2.5,1.5L2.5,7.5M2.5,1.5L2.5,8.5M3.5,0.5L3.5,9.5M0.5,3.5L3.5,3.5M0.5,1.5L2.5,1.5M1.5,7.5L2.5,7.5M1.5,0.5L2.5,2.5M5.5,0.5L5.5,9.5M6.5,0.5L6.5,6.5M7.5,0.5L7.5,6.5M6.5,9.5L8.5,9.5M7.5,3L7.5,4M6.5,0.5L7.5,2.5M11.5,0.5L11.5,9.5M12.5,0.5L12.5,6.5M13.5,1.5L13.5,6.5M14.5,2.5L14.5,8.5M12.5,5.5L13.5,5.5M12.5,9.5L13.5,9.5M11.5,1.5L13.5,1.5M16.5,0.5L16.5,9.5M18.5,0.5L18.5,9.5M20.5,0.5L20.5,9.5M16.5,9.5L19.5,9.5M17.5,5.5L19.5,5.5M17.5,7.5L19.5,7.5M18.5,4.5L16.5,9.5M22.5,1.5L22.5,6.5M23.5,1.5L23.5,8.5M24.5,0.5L24.5,9.5M25.5,2.5L25.5,8.5M23.5,7.5L25.5,7.5M22.5,1.5L24.5,1.5M24.5,4.5L25.5,9.5M27.5,3.5L27.5,9.5M28.5,3.5L28.5,9.5M29.5,0.5L29.5,9.5M30.5,1.5L30.5,7.5M28.5,9.5L29.5,9.5M28.5,5.5L29.5,5.5M28.5,0.5L29.5,2.5" fill="none" stroke="#ffffff" stroke-width="1" stroke-linecap="butt"/>
<path transform="translate(772,356)" d="M0.5,2.5L0.5,9.5M2.5,0.5L2.5,9.5M2.5,0.5L2.5,6.5M3.5,1.5L3.5,7.5M0.5,9.5L2.5,9.5M0.5,5.5L3.5,5.5M0.5,7.5L3.5,7.5M1.5,0.5L2.5,2.5M5.5,0.5L5.5,7.5M6.5,0.5L6.5,6.5M7.5,0.5L7.5,7.5M8.5,0.5L8.5,6.5M9.5,3.5L9.5,8.5M6.5,1.5L8.5,1.5M6.5,7.5L9.5,7.5M11.5,1.5L11.5,9.5M13.5,0.5L13.5,9.5M14.5,0.5L14.5,9.5M12.5,3.5L14.5,3.5M11.5,5.5L14.5,5.5M12.5,1.5L14.5,1.5M13.5,4.5L14.5,9.5M16.5,2.5L16.5,8.5M17.5,2.5L17.5,9.5M18.5,0.5L18.5,9.5M19.5,0.5L19.5,6.5M17.5,1.5L19.5,1.5M17.5,3.5L20.5,3.5M18.5,4.5L16.5,9.5M22.5,0.5L22.5,9.5M24.5,0.5L24.5,7.5M25.5,0.5L25.5,8.5M23.5,1.5L24.5,1.5M22.5,5.5L25.5,5.5M24.5,4.5L22.5,9.5M27.5,1.5L27.5,8.5M28.5,1.5L28.5,8.5M30.5,3.5L30.5,9.5M28.5,5.5L29.5,5.5M28.5,3.5L29.5,3.5M27.5,9.5L30.5,9.5M29.5,4.5L30.5,9.5M32.5,1.5L32.5,6.5M33.5,1.5L33.5,7.5M34.5,2.5L34.5,6.5M35.5,2.5L35.5,8.5M36.5,3.5L36.5,6.5M33.5,7.5L35.5,7.5M34.5,1.5L36.5,1.5M33.5,1.5L35.5,1.5M33.5,0.5L34.5,2.5" fill="none" stroke="#ffffff" stroke-width="1" stroke-linecap="butt"/>
<path transform="translate(814,356)" d="M0.5,2.5L0.5,6.5M2.5,2.5L2.5,6.5M2.5,2.5L2.5,8.5M3.5,0.5L3.5,9.5M1.5,3.5L2.5,3.5M0.5,7.5L2.5,7.5M2.5,4.5L0.5,9.5M5.5,0.5L5.5,9.5M6.5,0.5L6.5,6.5M7.5,0.5L7.5,9.5M7.5,0.5L7.5,6.5M8.5,1.5L8.5,8.5M5.5,5.5L7.5,5.5M6.5,1.5L7.5,1.5M6.5,9.5L8.5,9.5M10.5,0.5L11.5,0.5L11.5,9.5L10.5,9.5M10.5,4.5L11.5,4.5M13.5,0.5L14.5,0.5L14.5,9.5L13.5,9.5L13.5,0.5M15.5,0.5L16.5,0.5L16.5,9.5L15.5,9.5L15.5,0.5M18.5,4.5L19.5,9.5M19.5,4.5L18.5,9.5M21.5,0.5L22.5,0.5L22.5,9.5L21.5,9.5M21.5,4.5L22.5,4.5M24.5,0.5L25.5,0.5L25.5,9.5L24.5,9.5L24.5,0.5M26.5,0.5L27.5,0.5L27.5,9.5L26.5,9.5L26.5,0.5" fill="none" stroke="#ffffff" stroke-width="1" stroke-linecap="butt"/>
<path transform="translate(855,356)" d="M0.5,2.5L0.5,6.5M1.5,2.5L1.5,8.5M2.5,0.5L2.5,9.5M3.5,0.5L3.5,6.5M4.5,1.5L4.5,7.5M2.5,7.5L4.5,7.5M0.5,3.5L3.5,3.5M1.5,7.5L3.5,7.5M2.5,4.5L0.5,9.5M6.5,1.5L6.5,7.5M7.5,1.5L7.5,8.5M8.5,0.5L8.5,9.5M10.5,3.5L10.5,7.5M7.5,9.5L9.5,9.5M7.5,7.5L9.5,7.5M7.5,0.5L8.5,2.5M12.5,2.5L12.5,7.5M13.5,2.5L13.5,9.5M14.5,1.5L14.5,9.5M15.5,1.5L15.5,8.5M16.5,2.5L16.5,8.5M12.5,1.5L15.5,1.5M13.5,3.5L16.5,3.5M13.5,5.5L15.5,5.5M18.5,3.5L18.5,6.5M19.5,3.5L19.5,9.5M20.5,1.5L20.5,7.5M21.5,1.5L21.5,9.5M19.5,1.5L20.5,1.5M19.5,5.5L21.5,5.5M18.5,9.5L20.5,9.5M23.5,0.5L23.5,9.5M25.5,0.5L25.5,7.5M27.5,0.5L27.5,8.5M24.5,1.5L26.5,1.5M23.5,5.5L26.5,5.5M25.5,4.5L23.5,9.5" fill="none" stroke="#ffffff" stroke-width="1" stroke-linecap="butt"/>
<path transform="translate(904,356)" d="M0.5,2.5L0.5,8.5M1.5,2.5L1.5,8.5M2.5,2.5L2.5,8.5M3.5,1.5L3.5,6.5M0.5,9.5L3.5,9.5M1.5,5.5L3.5,5.5M0.5,9.5L2.5,9.5M1.5,0.5L2.5,2.5M5.5,0.5L5.5,9.5M9.5,2.5L9.5,7.5M5.5,9.5L7.5,9.5M5.5,5.5L8.5,5.5M11.5,2.5L11.5,8.5M13.5,2.5L13.5,6.5M14.5,1.5L14.5,9.5M12.5,9.5L13.5,9.5M12.5,3.5L14.5,3.5M11.5,7.5L13.5,7.5M13.5,4.5L14.5,9.5M16.5,1.5L16.5,6.5M17.5,1.5L17.5,7.5M18.5,1.5L18.5,6.5M19.5,1.5L19.5,8.5M20.5,2.5L20.5,7.5M17.5,1.5L19.5,1.5M18.5,3.5L19.5,3.5M18.5,4.5L16.5,9.5M22.5,0.5L22.5,9.5M23.5,0.5L23.5,6.5M25.5,0.5L25.5,9.5M23.5,3.5L25.5,3.5M23.5,7.5L24.5,7.5M23.5,5.5L24.5,5.5M24.5,4.5L25.5,9.5M27.5,1.5L27.5,6.5M28.5,1.5L28.5,7.5M29.5,1.5L29.5,6.5M29.5,1.5L29.5,8.5M30.5,2.5L30.5,7.5M28.5,1.5L29.5,1.5M28.5,3.5L29.5,3.5M29.5,4.5L27.5,9.5" fill="none" stroke="#ffffff" stroke-width="1" stroke-linecap="butt"/>
<path transform="translate(850,370)" d="M0.5,0.5L0.5,9.5M1.5,0.5L1.5,6.5M2.5,1.5L2.5,7.5M3.5,1.5L3.5,7.5M0.5,7.5L2.5,7.5M1.5,1.5L2.5,1.5M5.5,0.5L5.5,9.5M6.5,0.5L6.5,6.5M7.5,0.5L7.5,9.5M9.5,1.5L9.5,9.5M5.5,7.5L8.5,7.5M6.5,9.5L9.5,9.5M6.5,5.5L8.5,5.5M7.5,4.5L9.5,9.5M11.5,2.5L11.5,8.5M12.5,2.5L12.5,8.5M13.5,0.5L13.5,9.5M13.5,0.5L13.5,6.5M14.5,3.5L14.5,8.5M11.5,7.5L14.5,7.5M12.5,1.5L14.5,1.5M11.5,1.5L13.5,1.5M16.5,0.5L16.5,9.5M18.5,0.5L18.5,9.5M19.5,2.5L19.5,8.5M16.5,7.5L18.5,7.5M17.5,9.5L19.5,9.5M16.5,3.5L19.5,3.5M18.5,4.5L16.5,9.5M21.5,0.5L21.5,9.5M23.5,0.5L23.5,9.5M24.5,0.5L24.5,6.5M21.5,9.5L23.5,9.5M22.5,3.5L24.5,3.5M21.5,7.5L23.5,7.5M23.5,4.5L21.5,9.5M26.5,0.5L26.5,9.5M30.5,2.5L30.5,7.5M27.5,7.5L29.5,7.5M27.5,1.5L28.5,1.5M28.5,4.5L30.5,9.5M32.5,1.5L32.5,8.5M33.5,1.5L33.5,7.5M35.5,3.5L35.5,7.5M32.5,5.5L34.5,5.5M33.5,3.5L34.5,3.5" fill="none" stroke="#ffffff" stroke-width="1" stroke-linecap="butt"/>
<path transform="translate(896,370)" d="M0.5,1.5L0.5,0.5L1.5,0.5L1.5,4.5L0.5,9.5L1.5,9.5M3.5,1.5L3.5,0.5L4.5,0.5L4.5,4.5L3.5,9.5L4.5,9.5M6.5,0.5L7.5,0.5L7.5,9.5L6.5,9.5L6.5,0.5M14.5,0.5L14.5,9.5M15.5,0.5L15.5,6.5M16.5,0.5L16.5,9.5M17.5,0.5L17.5,6.5M15.5,9.5L17.5,9.5M14.5,3.5L17.5,3.5M15.5,5.5L18.5,5.5M20.5,0.5L21.5,0.5L21.5,9.5L20.5,9.5M20.5,4.5L21.5,4.5M23.5,0.5L24.5,0.5L24.5,9.5L23.5,9.5L23.5,0.5M26.5,0.5L27.5,0.5L27.5,9.5L26.5,9.5L26.5,0.5M33.5,1.5L33.5,8.5M35.5,2.5L35.5,8.5M36.5,2.5L36.5,8.5M37.5,0.5L37.5,7.5M33.5,3.5L36.5,3.5M34.5,5.5L36.5,5.5M34.5,1.5L36.5,1.5M35.5,4.5L33.5,9.5" fill="none" stroke="#ffffff" stroke-width="1" stroke-linecap="butt"/>
<path transform="translate(953,370)" d="M0.5,2.5L0.5,9.5M1.5,2.5L1.5,8.5M2.5,1.5L2.5,8.5M3.5,1.5L3.5,7.5M4.5,0.5L4.5,9.5M1.5,7.5L3.5,7.5M1.5,1.5L4.5,1.5M2.5,4.5L4.5,9.5M6.5,0.5L7.5,0.5L7.5,9.5L6.5,9.5L6.5,0.5M10.5,0.5L9.5,0.5L9.5,4.5L10.5,4.5L10.5,9.5L9.5,9.5M14.5,0.5L14.5,9.5L12.5,9.5L12.5,6.5M16.5,0.5L16.5,9.5M16.5,2.5L16.5,0.5M19.5,0.5L19.5,9.5M18.5,2.5L19.5,0.5M21.5,5.5L22.5,5.5M24.5,0.5L24.5,9.5M23.5,2.5L24.5,0.5M27.5,0.5L26.5,9.5M29.5,0.5L30.5,0.5M29.5,0.5L29.5,9.5M33.5,0.5L33.5,9.5M32.5,2.5L33.5,0.5M36.5,0.5L35.5,0.5L35.5,4.5L36.5,4.5L36.5,9.5L35.5,9.5M38.5,5.5L39.5,5.5M42.5,9.5L42.5,0.5L41.5,6.5L42.5,6.5M44.5,8.5L44.5,9.5M45.5,1.5L45.5,0.5L46.5,0.5L46.5,4.5L45.5,9.5L46.5,9.5M48.5,0.5L50.5,0.5L50.5,9.5L48.5,9.5L48.5,0.5M48.5,4.5L50.5,4.5" fill="none" stroke="#ffffff" stroke-width="1" stroke-linecap="butt"/>
<path transform="translate(1002,356)" d="M0.5,2.5L0.5,5.5M1.5,2.5L1.5,7.5M2.5,0.5L2.5,8.5M2.5,0.5L2.5,6.5M3.5,1.5L3.5,7.5M1.5,6.5L3.5,6.5M0.5,2.5L2.5,2.5M1.5,6.5L2.5,6.5M2.5,4.5L0.5,8.5M5.5,1.5L5.5,6.5M6.5,1.5L6.5,7.5M7.5,0.5L7.5,8.5M9.5,3.5L9.5,6.5M6.5,8.5L8.5,8.5M6.5,6.5L8.5,6.5M6.5,0.5L7.5,2.5M11.5,2.5L11.5,6.5M12.5,2.5L12.5,8.5M13.5,1.5L13.5,8.5M13.5,1.5L13.5,7.5M14.5,2.5L14.5,7.5M11.5,1.5L13.5,1.5M12.5,2.5L14.5,2.5M12.5,4.5L13.5,4.5M16.5,3.5L16.5,6.5M17.5,3.5L17.5,8.5M18.5,1.5L18.5,6.5M19.5,1.5L19.5,8.5M17.5,1.5L18.5,1.5M17.5,4.5L19.5,4.5M16.5,8.5L18.5,8.5M21.5,2.5L21.5,6.5M25.5,1.5L25.5,7.5M23.5,8.5L24.5,8.5M22.5,2.5L24.5,2.5M22.5,2.5L24.5,2.5M23.5,4.5L21.5,8.5" fill="none" stroke="#ffffff" stroke-width="1" stroke-linecap="butt"/>
<path transform="translate(844,385)" d="M0.5,0.5L0.5,9.5M1.5,0.5L1.5,6.5M2.5,0.5L2.5,9.5M2.5,0.5L2.5,6.5M3.5,3.5L3.5,8.5M1.5,9.5L2.5,9.5M0.5,7.5L2.5,7.5M1.5,1.5L2.5,1.5M1.5,0.5L2.5,2.5M5.5,2.5L5.5,6.5M6.5,2.5L6.5,8.5M7.5,0.5L7.5,9.5M7.5,0.5L7.5,6.5M8.5,1.5L8.5,7.5M6.5,7.5L8.5,7.5M5.5,3.5L7.5,3.5M6.5,7.5L7.5,7.5M7.5,4.5L5.5,9.5M10.5,0.5L10.5,9.5M11.5,0.5L11.5,6.5M12.5,1.5L12.5,6.5M14.5,0.5L14.5,8.5M11.5,1.5L13.5,1.5M12.5,7.5L14.5,7.5M10.5,5.5L12.5,5.5M12.5,4.5L14.5,9.5M16.5,0.5L16.5,9.5M18.5,1.5L18.5,8.5M18.5,1.5L18.5,7.5M19.5,0.5L19.5,9.5M16.5,5.5L19.5,5.5M17.5,3.5L19.5,3.5M16.5,1.5L18.5,1.5M18.5,4.5L19.5,9.5M21.5,1.5L21.5,9.5M22.5,1.5L22.5,8.5M23.5,0.5L23.5,9.5M23.5,0.5L23.5,6.5M24.5,3.5L24.5,8.5M21.5,7.5L23.5,7.5M21.5,1.5L23.5,1.5M22.5,5.5L23.5,5.5M22.5,0.5L23.5,2.5" fill="none" stroke="#ffffff" stroke-width="1" stroke-linecap="butt"/>
<path transform="translate(1124,301)" d="M0.5,0.5L0.5,7.5M3.5,0.5L3.5,6.5M1.5,3.5L2.5,3.5M0.5,9.5L3.5,9.5M0.5,3.5L3.5,3.5M2.5,4.5L0.5,9.5M5.5,1.5L5.5,8.5M6.5,1.5L6.5,7.5M7.5,2.5L7.5,9.5M9.5,0.5L9.5,6.5M6.5,5.5L8.5,5.5M6.5,7.5L9.5,7.5M11.5,0.5L11.5,7.5M12.5,0.5L12.5,7.5M13.5,1.5L13.5,7.5M13.5,1.5L13.5,8.5M14.5,0.5L14.5,9.5M11.5,3.5L14.5,3.5M11.5,1.5L13.5,1.5M12.5,7.5L13.5,7.5M12.5,0.5L13.5,2.5M16.5,0.5L16.5,9.5M17.5,0.5L17.5,6.5M18.5,0.5L18.5,6.5M17.5,9.5L19.5,9.5M18.5,3L18.5,4M17.5,0.5L18.5,2.5M22.5,0.5L22.5,9.5M23.5,0.5L23.5,6.5M24.5,1.5L24.5,6.5M25.5,2.5L25.5,8.5M23.5,5.5L24.5,5.5M23.5,9.5L24.5,9.5M22.5,1.5L24.5,1.5M27.5,0.5L27.5,9.5M28.5,0.5L28.5,6.5M31.5,2.5L31.5,7.5M28.5,7.5L30.5,7.5M27.5,5.5L30.5,5.5M28.5,9.5L30.5,9.5M28.5,0.5L29.5,2.5M33.5,3.5L33.5,8.5M34.5,3.5L34.5,9.5M35.5,2.5L35.5,7.5M36.5,2.5L36.5,8.5M33.5,5.5L35.5,5.5M34.5,9.5L36.5,9.5M35.5,4.5L36.5,9.5" fill="none" stroke="#ffffff" stroke-width="1" stroke-linecap="butt"/>
<path transform="translate(1124,500)" d="M0.5,0.5L0.5,7.5M3.5,0.5L3.5,6.5M1.5,3.5L2.5,3.5M0.5,9.5L3.5,9.5M0.5,3.5L3.5,3.5M2.5,4.5L0.5,9.5M5.5,1.5L5.5,8.5M6.5,1.5L6.5,7.5M7.5,2.5L7.5,9.5M9.5,0.5L9.5,6.5M6.5,5.5L8.5,5.5M6.5,7.5L9.5,7.5M11.5,0.5L11.5,7.5M12.5,0.5L12.5,7.5M13.5,1.5L13.5,7.5M13.5,1.5L13.5,8.5M14.5,0.5L14.5,9.5M11.5,3.5L14.5,3.5M11.5,1.5L13.5,1.5M12.5,7.5L13.5,7.5M12.5,0.5L13.5,2.5M16.5,0.5L16.5,9.5M17.5,0.5L17.5,6.5M18.5,0.5L18.5,6.5M17.5,9.5L19.5,9.5M18.5,3L18.5,4M17.5,0.5L18.5,2.5M22.5,0.5L22.5,9.5M23.5,0.5L23.5,6.5M24.5,1.5L24.5,6.5M25.5,2.5L25.5,8.5M23.5,5.5L24.5,5.5M23.5,9.5L24.5,9.5M22.5,1.5L24.5,1.5M27.5,0.5L27.5,9.5M28.5,0.5L28.5,6.5M31.5,2.5L31.5,7.5M28.5,7.5L30.5,7.5M27.5,5.5L30.5,5.5M28.5,9.5L30.5,9.5M28.5,0.5L29.5,2.5M33.5,3.5L33.5,8.5M34.5,3.5L34.5,9.5M35.5,2.5L35.5,7.5M36.5,2.5L36.5,8.5M33.5,5.5L35.5,5.5M34.5,9.5L36.5,9.5M35.5,4.5L36.5,9.5" fill="none" stroke="#ffffff" stroke-width="1" stroke-linecap="butt"/>
<path transform="translate(1314,543)" d="M0.5,0.5L0.5,7.5M3.5,0.5L3.5,6.5M1.5,3.5L2.5,3.5M0.5,9.5L3.5,9.5M0.5,3.5L3.5,3.5M2.5,4.5L0.5,9.5M5.5,1.5L5.5,8.5M6.5,1.5L6.5,7.5M7.5,2.5L7.5,9.5M9.5,0.5L9.5,6.5M6.5,5.5L8.5,5.5M6.5,7.5L9.5,7.5M11.5,0.5L11.5,7.5M12.5,0.5L12.5,7.5M13.5,1.5L13.5,7.5M13.5,1.5L13.5,8.5M14.5,0.5L14.5,9.5M11.5,3.5L14.5,3.5M11.5,1.5L13.5,1.5M12.5,7.5L13.5,7.5M12.5,0.5L13.5,2.5M16.5,0.5L16.5,9.5M17.5,0.5L17.5,6.5M18.5,0.5L18.5,6.5M17.5,9.5L19.5,9.5M18.5,3L18.5,4M17.5,0.5L18.5,2.5M22.5,0.5L22.5,9.5M23.5,0.5L23.5,6.5M24.5,1.5L24.5,6.5M25.5,2.5L25.5,8.5M23.5,5.5L24.5,5.5M23.5,9.5L24.5,9.5M22.5,1.5L24.5,1.5M27.5,0.5L27.5,9.5M28.5,0.5L28.5,6.5M31.5,2.5L31.5,7.5M28.5,7.5L30.5,7.5M27.5,5.5L30.5,5.5M28.5,9.5L30.5,9.5M28.5,0.5L29.5,2.5M33.5,3.5L33.5,8.5M34.5,3.5L34.5,9.5M35.5,2.5L35.5,7.5M36.5,2.5L36.5,8.5M33.5,5.5L35.5,5.5M34.5,9.5L36.5,9.5M35.5,4.5L36.5,9.5" fill="none" stroke="#ffffff" stroke-width="1" stroke-linecap="butt"/>
<path transform="translate(1265,379)" d="M0.5,0.5L0.5,9.5M2.5,2.5L2.5,8.5M4.5,2.5L4.5,7.5M1.5,1.5L4.5,1.5M1.5,5.5L3.5,5.5M1.5,0.5L2.5,2.5M6.5,2.5L6.5,7.5M7.5,2.5L7.5,8.5M8.5,1.5L8.5,9.5M9.5,1.5L9.5,8.5M7.5,5.5L8.5,5.5M7.5,9.5L8.5,9.5M7.5,3.5L8.5,3.5M7.5,0.5L8.5,2.5M11.5,1.5L11.5,7.5M12.5,1.5L12.5,7.5M13.5,0.5L13.5,7.5M14.5,0.5L14.5,9.5M12.5,1.5L13.5,1.5M11.5,5.5L14.5,5.5M11.5,9.5L14.5,9.5M12.5,0.5L13.5,2.5M16.5,3.5L16.5,6.5M17.5,3.5L17.5,9.5M18.5,0.5L18.5,9.5M20.5,0.5L20.5,7.5M17.5,1.5L19.5,1.5M17.5,9.5L19.5,9.5M18.5,4.5L16.5,9.5M22.5,2.5L22.5,6.5M23.5,2.5L23.5,8.5M24.5,0.5L24.5,9.5M25.5,0.5L25.5,6.5M26.5,1.5L26.5,7.5M24.5,7.5L26.5,7.5M22.5,3.5L25.5,3.5M23.5,7.5L25.5,7.5M24.5,4.5L22.5,9.5M28.5,0.5L28.5,9.5M29.5,0.5L29.5,6.5M30.5,1.5L30.5,6.5M31.5,0.5L31.5,8.5M29.5,1.5L30.5,1.5M29.5,7.5L31.5,7.5M28.5,5.5L30.5,5.5M30.5,4.5L31.5,9.5" fill="none" stroke="#ffffff" stroke-width="1" stroke-linecap="butt"/>
<path transform="translate(1170.4,384) rotate(-54.6)" d="M1.5,-4.5L1.5,-0.5M0.5,-3.5L1.5,-4.5M6.5,-4.5L4.5,-0.5M4.5,-4.5L5.5,-4.5L5.5,-3.5L4.5,-3.5L4.5,-4.5M5.5,-1.5L6.5,-1.5L6.5,-0.5L5.5,-0.5L5.5,-1.5" fill="none" stroke="#ffffff" stroke-width="1" stroke-linecap="butt"/>
<path transform="translate(1171.7,434.6) rotate(56.2)" d="M0.5,-4.5L1.5,-4.5L2.5,-4.5L2.5,-2.5L0.5,-0.5L2.5,-0.5M6.5,-4.5L4.5,-0.5M4.5,-4.5L5.5,-4.5L5.5,-3.5L4.5,-3.5L4.5,-4.5M5.5,-1.5L6.5,-1.5L6.5,-0.5L5.5,-0.5L5.5,-1.5" fill="none" stroke="#ffffff" stroke-width="1" stroke-linecap="butt"/>
<path transform="translate(1315.5,498.3) rotate(-33.4)" d="M0.5,-4.5L1.5,-4.5L2.5,-4.5L2.5,-2.5L0.5,-0.5L2.5,-0.5M6.5,-4.5L4.5,-0.5M4.5,-4.5L5.5,-4.5L5.5,-3.5L4.5,-3.5L4.5,-4.5M5.5,-1.5L6.5,-1.5L6.5,-0.5L5.5,-0.5L5.5,-1.5" fill="none" stroke="#ffffff" stroke-width="1" stroke-linecap="butt"/>
<path d="M627.3,185.19L628.52,185.06L629.75,184.43L630.8,183.8L630.8,190.1" fill="none" stroke="#ffffff" stroke-width="1" shape-rendering="crispEdges"/>
<path d="M626.1,195.81L627.39,195.7L628.69,195.15L629.8,194.6L629.8,200.1" fill="none" stroke="#ffffff" stroke-width="1" shape-rendering="crispEdges"/>
<path d="M629.8,195.81L631.02,195.7L632.25,195.15L633.3,194.6L633.3,200.1" fill="none" stroke="#ffffff" stroke-width="1" shape-rendering="crispEdges"/>
<path d="M627.3,257.19L628.52,257.06L629.75,256.43L630.8,255.8L630.8,262.1" fill="none" stroke="#ffffff" stroke-width="1" shape-rendering="crispEdges"/>
<path d="M626.1,267.81L627.39,267.7L628.69,267.15L629.8,266.6L629.8,272.1" fill="none" stroke="#ffffff" stroke-width="1" shape-rendering="crispEdges"/>
<path d="M629.8,267.81L631.02,267.7L632.25,267.15L633.3,266.6L633.3,272.1" fill="none" stroke="#ffffff" stroke-width="1" shape-rendering="crispEdges"/>
<path d="M823.2,391.69L824.42,391.56L825.65,390.93L826.7,390.3L826.7,396.6" fill="none" stroke="#ffffff" stroke-width="1" shape-rendering="crispEdges"/>
<path d="M822,402.31L823.29,402.2L824.59,401.65L825.7,401.1L825.7,406.6" fill="none" stroke="#ffffff" stroke-width="1" shape-rendering="crispEdges"/>
<path d="M825.7,402.31L826.92,402.2L828.15,401.65L829.2,401.1L829.2,406.6" fill="none" stroke="#ffffff" stroke-width="1" shape-rendering="crispEdges"/>
<path d="M267.2,379.19L268.43,379.06L269.65,378.43L270.7,377.8L270.7,384.1" fill="none" stroke="#ffffff" stroke-width="1" shape-rendering="crispEdges"/>
<path transform="translate(267,388)" d="M0.5,0.5L0.5,6.5L2.5,6.5L2.5,5.5L2.5,4.5L2.5,3.5L0.5,3.5M0.5,0.5L2.5,0.5L2.5,1.5L2.5,2.5L2.5,3.5M4.5,0.5L6.5,0.5L5.5,6.5" fill="none" stroke="#ffffff" stroke-width="1" stroke-linecap="butt"/>
<path d="M994.5,600.5L999.5,600.5L999.5,603.5L994.5,603.5M994.5,600.5L994.5,609.5L993.5,612.5M996.5,605.5L999.5,605.5M997.5,605.5L996.5,607.5L999.5,607.5M996.5,609.5L999.5,609.5M997.5,607.5L997.5,612.5M995.5,612.5L1000.5,612.5M1002.5,601.5L1005.5,601.5M1003.5,601.5L1003.5,612.5L1002.5,611.5M1005.5,600.5L1008.5,600.5M1006.5,600.5L1006.5,602.5M1005.5,602.5L1008.5,602.5L1008.5,609.5L1005.5,609.5L1005.5,602.5M1005.5,605.5L1008.5,605.5M1006.5,609.5L1005.5,612.5M1007.5,609.5L1008.5,612.5M1010.5,601.5L1015.5,601.5M1011.5,603.5L1012.5,605.5M1014.5,603.5L1013.5,605.5M1009.5,606.5L1016.5,606.5M1013.5,601.5L1013.5,612.5M1018.5,600.5L1024.5,600.5M1021.5,600.5L1021.5,602.5M1018.5,602.5L1024.5,602.5L1024.5,612.5L1018.5,612.5L1018.5,602.5M1020.5,602.5L1020.5,612.5M1022.5,602.5L1022.5,612.5M1020.5,605.5L1022.5,605.5M1020.5,608.5L1022.5,608.5M1026.5,600.5L1032.5,600.5L1032.5,612.5L1026.5,612.5L1026.5,600.5M1029.5,602.5L1027.5,605.5M1028.5,603.5L1030.5,603.5L1028.5,608.5M1029.5,605.5L1031.5,608.5M1029.5,609.5L1029.5,610.5" fill="none" stroke="#fff" stroke-width="1"/>
<path transform="translate(1079,605)" d="M1.5,0.5L1.5,6.5M0.5,2.5L1.5,0.5M4.5,2.5L4.5,3.5M4.5,5.5L4.5,6.5M7.5,0.5L7.5,6.5M6.5,2.5L7.5,0.5M10.5,0.5L12.5,0.5L12.5,6.5L10.5,6.5L10.5,0.5M14.5,0.5L17.5,0.5L17.5,6.5L14.5,6.5L14.5,0.5" fill="none" stroke="#ffffff" stroke-width="1" stroke-linecap="butt"/>
<path transform="translate(994,630)" d="M0.5,2.5L0.5,10.5M1.5,2.5L1.5,9.5M2.5,0.5L2.5,10.5M3.5,0.5L3.5,7.5M4.5,1.5L4.5,8.5M1.5,1.5L3.5,1.5M1.5,3.5L3.5,3.5M1.5,5.5L3.5,5.5M2.5,4.5L4.5,10.5M6.5,0.5L6.5,10.5M7.5,0.5L7.5,7.5M8.5,1.5L8.5,9.5M7.5,1.5L10.5,1.5M7.5,5.5L9.5,5.5M7.5,0.5L8.5,2.5M12.5,3.5L12.5,7.5M14.5,3.5L14.5,9.5M15.5,3.5L15.5,10.5M16.5,0.5L16.5,7.5M13.5,1.5L15.5,1.5M13.5,10.5L15.5,10.5M13.5,5.5L15.5,5.5M13.5,0.5L14.5,2.5M18.5,1.5L18.5,7.5M19.5,1.5L19.5,8.5M20.5,3.5L20.5,10.5M20.5,3.5L20.5,10.5M21.5,2.5L21.5,7.5M18.5,5.5L20.5,5.5M19.5,10.5L20.5,10.5M19.5,10.5L20.5,10.5M20.5,5.5L18.5,10.5M23.5,0.5L23.5,10.5M24.5,0.5L24.5,7.5M25.5,1.5L25.5,7.5M27.5,1.5L27.5,9.5M24.5,1.5L26.5,1.5M25.5,7.5L27.5,7.5M23.5,5.5L25.5,5.5M25.5,4.5L27.5,10.5M29.5,3.5L29.5,7.5M31.5,2.5L31.5,9.5M32.5,2.5L32.5,9.5M33.5,0.5L33.5,10.5M30.5,10.5L33.5,10.5M30.5,3.5L32.5,3.5M29.5,3.5L32.5,3.5M31.5,4.5L33.5,10.5" fill="none" stroke="#ffffff" stroke-width="1" stroke-linecap="butt"/>
<path transform="translate(1059,633)" d="M2.5,7.5L2.5,0.5L0.5,5.5L3.5,5.5M5.5,0.5L9.5,0.5L6.5,7.5M11.5,6.5L11.5,7.5M13.5,0.5L16.5,0.5L16.5,7.5L13.5,7.5L13.5,0.5M20.5,0.5L20.5,7.5M18.5,2.5L20.5,0.5M23.5,7.5L23.5,3.5L25.5,3.5L25.5,7.5M25.5,3.5L26.5,3.5L26.5,7.5" fill="none" stroke="#ffffff" stroke-width="1" stroke-linecap="butt"/>
<path transform="translate(1092,631)" d="M0.5,0.5L1.5,0.5L1.5,1.5L0.5,3.5L1.5,3.5" fill="none" stroke="#ffffff" stroke-width="1" stroke-linecap="butt"/>
<path transform="translate(992,650)" d="M0.5,3.5L0.5,9.5M2.5,0.5L2.5,9.5M0.5,1.5L4.5,1.5M0.5,3.5L3.5,3.5M1.5,0.5L2.5,2.5M6.5,3.5L6.5,7.5M7.5,3.5L7.5,10.5M8.5,0.5L8.5,8.5M7.5,10.5L9.5,10.5M7.5,3.5L10.5,3.5M6.5,3.5L9.5,3.5M7.5,0.5L8.5,2.5M12.5,3.5L12.5,4.5M12.5,8.5L12.5,10.5" fill="none" stroke="#ffffff" stroke-width="1" stroke-linecap="butt"/>
<path transform="translate(991,664)" d="M1.5,0.5L1.5,10.5M0.5,2.5L1.5,0.5M3.5,8.5L3.5,10.5M9.5,2.5L9.5,7.5M10.5,2.5L10.5,9.5M11.5,0.5L11.5,10.5M12.5,0.5L12.5,7.5M13.5,1.5L13.5,8.5M11.5,7.5L13.5,7.5M9.5,3.5L12.5,3.5M10.5,7.5L12.5,7.5M11.5,5.5L9.5,10.5M15.5,0.5L15.5,10.5M16.5,0.5L16.5,7.5M17.5,1.5L17.5,7.5M20.5,1.5L20.5,9.5M16.5,1.5L18.5,1.5M17.5,7.5L20.5,7.5M15.5,5.5L18.5,5.5M17.5,4.5L20.5,10.5M22.5,0.5L22.5,10.5M24.5,2.5L24.5,8.5M25.5,2.5L25.5,9.5M26.5,0.5L26.5,10.5M23.5,3.5L26.5,3.5M22.5,5.5L25.5,5.5M28.5,0.5L28.5,10.5M29.5,0.5L29.5,7.5M32.5,0.5L32.5,10.5M28.5,5.5L31.5,5.5M29.5,10.5L31.5,10.5M34.5,1.5L34.5,7.5M35.5,1.5L35.5,8.5M36.5,1.5L36.5,8.5M38.5,0.5L38.5,9.5M34.5,10.5L37.5,10.5M35.5,5.5L37.5,5.5M35.5,7.5L36.5,7.5M35.5,0.5L36.5,2.5M40.5,0.5L40.5,10.5M41.5,0.5L41.5,7.5M42.5,1.5L42.5,7.5M43.5,1.5L43.5,8.5M44.5,1.5L44.5,9.5M42.5,10.5L43.5,10.5M40.5,5.5L43.5,5.5M41.5,10.5L44.5,10.5M41.5,0.5L42.5,2.5M46.5,0.5L46.5,10.5M48.5,0.5L48.5,10.5M50.5,1.5L50.5,10.5M46.5,10.5L49.5,10.5M47.5,5.5L49.5,5.5M47.5,7.5L49.5,7.5M48.5,5.5L46.5,10.5M52.5,0.5L52.5,10.5M53.5,0.5L53.5,7.5M56.5,0.5L56.5,10.5M53.5,3.5L54.5,3.5M53.5,5.5L56.5,5.5M53.5,1.5L55.5,1.5M58.5,2.5L58.5,9.5M60.5,2.5L60.5,9.5M61.5,2.5L61.5,9.5M62.5,0.5L62.5,8.5M58.5,5.5L61.5,5.5M59.5,7.5L61.5,7.5M59.5,3.5L62.5,3.5M59.5,0.5L60.5,2.5M64.5,0.5L64.5,10.5M66.5,1.5L66.5,9.5M68.5,1.5L68.5,8.5M69.5,0.5L69.5,10.5M64.5,5.5L68.5,5.5M66.5,3.5L68.5,3.5M64.5,1.5L68.5,1.5M66.5,4.5L69.5,10.5M71.5,2.5L71.5,10.5M72.5,2.5L72.5,9.5M73.5,1.5L73.5,9.5M74.5,1.5L74.5,8.5M75.5,0.5L75.5,10.5M72.5,7.5L74.5,7.5M72.5,1.5L75.5,1.5M73.5,4.5L75.5,10.5" fill="none" stroke="#ffffff" stroke-width="1" stroke-linecap="butt"/>
<path transform="translate(1088,666)" d="M0.5,0.5L0.5,8.5M0.5,2.5L0.5,0.5M2.5,1.5L2.5,0.5L3.5,0.5L3.5,4.5L2.5,8.5L3.5,8.5M6.5,0.5L6.5,8.5L5.5,8.5L5.5,6.5M8.5,1.5L8.5,0.5L9.5,0.5L9.5,4.5L8.5,8.5L9.5,8.5M11.5,0.5L12.5,0.5L12.5,8.5L11.5,8.5L11.5,0.5M15.5,0.5L15.5,8.5M14.5,2.5L15.5,0.5M17.5,4.5L18.5,4.5M19.5,0.5L19.5,8.5M19.5,2.5L19.5,0.5M22.5,0.5L21.5,8.5M24.5,0.5L24.5,8.5L25.5,8.5L25.5,7.5L25.5,5.5L25.5,4.5L24.5,4.5M24.5,0.5L25.5,0.5L25.5,1.5L25.5,3.5L25.5,4.5M27.5,0.5L28.5,0.5L27.5,8.5" fill="none" stroke="#ffffff" stroke-width="1" stroke-linecap="butt"/>
<path transform="translate(991,678)" d="M0.5,1.5L0.5,0.5L1.5,0.5L1.5,4.5L0.5,10.5L1.5,10.5M3.5,8.5L3.5,10.5M10.5,2.5L10.5,7.5M11.5,2.5L11.5,9.5M12.5,0.5L12.5,10.5M13.5,0.5L13.5,7.5M14.5,1.5L14.5,8.5M12.5,7.5L14.5,7.5M10.5,3.5L13.5,3.5M11.5,7.5L13.5,7.5M12.5,5.5L10.5,10.5M16.5,0.5L16.5,10.5M17.5,0.5L17.5,7.5M18.5,1.5L18.5,7.5M20.5,1.5L20.5,9.5M17.5,1.5L19.5,1.5M18.5,7.5L20.5,7.5M16.5,5.5L18.5,5.5M18.5,4.5L20.5,10.5M22.5,0.5L22.5,10.5M23.5,0.5L23.5,7.5M24.5,2.5L24.5,7.5M25.5,2.5L25.5,9.5M26.5,0.5L26.5,10.5M23.5,1.5L25.5,1.5M23.5,7.5L26.5,7.5M22.5,1.5L25.5,1.5M24.5,5.5L22.5,10.5M28.5,1.5L28.5,9.5M32.5,1.5L32.5,9.5M29.5,10.5L32.5,10.5M29.5,3.5L32.5,3.5M30.5,5.5L28.5,10.5M35.5,0.5L35.5,10.5M37.5,0.5L37.5,10.5M39.5,1.5L39.5,10.5M35.5,10.5L38.5,10.5M36.5,5.5L38.5,5.5M36.5,7.5L38.5,7.5M37.5,5.5L35.5,10.5M41.5,0.5L41.5,10.5M42.5,0.5L42.5,7.5M45.5,0.5L45.5,10.5M42.5,3.5L43.5,3.5M42.5,5.5L45.5,5.5M42.5,1.5L44.5,1.5M47.5,2.5L47.5,9.5M49.5,2.5L49.5,9.5M50.5,2.5L50.5,9.5M51.5,0.5L51.5,8.5M47.5,5.5L50.5,5.5M48.5,7.5L50.5,7.5M48.5,3.5L51.5,3.5M48.5,0.5L49.5,2.5M53.5,2.5L53.5,9.5M55.5,1.5L55.5,7.5M56.5,1.5L56.5,8.5M57.5,4.5L57.5,10.5M54.5,1.5L56.5,1.5M54.5,5.5L56.5,5.5M53.5,10.5L56.5,10.5M54.5,0.5L55.5,2.5M59.5,2.5L59.5,10.5M60.5,2.5L60.5,9.5M61.5,1.5L61.5,9.5M62.5,1.5L62.5,8.5M63.5,0.5L63.5,10.5M60.5,7.5L62.5,7.5M60.5,1.5L63.5,1.5M61.5,4.5L63.5,10.5" fill="none" stroke="#ffffff" stroke-width="1" stroke-linecap="butt"/>
<path transform="translate(1072,680)" d="M0.5,0.5L0.5,8.5M0.5,2.5L0.5,0.5M2.5,1.5L3.5,0.5L4.5,0.5L4.5,4.5L2.5,8.5L4.5,8.5M7.5,0.5L7.5,8.5L6.5,8.5L6.5,6.5M9.5,1.5L9.5,0.5L10.5,0.5L10.5,4.5L9.5,8.5L10.5,8.5M12.5,0.5L13.5,0.5L13.5,8.5L12.5,8.5L12.5,0.5M15.5,0.5L15.5,8.5M15.5,2.5L15.5,0.5M17.5,4.5L18.5,4.5M20.5,8.5L20.5,0.5L21.5,8.5M20.5,5.5L21.5,5.5M23.5,1.5L23.5,0.5L24.5,0.5L24.5,4.5L23.5,8.5L24.5,8.5M26.5,0.5L27.5,0.5L27.5,8.5L26.5,8.5L26.5,0.5" fill="none" stroke="#ffffff" stroke-width="1" stroke-linecap="butt"/>
<path transform="translate(991,692)" d="M0.5,0.5L1.5,0.5L1.5,10.5L0.5,10.5M0.5,5.5L1.5,5.5M3.5,8.5L3.5,10.5M10.5,2.5L10.5,7.5M11.5,2.5L11.5,9.5M12.5,0.5L12.5,10.5M13.5,0.5L13.5,7.5M14.5,1.5L14.5,8.5M12.5,7.5L14.5,7.5M10.5,3.5L13.5,3.5M11.5,7.5L13.5,7.5M12.5,5.5L10.5,10.5M16.5,0.5L16.5,10.5M17.5,0.5L17.5,7.5M18.5,1.5L18.5,7.5M20.5,1.5L20.5,9.5M17.5,1.5L19.5,1.5M18.5,7.5L20.5,7.5M16.5,5.5L18.5,5.5M18.5,4.5L20.5,10.5M22.5,1.5L22.5,9.5M23.5,1.5L23.5,8.5M24.5,3.5L24.5,9.5M26.5,2.5L26.5,8.5M23.5,1.5L25.5,1.5M22.5,5.5L26.5,5.5M23.5,3.5L25.5,3.5M24.5,4.5L26.5,10.5M28.5,1.5L28.5,7.5M29.5,1.5L29.5,8.5M30.5,2.5L30.5,7.5M32.5,2.5L32.5,9.5M33.5,3.5L33.5,7.5M30.5,7.5L32.5,7.5M30.5,1.5L33.5,1.5M29.5,1.5L32.5,1.5M29.5,0.5L30.5,2.5M35.5,2.5L35.5,9.5M36.5,2.5L36.5,9.5M37.5,0.5L37.5,10.5M38.5,0.5L38.5,7.5M39.5,3.5L39.5,7.5M35.5,7.5L39.5,7.5M36.5,1.5L38.5,1.5M41.5,0.5L41.5,10.5M42.5,0.5L42.5,7.5M45.5,0.5L45.5,10.5M42.5,3.5L43.5,3.5M42.5,5.5L45.5,5.5M42.5,1.5L44.5,1.5M47.5,2.5L47.5,9.5M49.5,2.5L49.5,9.5M50.5,2.5L50.5,9.5M51.5,0.5L51.5,8.5M47.5,5.5L50.5,5.5M48.5,7.5L50.5,7.5M48.5,3.5L51.5,3.5M48.5,0.5L49.5,2.5M53.5,2.5L53.5,9.5M55.5,1.5L55.5,7.5M56.5,1.5L56.5,8.5M57.5,4.5L57.5,10.5M54.5,1.5L56.5,1.5M54.5,5.5L56.5,5.5M53.5,10.5L56.5,10.5M54.5,0.5L55.5,2.5M59.5,2.5L59.5,10.5M60.5,2.5L60.5,9.5M61.5,1.5L61.5,9.5M62.5,1.5L62.5,8.5M63.5,0.5L63.5,10.5M60.5,7.5L62.5,7.5M60.5,1.5L63.5,1.5M61.5,4.5L63.5,10.5" fill="none" stroke="#ffffff" stroke-width="1" stroke-linecap="butt"/>
<path transform="translate(1072,694)" d="M1.5,0.5L1.5,8.5M0.5,2.5L1.5,0.5M4.5,0.5L3.5,0.5L3.5,4.5L4.5,4.5L4.5,8.5L3.5,8.5M7.5,0.5L7.5,8.5L6.5,8.5L6.5,6.5M10.5,8.5L10.5,0.5L9.5,6.5L10.5,6.5M12.5,0.5L13.5,0.5L13.5,8.5L12.5,8.5L12.5,0.5M16.5,0.5L16.5,8.5M15.5,2.5L16.5,0.5M18.5,4.5L19.5,4.5M21.5,0.5L21.5,8.5L21.5,2.5L22.5,8.5L22.5,0.5M24.5,0.5L25.5,0.5M24.5,0.5L24.5,8.5M27.5,1.5L27.5,0.5L28.5,0.5L28.5,4.5L27.5,8.5L28.5,8.5M31.5,3.5L30.5,3.5L30.5,8.5L31.5,8.5M33.5,4.5L34.5,4.5M37.5,8.5L37.5,0.5L36.5,6.5L37.5,6.5M39.5,7.5L39.5,8.5M41.5,1.5L41.5,0.5L42.5,0.5L42.5,4.5L41.5,8.5L42.5,8.5M44.5,0.5L45.5,0.5L45.5,8.5L44.5,8.5L44.5,0.5M44.5,4.5L45.5,4.5" fill="none" stroke="#ffffff" stroke-width="1" stroke-linecap="butt"/>
<path transform="translate(991,706)" d="M1.5,11.5L1.5,0.5L0.5,8.5L1.5,8.5M3.5,9.5L3.5,11.5M10.5,1.5L10.5,9.5M12.5,2.5L12.5,10.5M14.5,2.5L14.5,10.5M15.5,0.5L15.5,8.5M10.5,3.5L14.5,3.5M12.5,6.5L14.5,6.5M11.5,1.5L14.5,1.5M12.5,6.5L10.5,11.5M17.5,2.5L17.5,7.5M18.5,2.5L18.5,10.5M19.5,0.5L19.5,11.5M20.5,0.5L20.5,8.5M21.5,1.5L21.5,9.5M19.5,8.5L21.5,8.5M17.5,3.5L20.5,3.5M18.5,8.5L20.5,8.5M19.5,6.5L17.5,11.5M23.5,0.5L23.5,11.5M24.5,0.5L24.5,8.5M25.5,1.5L25.5,7.5M27.5,1.5L27.5,10.5M24.5,1.5L26.5,1.5M25.5,8.5L27.5,8.5M23.5,6.5L25.5,6.5M25.5,5.5L27.5,11.5M29.5,2.5L29.5,7.5M31.5,0.5L31.5,11.5M32.5,0.5L32.5,8.5M33.5,1.5L33.5,10.5M30.5,8.5L33.5,8.5M30.5,6.5L33.5,6.5M31.5,5.5L33.5,11.5M35.5,0.5L35.5,10.5M36.5,0.5L36.5,8.5M37.5,3.5L37.5,8.5M39.5,3.5L39.5,11.5M40.5,1.5L40.5,7.5M37.5,6.5L40.5,6.5M36.5,11.5L40.5,11.5M36.5,1.5L38.5,1.5M37.5,6.5L35.5,11.5M42.5,2.5L42.5,7.5M43.5,2.5L43.5,10.5M44.5,0.5L44.5,11.5M45.5,0.5L45.5,8.5M46.5,1.5L46.5,9.5M44.5,8.5L46.5,8.5M42.5,3.5L45.5,3.5M43.5,8.5L45.5,8.5M44.5,6.5L42.5,11.5M48.5,0.5L48.5,11.5M49.5,0.5L49.5,8.5M50.5,1.5L50.5,7.5M52.5,1.5L52.5,10.5M49.5,1.5L51.5,1.5M50.5,8.5L52.5,8.5M48.5,6.5L50.5,6.5M50.5,5.5L52.5,11.5M54.5,3.5L54.5,8.5M56.5,1.5L56.5,11.5M59.5,0.5L59.5,11.5M55.5,6.5L59.5,6.5M54.5,8.5L59.5,8.5M54.5,3.5L59.5,3.5M56.5,5.5L59.5,11.5M61.5,1.5L61.5,8.5M63.5,0.5L63.5,11.5M64.5,0.5L64.5,8.5M65.5,3.5L65.5,9.5M61.5,3.5L64.5,3.5M61.5,1.5L64.5,1.5M62.5,8.5L64.5,8.5M62.5,0.5L63.5,3.5M67.5,0.5L67.5,11.5M68.5,0.5L68.5,8.5M69.5,0.5L69.5,11.5M71.5,2.5L71.5,8.5M68.5,11.5L71.5,11.5M67.5,6.5L70.5,6.5M69.5,5.5L71.5,11.5M73.5,0.5L73.5,11.5M74.5,0.5L74.5,8.5M76.5,1.5L76.5,8.5M77.5,1.5L77.5,9.5M74.5,8.5L76.5,8.5M74.5,1.5L77.5,1.5M80.5,0.5L80.5,11.5M82.5,0.5L82.5,11.5M84.5,1.5L84.5,11.5M80.5,11.5L83.5,11.5M81.5,6.5L83.5,6.5M81.5,8.5L83.5,8.5M82.5,6.5L80.5,11.5M86.5,1.5L86.5,9.5M87.5,1.5L87.5,9.5M88.5,0.5L88.5,10.5M86.5,8.5L89.5,8.5M87.5,1.5L89.5,1.5M87.5,11.5L89.5,11.5M88.5,5.5L90.5,11.5M92.5,9.5L92.5,13.5M94.5,0.5L94.5,11.5M98.5,4.5L98.5,9.5M96.5,8.5L97.5,8.5M95.5,1.5L97.5,1.5M95.5,6.5L97.5,6.5M96.5,6.5L94.5,11.5M100.5,0.5L100.5,11.5M102.5,0.5L102.5,11.5M105.5,1.5L105.5,11.5M101.5,11.5L103.5,11.5M101.5,6.5L103.5,6.5M102.5,8.5L104.5,8.5M102.5,6.5L100.5,11.5M107.5,1.5L107.5,9.5M111.5,1.5L111.5,10.5M108.5,11.5L110.5,11.5M108.5,3.5L110.5,3.5M109.5,6.5L107.5,11.5M113.5,3.5L113.5,7.5M115.5,3.5L115.5,8.5M116.5,3.5L116.5,10.5M117.5,0.5L117.5,11.5M114.5,3.5L116.5,3.5M113.5,8.5L116.5,8.5M115.5,6.5L113.5,11.5M119.5,1.5L119.5,8.5M120.5,1.5L120.5,9.5M121.5,3.5L121.5,8.5M124.5,1.5L124.5,10.5M121.5,8.5L123.5,8.5M120.5,3.5L122.5,3.5M119.5,1.5L123.5,1.5M126.5,0.5L126.5,10.5M127.5,0.5L127.5,8.5M128.5,0.5L128.5,11.5M130.5,3.5L130.5,9.5M127.5,3.5L130.5,3.5M126.5,8.5L129.5,8.5M127.5,1.5L129.5,1.5M127.5,0.5L128.5,3.5M132.5,0.5L132.5,10.5M133.5,0.5L133.5,8.5M134.5,3.5L134.5,8.5M135.5,3.5L135.5,11.5M136.5,1.5L136.5,7.5M133.5,6.5L136.5,6.5M133.5,11.5L136.5,11.5M133.5,1.5L134.5,1.5M134.5,6.5L132.5,11.5M138.5,2.5L138.5,7.5M139.5,2.5L139.5,10.5M140.5,0.5L140.5,11.5M142.5,0.5L142.5,8.5M143.5,1.5L143.5,9.5M140.5,8.5L143.5,8.5M138.5,3.5L142.5,3.5M139.5,8.5L142.5,8.5M140.5,6.5L138.5,11.5M145.5,0.5L145.5,11.5M146.5,0.5L146.5,8.5M147.5,1.5L147.5,7.5M149.5,1.5L149.5,10.5M146.5,1.5L148.5,1.5M147.5,8.5L149.5,8.5M145.5,6.5L147.5,6.5M147.5,5.5L149.5,11.5M151.5,3.5L151.5,9.5M152.5,3.5L152.5,10.5M153.5,1.5L153.5,11.5M155.5,1.5L155.5,10.5M152.5,6.5L154.5,6.5M152.5,11.5L154.5,11.5M152.5,3.5L154.5,3.5M152.5,0.5L153.5,3.5M157.5,1.5L157.5,9.5M158.5,1.5L158.5,9.5M159.5,0.5L159.5,8.5M160.5,0.5L160.5,8.5M161.5,3.5L161.5,11.5M157.5,3.5L159.5,3.5M158.5,1.5L161.5,1.5M158.5,8.5L161.5,8.5M163.5,0.5L163.5,11.5M167.5,1.5L167.5,7.5M163.5,1.5L166.5,1.5M164.5,6.5L168.5,6.5M165.5,5.5L168.5,11.5M170.5,0.5L170.5,11.5M171.5,0.5L171.5,8.5M172.5,0.5L172.5,9.5M173.5,0.5L173.5,8.5M174.5,0.5L174.5,8.5M171.5,6.5L173.5,6.5M171.5,8.5L172.5,8.5M176.5,0.5L176.5,11.5M178.5,0.5L178.5,11.5M180.5,1.5L180.5,11.5M176.5,11.5L179.5,11.5M177.5,6.5L179.5,6.5M177.5,8.5L179.5,8.5M178.5,6.5L176.5,11.5M182.5,2.5L182.5,8.5M183.5,2.5L183.5,9.5M184.5,0.5L184.5,11.5M187.5,2.5L187.5,10.5M183.5,8.5L187.5,8.5M182.5,1.5L185.5,1.5M184.5,5.5L187.5,11.5M189.5,4.5L189.5,11.5M190.5,4.5L190.5,11.5M191.5,0.5L191.5,11.5M193.5,1.5L193.5,8.5M190.5,11.5L191.5,11.5M190.5,6.5L192.5,6.5M190.5,0.5L191.5,3.5M195.5,9.5L195.5,13.5" fill="none" stroke="#ffffff" stroke-width="1" stroke-linecap="butt"/>
<path transform="translate(992,721)" d="M0.5,0.5L0.5,10.5M1.5,0.5L1.5,7.5M4.5,0.5L4.5,10.5M1.5,3.5L2.5,3.5M1.5,5.5L4.5,5.5M1.5,1.5L3.5,1.5M6.5,2.5L6.5,9.5M8.5,2.5L8.5,9.5M9.5,2.5L9.5,9.5M10.5,0.5L10.5,8.5M6.5,5.5L9.5,5.5M7.5,7.5L9.5,7.5M7.5,3.5L10.5,3.5M7.5,0.5L8.5,2.5M12.5,0.5L12.5,10.5M14.5,1.5L14.5,9.5M15.5,1.5L15.5,8.5M16.5,0.5L16.5,10.5M12.5,5.5L16.5,5.5M13.5,3.5L15.5,3.5M12.5,1.5L15.5,1.5M14.5,4.5L16.5,10.5M18.5,2.5L18.5,10.5M19.5,2.5L19.5,9.5M20.5,1.5L20.5,9.5M21.5,1.5L21.5,8.5M22.5,0.5L22.5,10.5M19.5,7.5L21.5,7.5M19.5,1.5L22.5,1.5M20.5,4.5L22.5,10.5" fill="none" stroke="#ffffff" stroke-width="1" stroke-linecap="butt"/>
<path transform="translate(1024,722)" d="M0.5,0.5L1.5,0.5L1.5,8.5L0.5,8.5L0.5,0.5M4.5,0.5L3.5,0.5L3.5,4.5L4.5,4.5L4.5,8.5L3.5,8.5M6.5,0.5L6.5,8.5L5.5,8.5L5.5,6.5M9.5,0.5L9.5,8.5M8.5,2.5L9.5,0.5M11.5,0.5L11.5,8.5M10.5,2.5L11.5,0.5M12.5,4.5L13.5,4.5M15.5,0.5L15.5,8.5M14.5,2.5L15.5,0.5M17.5,0.5L16.5,8.5M18.5,0.5L19.5,0.5M18.5,0.5L18.5,8.5M22.5,0.5L22.5,8.5M21.5,2.5L22.5,0.5M24.5,0.5L23.5,0.5L23.5,4.5L24.5,4.5L24.5,8.5L23.5,8.5" fill="none" stroke="#ffffff" stroke-width="1" stroke-linecap="butt"/>
</svg>
</body></html>
